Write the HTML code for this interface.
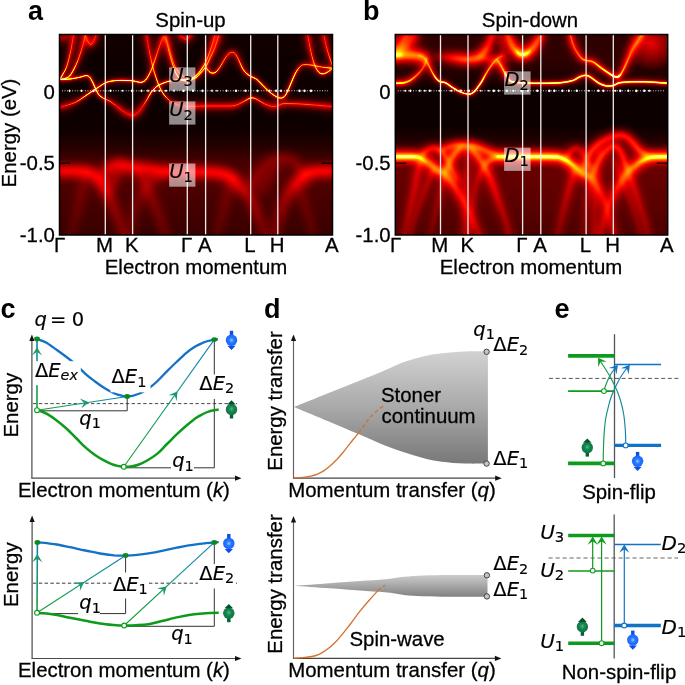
<!DOCTYPE html>
<html lang="en"><head><meta charset="utf-8"><title>Figure</title>
<style>
html,body{margin:0;padding:0;background:#fff}
svg{display:block}
.t{font-family:"Liberation Sans",sans-serif;font-size:20.4px;fill:#000;stroke:#000;stroke-width:.28px}
.b{font-family:"Liberation Sans",sans-serif;font-size:27px;font-weight:bold;fill:#000}
.m{font-family:"DejaVu Sans",sans-serif;font-style:italic;fill:#000;stroke:#000;stroke-width:.15px}
.r{font-family:"DejaVu Sans",sans-serif;font-style:normal;fill:#000;stroke:#000;stroke-width:.15px}
</style></head><body>
<svg width="685" height="685" viewBox="0 0 685 685">
<defs>
<filter id="hot" filterUnits="userSpaceOnUse" x="0" y="0" width="685" height="300" color-interpolation-filters="sRGB"><feComponentTransfer><feFuncR type="table" tableValues="0.042 0.094 0.147 0.199 0.252 0.304 0.357 0.409 0.462 0.514 0.567 0.619 0.672 0.724 0.777 0.829 0.882 0.934 0.987 1.000 1.000 1.000 1.000 1.000 1.000 1.000 1.000 1.000 1.000 1.000 1.000 1.000 1.000 1.000 1.000 1.000 1.000 1.000 1.000 1.000 1.000 1.000 1.000 1.000 1.000 1.000 1.000 1.000 1.000 1.000 1.000"/><feFuncG type="table" tableValues="0.000 0.000 0.000 0.000 0.000 0.000 0.000 0.000 0.000 0.000 0.000 0.000 0.000 0.000 0.000 0.000 0.000 0.000 0.000 0.039 0.092 0.144 0.197 0.249 0.302 0.354 0.407 0.459 0.512 0.564 0.617 0.669 0.722 0.774 0.827 0.879 0.932 0.984 1.000 1.000 1.000 1.000 1.000 1.000 1.000 1.000 1.000 1.000 1.000 1.000 1.000"/><feFuncB type="table" tableValues="0.000 0.000 0.000 0.000 0.000 0.000 0.000 0.000 0.000 0.000 0.000 0.000 0.000 0.000 0.000 0.000 0.000 0.000 0.000 0.000 0.000 0.000 0.000 0.000 0.000 0.000 0.000 0.000 0.000 0.000 0.000 0.000 0.000 0.000 0.000 0.000 0.000 0.000 0.055 0.134 0.213 0.291 0.370 0.449 0.528 0.606 0.685 0.764 0.843 0.921 1.000"/></feComponentTransfer></filter>
<filter id="b5" filterUnits="userSpaceOnUse" x="0" y="0" width="685" height="300" color-interpolation-filters="sRGB"><feGaussianBlur stdDeviation="4.5"/></filter>
<filter id="b2" filterUnits="userSpaceOnUse" x="0" y="0" width="685" height="300" color-interpolation-filters="sRGB"><feGaussianBlur stdDeviation="2"/></filter>
<filter id="b25" filterUnits="userSpaceOnUse" x="0" y="0" width="685" height="300" color-interpolation-filters="sRGB"><feGaussianBlur stdDeviation="2.5"/></filter>
<filter id="b1" filterUnits="userSpaceOnUse" x="0" y="0" width="685" height="300" color-interpolation-filters="sRGB"><feGaussianBlur stdDeviation="1"/></filter>
<filter id="b04" filterUnits="userSpaceOnUse" x="0" y="0" width="685" height="300" color-interpolation-filters="sRGB"><feGaussianBlur stdDeviation="0.3"/></filter>
<clipPath id="clip1"><rect x="59.5" y="34.5" width="273.0" height="200.5"/></clipPath><clipPath id="clip2"><rect x="395.3" y="34.5" width="272.4" height="200.5"/></clipPath>
<linearGradient id="g1" gradientUnits="userSpaceOnUse" x1="59.5" y1="0" x2="187.3" y2="0"><stop offset="0.000" stop-color="#fff" stop-opacity="1.000"/><stop offset="0.082" stop-color="#fff" stop-opacity="1.000"/><stop offset="0.160" stop-color="#fff" stop-opacity="0.988"/><stop offset="0.207" stop-color="#fff" stop-opacity="0.958"/><stop offset="0.235" stop-color="#fff" stop-opacity="0.985"/><stop offset="0.262" stop-color="#fff" stop-opacity="1.000"/><stop offset="0.290" stop-color="#fff" stop-opacity="1.000"/><stop offset="0.317" stop-color="#fff" stop-opacity="0.987"/><stop offset="0.360" stop-color="#fff" stop-opacity="0.575"/><stop offset="0.395" stop-color="#fff" stop-opacity="0.475"/><stop offset="0.444" stop-color="#fff" stop-opacity="0.245"/><stop offset="0.513" stop-color="#fff" stop-opacity="0.165"/><stop offset="0.574" stop-color="#fff" stop-opacity="0.165"/><stop offset="0.614" stop-color="#fff" stop-opacity="0.165"/><stop offset="0.650" stop-color="#fff" stop-opacity="0.215"/><stop offset="0.685" stop-color="#fff" stop-opacity="0.565"/><stop offset="0.714" stop-color="#fff" stop-opacity="1.000"/><stop offset="0.747" stop-color="#fff" stop-opacity="1.000"/><stop offset="0.783" stop-color="#fff" stop-opacity="1.000"/><stop offset="0.857" stop-color="#fff" stop-opacity="1.000"/><stop offset="0.927" stop-color="#fff" stop-opacity="1.000"/><stop offset="1.000" stop-color="#fff" stop-opacity="1.000"/></linearGradient>
<linearGradient id="g2" gradientUnits="userSpaceOnUse" x1="59.5" y1="0" x2="187.3" y2="0"><stop offset="0.000" stop-color="#fff" stop-opacity="0.000"/><stop offset="0.082" stop-color="#fff" stop-opacity="0.000"/><stop offset="0.160" stop-color="#fff" stop-opacity="0.013"/><stop offset="0.207" stop-color="#fff" stop-opacity="0.049"/><stop offset="0.235" stop-color="#fff" stop-opacity="0.018"/><stop offset="0.262" stop-color="#fff" stop-opacity="0.000"/><stop offset="0.290" stop-color="#fff" stop-opacity="0.000"/><stop offset="0.317" stop-color="#fff" stop-opacity="0.015"/><stop offset="0.360" stop-color="#fff" stop-opacity="0.268"/><stop offset="0.395" stop-color="#fff" stop-opacity="0.422"/><stop offset="0.444" stop-color="#fff" stop-opacity="0.774"/><stop offset="0.513" stop-color="#fff" stop-opacity="0.897"/><stop offset="0.574" stop-color="#fff" stop-opacity="0.897"/><stop offset="0.614" stop-color="#fff" stop-opacity="0.897"/><stop offset="0.650" stop-color="#fff" stop-opacity="0.820"/><stop offset="0.685" stop-color="#fff" stop-opacity="0.284"/><stop offset="0.714" stop-color="#fff" stop-opacity="0.000"/><stop offset="0.747" stop-color="#fff" stop-opacity="0.000"/><stop offset="0.783" stop-color="#fff" stop-opacity="0.000"/><stop offset="0.857" stop-color="#fff" stop-opacity="0.000"/><stop offset="0.927" stop-color="#fff" stop-opacity="0.000"/><stop offset="1.000" stop-color="#fff" stop-opacity="0.000"/></linearGradient>
<linearGradient id="g3" gradientUnits="userSpaceOnUse" x1="59.5" y1="0" x2="187.3" y2="0"><stop offset="0.000" stop-color="#fff" stop-opacity="0.170"/><stop offset="0.067" stop-color="#fff" stop-opacity="0.290"/><stop offset="0.136" stop-color="#fff" stop-opacity="0.465"/><stop offset="0.221" stop-color="#fff" stop-opacity="1.000"/><stop offset="0.290" stop-color="#fff" stop-opacity="1.000"/><stop offset="0.360" stop-color="#fff" stop-opacity="1.000"/><stop offset="0.411" stop-color="#fff" stop-opacity="1.000"/><stop offset="0.467" stop-color="#fff" stop-opacity="1.000"/><stop offset="0.520" stop-color="#fff" stop-opacity="1.000"/><stop offset="0.574" stop-color="#fff" stop-opacity="1.000"/><stop offset="0.614" stop-color="#fff" stop-opacity="1.000"/><stop offset="0.646" stop-color="#fff" stop-opacity="1.000"/><stop offset="0.682" stop-color="#fff" stop-opacity="1.000"/><stop offset="0.728" stop-color="#fff" stop-opacity="0.594"/><stop offset="0.774" stop-color="#fff" stop-opacity="0.342"/><stop offset="0.798" stop-color="#fff" stop-opacity="0.219"/><stop offset="0.815" stop-color="#fff" stop-opacity="0.165"/><stop offset="0.829" stop-color="#fff" stop-opacity="0.190"/><stop offset="0.842" stop-color="#fff" stop-opacity="0.258"/><stop offset="0.865" stop-color="#fff" stop-opacity="0.427"/><stop offset="0.892" stop-color="#fff" stop-opacity="0.594"/><stop offset="0.919" stop-color="#fff" stop-opacity="0.950"/><stop offset="0.956" stop-color="#fff" stop-opacity="1.000"/><stop offset="1.000" stop-color="#fff" stop-opacity="1.000"/></linearGradient>
<linearGradient id="g4" gradientUnits="userSpaceOnUse" x1="59.5" y1="0" x2="187.3" y2="0"><stop offset="0.000" stop-color="#fff" stop-opacity="0.889"/><stop offset="0.067" stop-color="#fff" stop-opacity="0.705"/><stop offset="0.136" stop-color="#fff" stop-opacity="0.437"/><stop offset="0.221" stop-color="#fff" stop-opacity="0.000"/><stop offset="0.290" stop-color="#fff" stop-opacity="0.000"/><stop offset="0.360" stop-color="#fff" stop-opacity="0.000"/><stop offset="0.411" stop-color="#fff" stop-opacity="0.000"/><stop offset="0.467" stop-color="#fff" stop-opacity="0.000"/><stop offset="0.520" stop-color="#fff" stop-opacity="0.000"/><stop offset="0.574" stop-color="#fff" stop-opacity="0.000"/><stop offset="0.614" stop-color="#fff" stop-opacity="0.000"/><stop offset="0.646" stop-color="#fff" stop-opacity="0.000"/><stop offset="0.682" stop-color="#fff" stop-opacity="0.000"/><stop offset="0.728" stop-color="#fff" stop-opacity="0.239"/><stop offset="0.774" stop-color="#fff" stop-opacity="0.626"/><stop offset="0.798" stop-color="#fff" stop-opacity="0.814"/><stop offset="0.815" stop-color="#fff" stop-opacity="0.897"/><stop offset="0.829" stop-color="#fff" stop-opacity="0.858"/><stop offset="0.842" stop-color="#fff" stop-opacity="0.754"/><stop offset="0.865" stop-color="#fff" stop-opacity="0.495"/><stop offset="0.892" stop-color="#fff" stop-opacity="0.239"/><stop offset="0.919" stop-color="#fff" stop-opacity="0.057"/><stop offset="0.956" stop-color="#fff" stop-opacity="0.000"/><stop offset="1.000" stop-color="#fff" stop-opacity="0.000"/></linearGradient>
<linearGradient id="g5" gradientUnits="userSpaceOnUse" x1="146.1" y1="0" x2="187.3" y2="0"><stop offset="0.000" stop-color="#fff" stop-opacity="0.132"/><stop offset="0.070" stop-color="#fff" stop-opacity="0.273"/><stop offset="0.155" stop-color="#fff" stop-opacity="0.463"/><stop offset="0.240" stop-color="#fff" stop-opacity="0.795"/><stop offset="0.325" stop-color="#fff" stop-opacity="0.800"/><stop offset="0.439" stop-color="#fff" stop-opacity="0.800"/><stop offset="0.580" stop-color="#fff" stop-opacity="0.396"/><stop offset="0.774" stop-color="#fff" stop-opacity="0.232"/><stop offset="1.000" stop-color="#fff" stop-opacity="0.172"/></linearGradient>
<linearGradient id="g6" gradientUnits="userSpaceOnUse" x1="146.1" y1="0" x2="187.3" y2="0"><stop offset="0.000" stop-color="#fff" stop-opacity="0.897"/><stop offset="0.070" stop-color="#fff" stop-opacity="0.626"/><stop offset="0.155" stop-color="#fff" stop-opacity="0.263"/><stop offset="0.240" stop-color="#fff" stop-opacity="0.007"/><stop offset="0.325" stop-color="#fff" stop-opacity="0.000"/><stop offset="0.439" stop-color="#fff" stop-opacity="0.000"/><stop offset="0.580" stop-color="#fff" stop-opacity="0.391"/><stop offset="0.774" stop-color="#fff" stop-opacity="0.705"/><stop offset="1.000" stop-color="#fff" stop-opacity="0.820"/></linearGradient>
<linearGradient id="g7" gradientUnits="userSpaceOnUse" x1="187.3" y1="0" x2="332.5" y2="0"><stop offset="0.000" stop-color="#fff" stop-opacity="0.215"/><stop offset="0.127" stop-color="#fff" stop-opacity="0.240"/><stop offset="0.260" stop-color="#fff" stop-opacity="0.240"/><stop offset="0.329" stop-color="#fff" stop-opacity="0.265"/><stop offset="0.389" stop-color="#fff" stop-opacity="0.465"/><stop offset="0.437" stop-color="#fff" stop-opacity="0.860"/><stop offset="0.479" stop-color="#fff" stop-opacity="0.575"/><stop offset="0.530" stop-color="#fff" stop-opacity="0.355"/><stop offset="0.590" stop-color="#fff" stop-opacity="0.210"/><stop offset="0.623" stop-color="#fff" stop-opacity="0.260"/><stop offset="0.660" stop-color="#fff" stop-opacity="0.355"/><stop offset="0.731" stop-color="#fff" stop-opacity="0.355"/><stop offset="0.831" stop-color="#fff" stop-opacity="0.315"/><stop offset="1.000" stop-color="#fff" stop-opacity="0.210"/></linearGradient>
<linearGradient id="g8" gradientUnits="userSpaceOnUse" x1="187.3" y1="0" x2="332.5" y2="0"><stop offset="0.000" stop-color="#fff" stop-opacity="0.820"/><stop offset="0.127" stop-color="#fff" stop-opacity="0.782"/><stop offset="0.260" stop-color="#fff" stop-opacity="0.782"/><stop offset="0.329" stop-color="#fff" stop-opacity="0.744"/><stop offset="0.389" stop-color="#fff" stop-opacity="0.437"/><stop offset="0.437" stop-color="#fff" stop-opacity="0.161"/><stop offset="0.479" stop-color="#fff" stop-opacity="0.268"/><stop offset="0.530" stop-color="#fff" stop-opacity="0.606"/><stop offset="0.590" stop-color="#fff" stop-opacity="0.828"/><stop offset="0.623" stop-color="#fff" stop-opacity="0.751"/><stop offset="0.660" stop-color="#fff" stop-opacity="0.606"/><stop offset="0.731" stop-color="#fff" stop-opacity="0.606"/><stop offset="0.831" stop-color="#fff" stop-opacity="0.667"/><stop offset="1.000" stop-color="#fff" stop-opacity="0.828"/></linearGradient>
<linearGradient id="g9" gradientUnits="userSpaceOnUse" x1="187.3" y1="0" x2="215.5" y2="0"><stop offset="0.000" stop-color="#fff" stop-opacity="1.000"/><stop offset="0.298" stop-color="#fff" stop-opacity="0.965"/><stop offset="0.507" stop-color="#fff" stop-opacity="0.831"/><stop offset="0.652" stop-color="#fff" stop-opacity="0.522"/><stop offset="0.794" stop-color="#fff" stop-opacity="0.378"/><stop offset="0.911" stop-color="#fff" stop-opacity="0.234"/><stop offset="1.000" stop-color="#fff" stop-opacity="0.165"/></linearGradient>
<linearGradient id="g10" gradientUnits="userSpaceOnUse" x1="187.3" y1="0" x2="215.5" y2="0"><stop offset="0.000" stop-color="#fff" stop-opacity="0.000"/><stop offset="0.298" stop-color="#fff" stop-opacity="0.040"/><stop offset="0.507" stop-color="#fff" stop-opacity="0.195"/><stop offset="0.652" stop-color="#fff" stop-opacity="0.349"/><stop offset="0.794" stop-color="#fff" stop-opacity="0.571"/><stop offset="0.911" stop-color="#fff" stop-opacity="0.792"/><stop offset="1.000" stop-color="#fff" stop-opacity="0.897"/></linearGradient>
<linearGradient id="g11" gradientUnits="userSpaceOnUse" x1="187.3" y1="0" x2="219.5" y2="0"><stop offset="0.000" stop-color="#fff" stop-opacity="1.000"/><stop offset="0.261" stop-color="#fff" stop-opacity="1.000"/><stop offset="0.407" stop-color="#fff" stop-opacity="0.912"/><stop offset="0.571" stop-color="#fff" stop-opacity="0.594"/><stop offset="0.696" stop-color="#fff" stop-opacity="0.477"/><stop offset="0.860" stop-color="#fff" stop-opacity="0.309"/><stop offset="1.000" stop-color="#fff" stop-opacity="0.165"/></linearGradient>
<linearGradient id="g12" gradientUnits="userSpaceOnUse" x1="187.3" y1="0" x2="219.5" y2="0"><stop offset="0.000" stop-color="#fff" stop-opacity="0.000"/><stop offset="0.261" stop-color="#fff" stop-opacity="0.000"/><stop offset="0.407" stop-color="#fff" stop-opacity="0.102"/><stop offset="0.571" stop-color="#fff" stop-opacity="0.239"/><stop offset="0.696" stop-color="#fff" stop-opacity="0.418"/><stop offset="0.860" stop-color="#fff" stop-opacity="0.677"/><stop offset="1.000" stop-color="#fff" stop-opacity="0.897"/></linearGradient>
<linearGradient id="g13" gradientUnits="userSpaceOnUse" x1="205.7" y1="0" x2="332.5" y2="0"><stop offset="0.000" stop-color="#fff" stop-opacity="0.594"/><stop offset="0.026" stop-color="#fff" stop-opacity="0.879"/><stop offset="0.051" stop-color="#fff" stop-opacity="0.910"/><stop offset="0.081" stop-color="#fff" stop-opacity="0.888"/><stop offset="0.113" stop-color="#fff" stop-opacity="0.594"/><stop offset="0.152" stop-color="#fff" stop-opacity="0.472"/><stop offset="0.184" stop-color="#fff" stop-opacity="0.400"/><stop offset="0.207" stop-color="#fff" stop-opacity="0.382"/><stop offset="0.231" stop-color="#fff" stop-opacity="0.398"/><stop offset="0.259" stop-color="#fff" stop-opacity="0.486"/><stop offset="0.289" stop-color="#fff" stop-opacity="0.812"/><stop offset="0.318" stop-color="#fff" stop-opacity="0.908"/><stop offset="0.356" stop-color="#fff" stop-opacity="0.973"/><stop offset="0.405" stop-color="#fff" stop-opacity="1.000"/><stop offset="0.461" stop-color="#fff" stop-opacity="1.000"/><stop offset="0.519" stop-color="#fff" stop-opacity="1.000"/><stop offset="0.569" stop-color="#fff" stop-opacity="0.893"/><stop offset="0.599" stop-color="#fff" stop-opacity="0.853"/><stop offset="0.618" stop-color="#fff" stop-opacity="0.933"/><stop offset="0.634" stop-color="#fff" stop-opacity="1.000"/><stop offset="0.657" stop-color="#fff" stop-opacity="1.000"/><stop offset="0.680" stop-color="#fff" stop-opacity="1.000"/><stop offset="0.704" stop-color="#fff" stop-opacity="0.927"/><stop offset="0.726" stop-color="#fff" stop-opacity="0.838"/><stop offset="0.748" stop-color="#fff" stop-opacity="0.584"/><stop offset="0.772" stop-color="#fff" stop-opacity="0.561"/><stop offset="0.830" stop-color="#fff" stop-opacity="0.565"/><stop offset="0.922" stop-color="#fff" stop-opacity="0.597"/><stop offset="1.000" stop-color="#fff" stop-opacity="0.815"/></linearGradient>
<linearGradient id="g14" gradientUnits="userSpaceOnUse" x1="205.7" y1="0" x2="332.5" y2="0"><stop offset="0.000" stop-color="#fff" stop-opacity="0.239"/><stop offset="0.026" stop-color="#fff" stop-opacity="0.139"/><stop offset="0.051" stop-color="#fff" stop-opacity="0.104"/><stop offset="0.081" stop-color="#fff" stop-opacity="0.128"/><stop offset="0.113" stop-color="#fff" stop-opacity="0.239"/><stop offset="0.152" stop-color="#fff" stop-opacity="0.427"/><stop offset="0.184" stop-color="#fff" stop-opacity="0.537"/><stop offset="0.207" stop-color="#fff" stop-opacity="0.564"/><stop offset="0.231" stop-color="#fff" stop-opacity="0.540"/><stop offset="0.259" stop-color="#fff" stop-opacity="0.405"/><stop offset="0.289" stop-color="#fff" stop-opacity="0.217"/><stop offset="0.318" stop-color="#fff" stop-opacity="0.106"/><stop offset="0.356" stop-color="#fff" stop-opacity="0.031"/><stop offset="0.405" stop-color="#fff" stop-opacity="0.000"/><stop offset="0.461" stop-color="#fff" stop-opacity="0.000"/><stop offset="0.519" stop-color="#fff" stop-opacity="0.000"/><stop offset="0.569" stop-color="#fff" stop-opacity="0.123"/><stop offset="0.599" stop-color="#fff" stop-opacity="0.169"/><stop offset="0.618" stop-color="#fff" stop-opacity="0.077"/><stop offset="0.634" stop-color="#fff" stop-opacity="0.000"/><stop offset="0.657" stop-color="#fff" stop-opacity="0.000"/><stop offset="0.680" stop-color="#fff" stop-opacity="0.000"/><stop offset="0.704" stop-color="#fff" stop-opacity="0.084"/><stop offset="0.726" stop-color="#fff" stop-opacity="0.186"/><stop offset="0.748" stop-color="#fff" stop-opacity="0.254"/><stop offset="0.772" stop-color="#fff" stop-opacity="0.290"/><stop offset="0.830" stop-color="#fff" stop-opacity="0.283"/><stop offset="0.922" stop-color="#fff" stop-opacity="0.234"/><stop offset="1.000" stop-color="#fff" stop-opacity="0.212"/></linearGradient>
<linearGradient id="g15" gradientUnits="userSpaceOnUse" x1="307.3" y1="0" x2="332.5" y2="0"><stop offset="0.000" stop-color="#fff" stop-opacity="0.165"/><stop offset="0.143" stop-color="#fff" stop-opacity="0.376"/><stop offset="0.290" stop-color="#fff" stop-opacity="0.565"/><stop offset="0.460" stop-color="#fff" stop-opacity="0.894"/><stop offset="0.635" stop-color="#fff" stop-opacity="0.923"/><stop offset="0.837" stop-color="#fff" stop-opacity="0.881"/><stop offset="1.000" stop-color="#fff" stop-opacity="0.815"/></linearGradient>
<linearGradient id="g16" gradientUnits="userSpaceOnUse" x1="307.3" y1="0" x2="332.5" y2="0"><stop offset="0.000" stop-color="#fff" stop-opacity="0.897"/><stop offset="0.143" stop-color="#fff" stop-opacity="0.573"/><stop offset="0.290" stop-color="#fff" stop-opacity="0.283"/><stop offset="0.460" stop-color="#fff" stop-opacity="0.122"/><stop offset="0.635" stop-color="#fff" stop-opacity="0.088"/><stop offset="0.837" stop-color="#fff" stop-opacity="0.137"/><stop offset="1.000" stop-color="#fff" stop-opacity="0.212"/></linearGradient>
<linearGradient id="g17" gradientUnits="userSpaceOnUse" x1="323.3" y1="0" x2="332.5" y2="0"><stop offset="0.000" stop-color="#fff" stop-opacity="0.165"/><stop offset="0.402" stop-color="#fff" stop-opacity="0.335"/><stop offset="1.000" stop-color="#fff" stop-opacity="0.580"/></linearGradient>
<linearGradient id="g18" gradientUnits="userSpaceOnUse" x1="323.3" y1="0" x2="332.5" y2="0"><stop offset="0.000" stop-color="#fff" stop-opacity="0.897"/><stop offset="0.402" stop-color="#fff" stop-opacity="0.637"/><stop offset="1.000" stop-color="#fff" stop-opacity="0.261"/></linearGradient>
<linearGradient id="g19" gradientUnits="userSpaceOnUse" x1="59.5" y1="0" x2="74.0" y2="0"><stop offset="0.000" stop-color="#fff" stop-opacity="1.000"/><stop offset="0.241" stop-color="#fff" stop-opacity="0.927"/><stop offset="0.497" stop-color="#fff" stop-opacity="0.587"/><stop offset="0.759" stop-color="#fff" stop-opacity="0.378"/><stop offset="1.000" stop-color="#fff" stop-opacity="0.165"/></linearGradient>
<linearGradient id="g20" gradientUnits="userSpaceOnUse" x1="59.5" y1="0" x2="74.0" y2="0"><stop offset="0.000" stop-color="#fff" stop-opacity="0.000"/><stop offset="0.241" stop-color="#fff" stop-opacity="0.084"/><stop offset="0.497" stop-color="#fff" stop-opacity="0.250"/><stop offset="0.759" stop-color="#fff" stop-opacity="0.571"/><stop offset="1.000" stop-color="#fff" stop-opacity="0.897"/></linearGradient>
<linearGradient id="g21" gradientUnits="userSpaceOnUse" x1="59.5" y1="0" x2="85.5" y2="0"><stop offset="0.000" stop-color="#fff" stop-opacity="1.000"/><stop offset="0.212" stop-color="#fff" stop-opacity="1.000"/><stop offset="0.388" stop-color="#fff" stop-opacity="0.965"/><stop offset="0.558" stop-color="#fff" stop-opacity="0.831"/><stop offset="0.727" stop-color="#fff" stop-opacity="0.482"/><stop offset="0.865" stop-color="#fff" stop-opacity="0.320"/><stop offset="0.950" stop-color="#fff" stop-opacity="0.208"/><stop offset="1.000" stop-color="#fff" stop-opacity="0.165"/></linearGradient>
<linearGradient id="g22" gradientUnits="userSpaceOnUse" x1="59.5" y1="0" x2="85.5" y2="0"><stop offset="0.000" stop-color="#fff" stop-opacity="0.000"/><stop offset="0.212" stop-color="#fff" stop-opacity="0.000"/><stop offset="0.388" stop-color="#fff" stop-opacity="0.040"/><stop offset="0.558" stop-color="#fff" stop-opacity="0.195"/><stop offset="0.727" stop-color="#fff" stop-opacity="0.411"/><stop offset="0.865" stop-color="#fff" stop-opacity="0.659"/><stop offset="0.950" stop-color="#fff" stop-opacity="0.832"/><stop offset="1.000" stop-color="#fff" stop-opacity="0.897"/></linearGradient>
<linearGradient id="g23" gradientUnits="userSpaceOnUse" x1="84.5" y1="0" x2="96.6" y2="0"><stop offset="0.000" stop-color="#fff" stop-opacity="0.165"/><stop offset="0.207" stop-color="#fff" stop-opacity="0.205"/><stop offset="0.521" stop-color="#fff" stop-opacity="0.271"/><stop offset="0.785" stop-color="#fff" stop-opacity="0.212"/><stop offset="1.000" stop-color="#fff" stop-opacity="0.165"/></linearGradient>
<linearGradient id="g24" gradientUnits="userSpaceOnUse" x1="84.5" y1="0" x2="96.6" y2="0"><stop offset="0.000" stop-color="#fff" stop-opacity="0.897"/><stop offset="0.207" stop-color="#fff" stop-opacity="0.836"/><stop offset="0.521" stop-color="#fff" stop-opacity="0.734"/><stop offset="0.785" stop-color="#fff" stop-opacity="0.825"/><stop offset="1.000" stop-color="#fff" stop-opacity="0.897"/></linearGradient>
<linearGradient id="g25" gradientUnits="userSpaceOnUse" x1="178.2" y1="0" x2="192.0" y2="0"><stop offset="0.000" stop-color="#fff" stop-opacity="0.165"/><stop offset="0.420" stop-color="#fff" stop-opacity="0.182"/><stop offset="0.681" stop-color="#fff" stop-opacity="0.188"/><stop offset="1.000" stop-color="#fff" stop-opacity="0.165"/></linearGradient>
<linearGradient id="g26" gradientUnits="userSpaceOnUse" x1="178.2" y1="0" x2="192.0" y2="0"><stop offset="0.000" stop-color="#fff" stop-opacity="0.897"/><stop offset="0.420" stop-color="#fff" stop-opacity="0.871"/><stop offset="0.681" stop-color="#fff" stop-opacity="0.862"/><stop offset="1.000" stop-color="#fff" stop-opacity="0.897"/></linearGradient>
<linearGradient id="g27" gradientUnits="userSpaceOnUse" x1="165.0" y1="0" x2="184.0" y2="0"><stop offset="0.000" stop-color="#fff" stop-opacity="0.099"/><stop offset="0.132" stop-color="#fff" stop-opacity="0.140"/><stop offset="0.289" stop-color="#fff" stop-opacity="0.235"/><stop offset="0.511" stop-color="#fff" stop-opacity="0.347"/><stop offset="0.758" stop-color="#fff" stop-opacity="0.543"/><stop offset="1.000" stop-color="#fff" stop-opacity="0.591"/></linearGradient>
<linearGradient id="g28" gradientUnits="userSpaceOnUse" x1="165.0" y1="0" x2="184.0" y2="0"><stop offset="0.000" stop-color="#fff" stop-opacity="0.897"/><stop offset="0.132" stop-color="#fff" stop-opacity="0.792"/><stop offset="0.289" stop-color="#fff" stop-opacity="0.548"/><stop offset="0.511" stop-color="#fff" stop-opacity="0.263"/><stop offset="0.758" stop-color="#fff" stop-opacity="0.108"/><stop offset="1.000" stop-color="#fff" stop-opacity="0.018"/></linearGradient>
<linearGradient id="g29" gradientUnits="userSpaceOnUse" x1="57.0" y1="0" x2="71.0" y2="0"><stop offset="0.000" stop-color="#fff" stop-opacity="0.800"/><stop offset="1.000" stop-color="#fff" stop-opacity="0.500"/></linearGradient>
<linearGradient id="g30" gradientUnits="userSpaceOnUse" x1="57.0" y1="0" x2="125.0" y2="0"><stop offset="0.000" stop-color="#fff" stop-opacity="0.900"/><stop offset="0.485" stop-color="#fff" stop-opacity="0.900"/><stop offset="0.632" stop-color="#fff" stop-opacity="0.720"/><stop offset="0.779" stop-color="#fff" stop-opacity="0.420"/><stop offset="1.000" stop-color="#fff" stop-opacity="0.245"/></linearGradient>
<linearGradient id="g31" gradientUnits="userSpaceOnUse" x1="57.0" y1="0" x2="125.0" y2="0"><stop offset="0.000" stop-color="#fff" stop-opacity="0.144"/><stop offset="0.485" stop-color="#fff" stop-opacity="0.144"/><stop offset="0.632" stop-color="#fff" stop-opacity="0.115"/><stop offset="0.779" stop-color="#fff" stop-opacity="0.067"/><stop offset="1.000" stop-color="#fff" stop-opacity="0.039"/></linearGradient>
<linearGradient id="g32" gradientUnits="userSpaceOnUse" x1="70.0" y1="0" x2="86.0" y2="0"><stop offset="0.000" stop-color="#fff" stop-opacity="0.124"/><stop offset="1.000" stop-color="#fff" stop-opacity="0.248"/></linearGradient>
<linearGradient id="g33" gradientUnits="userSpaceOnUse" x1="70.0" y1="0" x2="86.0" y2="0"><stop offset="0.000" stop-color="#fff" stop-opacity="0.020"/><stop offset="1.000" stop-color="#fff" stop-opacity="0.040"/></linearGradient>
<linearGradient id="g34" gradientUnits="userSpaceOnUse" x1="100.0" y1="0" x2="187.3" y2="0"><stop offset="0.000" stop-color="#fff" stop-opacity="0.350"/><stop offset="0.115" stop-color="#fff" stop-opacity="0.765"/><stop offset="1.000" stop-color="#fff" stop-opacity="0.900"/></linearGradient>
<linearGradient id="g35" gradientUnits="userSpaceOnUse" x1="100.0" y1="0" x2="187.3" y2="0"><stop offset="0.000" stop-color="#fff" stop-opacity="0.056"/><stop offset="0.115" stop-color="#fff" stop-opacity="0.122"/><stop offset="1.000" stop-color="#fff" stop-opacity="0.144"/></linearGradient>
<linearGradient id="g36" gradientUnits="userSpaceOnUse" x1="106.0" y1="0" x2="124.0" y2="0"><stop offset="0.000" stop-color="#fff" stop-opacity="0.372"/><stop offset="1.000" stop-color="#fff" stop-opacity="0.310"/></linearGradient>
<linearGradient id="g37" gradientUnits="userSpaceOnUse" x1="106.0" y1="0" x2="124.0" y2="0"><stop offset="0.000" stop-color="#fff" stop-opacity="0.060"/><stop offset="1.000" stop-color="#fff" stop-opacity="0.050"/></linearGradient>
<linearGradient id="g38" gradientUnits="userSpaceOnUse" x1="136.0" y1="0" x2="167.0" y2="0"><stop offset="0.000" stop-color="#fff" stop-opacity="0.372"/><stop offset="0.452" stop-color="#fff" stop-opacity="0.310"/><stop offset="1.000" stop-color="#fff" stop-opacity="0.186"/></linearGradient>
<linearGradient id="g39" gradientUnits="userSpaceOnUse" x1="136.0" y1="0" x2="167.0" y2="0"><stop offset="0.000" stop-color="#fff" stop-opacity="0.060"/><stop offset="0.452" stop-color="#fff" stop-opacity="0.050"/><stop offset="1.000" stop-color="#fff" stop-opacity="0.030"/></linearGradient>
<linearGradient id="g40" gradientUnits="userSpaceOnUse" x1="128.0" y1="0" x2="166.0" y2="0"><stop offset="0.000" stop-color="#fff" stop-opacity="0.155"/><stop offset="0.579" stop-color="#fff" stop-opacity="0.279"/><stop offset="1.000" stop-color="#fff" stop-opacity="0.310"/></linearGradient>
<linearGradient id="g41" gradientUnits="userSpaceOnUse" x1="128.0" y1="0" x2="166.0" y2="0"><stop offset="0.000" stop-color="#fff" stop-opacity="0.025"/><stop offset="0.579" stop-color="#fff" stop-opacity="0.045"/><stop offset="1.000" stop-color="#fff" stop-opacity="0.050"/></linearGradient>
<linearGradient id="g42" gradientUnits="userSpaceOnUse" x1="187.3" y1="0" x2="266.0" y2="0"><stop offset="0.000" stop-color="#fff" stop-opacity="0.900"/><stop offset="0.479" stop-color="#fff" stop-opacity="0.900"/><stop offset="0.581" stop-color="#fff" stop-opacity="0.900"/><stop offset="0.733" stop-color="#fff" stop-opacity="0.490"/><stop offset="1.000" stop-color="#fff" stop-opacity="0.245"/></linearGradient>
<linearGradient id="g43" gradientUnits="userSpaceOnUse" x1="187.3" y1="0" x2="266.0" y2="0"><stop offset="0.000" stop-color="#fff" stop-opacity="0.144"/><stop offset="0.479" stop-color="#fff" stop-opacity="0.144"/><stop offset="0.581" stop-color="#fff" stop-opacity="0.144"/><stop offset="0.733" stop-color="#fff" stop-opacity="0.078"/><stop offset="1.000" stop-color="#fff" stop-opacity="0.039"/></linearGradient>
<linearGradient id="g44" gradientUnits="userSpaceOnUse" x1="216.0" y1="0" x2="232.0" y2="0"><stop offset="0.000" stop-color="#fff" stop-opacity="0.136"/><stop offset="1.000" stop-color="#fff" stop-opacity="0.248"/></linearGradient>
<linearGradient id="g45" gradientUnits="userSpaceOnUse" x1="216.0" y1="0" x2="232.0" y2="0"><stop offset="0.000" stop-color="#fff" stop-opacity="0.022"/><stop offset="1.000" stop-color="#fff" stop-opacity="0.040"/></linearGradient>
<linearGradient id="g46" gradientUnits="userSpaceOnUse" x1="250.0" y1="0" x2="307.0" y2="0"><stop offset="0.000" stop-color="#fff" stop-opacity="0.279"/><stop offset="0.526" stop-color="#fff" stop-opacity="0.310"/><stop offset="1.000" stop-color="#fff" stop-opacity="0.279"/></linearGradient>
<linearGradient id="g47" gradientUnits="userSpaceOnUse" x1="250.0" y1="0" x2="307.0" y2="0"><stop offset="0.000" stop-color="#fff" stop-opacity="0.045"/><stop offset="0.526" stop-color="#fff" stop-opacity="0.050"/><stop offset="1.000" stop-color="#fff" stop-opacity="0.045"/></linearGradient>
<linearGradient id="g48" gradientUnits="userSpaceOnUse" x1="274.0" y1="0" x2="335.0" y2="0"><stop offset="0.000" stop-color="#fff" stop-opacity="0.245"/><stop offset="0.262" stop-color="#fff" stop-opacity="0.490"/><stop offset="0.508" stop-color="#fff" stop-opacity="0.900"/><stop offset="1.000" stop-color="#fff" stop-opacity="0.900"/></linearGradient>
<linearGradient id="g49" gradientUnits="userSpaceOnUse" x1="274.0" y1="0" x2="335.0" y2="0"><stop offset="0.000" stop-color="#fff" stop-opacity="0.039"/><stop offset="0.262" stop-color="#fff" stop-opacity="0.078"/><stop offset="0.508" stop-color="#fff" stop-opacity="0.144"/><stop offset="1.000" stop-color="#fff" stop-opacity="0.144"/></linearGradient>
<linearGradient id="g50" gradientUnits="userSpaceOnUse" x1="296.0" y1="0" x2="314.0" y2="0"><stop offset="0.000" stop-color="#fff" stop-opacity="0.248"/><stop offset="1.000" stop-color="#fff" stop-opacity="0.136"/></linearGradient>
<linearGradient id="g51" gradientUnits="userSpaceOnUse" x1="296.0" y1="0" x2="314.0" y2="0"><stop offset="0.000" stop-color="#fff" stop-opacity="0.040"/><stop offset="1.000" stop-color="#fff" stop-opacity="0.022"/></linearGradient>
<linearGradient id="g52" gradientUnits="userSpaceOnUse" x1="262.0" y1="0" x2="280.0" y2="0"><stop offset="0.000" stop-color="#fff" stop-opacity="0.186"/><stop offset="1.000" stop-color="#fff" stop-opacity="0.186"/></linearGradient>
<linearGradient id="g53" gradientUnits="userSpaceOnUse" x1="262.0" y1="0" x2="280.0" y2="0"><stop offset="0.000" stop-color="#fff" stop-opacity="0.030"/><stop offset="1.000" stop-color="#fff" stop-opacity="0.030"/></linearGradient>
<linearGradient id="bga" gradientUnits="userSpaceOnUse" x1="0" y1="34" x2="0" y2="235"><stop offset="0.000" stop-color="#fff" stop-opacity="0.012"/><stop offset="0.378" stop-color="#fff" stop-opacity="0.004"/><stop offset="0.488" stop-color="#fff" stop-opacity="0.012"/><stop offset="0.557" stop-color="#fff" stop-opacity="0.040"/><stop offset="0.627" stop-color="#fff" stop-opacity="0.085"/><stop offset="0.726" stop-color="#fff" stop-opacity="0.105"/><stop offset="0.851" stop-color="#fff" stop-opacity="0.090"/><stop offset="1.000" stop-color="#fff" stop-opacity="0.070"/></linearGradient>
<linearGradient id="g54" gradientUnits="userSpaceOnUse" x1="419.0" y1="0" x2="502.0" y2="0"><stop offset="0.000" stop-color="#fff" stop-opacity="0.161"/><stop offset="0.048" stop-color="#fff" stop-opacity="0.189"/><stop offset="0.084" stop-color="#fff" stop-opacity="0.261"/><stop offset="0.125" stop-color="#fff" stop-opacity="0.385"/><stop offset="0.157" stop-color="#fff" stop-opacity="0.498"/><stop offset="0.196" stop-color="#fff" stop-opacity="0.871"/><stop offset="0.229" stop-color="#fff" stop-opacity="0.956"/><stop offset="0.259" stop-color="#fff" stop-opacity="1.000"/><stop offset="0.319" stop-color="#fff" stop-opacity="1.000"/><stop offset="0.361" stop-color="#fff" stop-opacity="1.000"/><stop offset="0.407" stop-color="#fff" stop-opacity="1.000"/><stop offset="0.512" stop-color="#fff" stop-opacity="1.000"/><stop offset="0.592" stop-color="#fff" stop-opacity="1.000"/><stop offset="0.633" stop-color="#fff" stop-opacity="1.000"/><stop offset="0.671" stop-color="#fff" stop-opacity="1.000"/><stop offset="0.711" stop-color="#fff" stop-opacity="1.000"/><stop offset="0.759" stop-color="#fff" stop-opacity="0.979"/><stop offset="0.807" stop-color="#fff" stop-opacity="0.535"/><stop offset="0.876" stop-color="#fff" stop-opacity="0.354"/><stop offset="0.940" stop-color="#fff" stop-opacity="0.231"/><stop offset="1.000" stop-color="#fff" stop-opacity="0.169"/></linearGradient>
<linearGradient id="g55" gradientUnits="userSpaceOnUse" x1="419.0" y1="0" x2="502.0" y2="0"><stop offset="0.000" stop-color="#fff" stop-opacity="0.925"/><stop offset="0.048" stop-color="#fff" stop-opacity="0.875"/><stop offset="0.084" stop-color="#fff" stop-opacity="0.752"/><stop offset="0.125" stop-color="#fff" stop-opacity="0.540"/><stop offset="0.157" stop-color="#fff" stop-opacity="0.346"/><stop offset="0.196" stop-color="#fff" stop-opacity="0.155"/><stop offset="0.229" stop-color="#fff" stop-opacity="0.053"/><stop offset="0.259" stop-color="#fff" stop-opacity="0.000"/><stop offset="0.319" stop-color="#fff" stop-opacity="0.000"/><stop offset="0.361" stop-color="#fff" stop-opacity="0.000"/><stop offset="0.407" stop-color="#fff" stop-opacity="0.000"/><stop offset="0.512" stop-color="#fff" stop-opacity="0.000"/><stop offset="0.592" stop-color="#fff" stop-opacity="0.000"/><stop offset="0.633" stop-color="#fff" stop-opacity="0.000"/><stop offset="0.671" stop-color="#fff" stop-opacity="0.000"/><stop offset="0.711" stop-color="#fff" stop-opacity="0.000"/><stop offset="0.759" stop-color="#fff" stop-opacity="0.025"/><stop offset="0.807" stop-color="#fff" stop-opacity="0.282"/><stop offset="0.876" stop-color="#fff" stop-opacity="0.593"/><stop offset="0.940" stop-color="#fff" stop-opacity="0.805"/><stop offset="1.000" stop-color="#fff" stop-opacity="0.911"/></linearGradient>
<linearGradient id="g56" gradientUnits="userSpaceOnUse" x1="390.0" y1="0" x2="424.0" y2="0"><stop offset="0.000" stop-color="#fff" stop-opacity="1.000"/><stop offset="1.000" stop-color="#fff" stop-opacity="0.800"/></linearGradient>
<linearGradient id="g57" gradientUnits="userSpaceOnUse" x1="390.0" y1="0" x2="427.0" y2="0"><stop offset="0.000" stop-color="#fff" stop-opacity="1.000"/><stop offset="0.270" stop-color="#fff" stop-opacity="0.950"/><stop offset="0.811" stop-color="#fff" stop-opacity="0.850"/><stop offset="1.000" stop-color="#fff" stop-opacity="0.300"/></linearGradient>
<linearGradient id="g58" gradientUnits="userSpaceOnUse" x1="393.0" y1="0" x2="404.0" y2="0"><stop offset="0.000" stop-color="#fff" stop-opacity="0.700"/><stop offset="0.545" stop-color="#fff" stop-opacity="0.450"/><stop offset="1.000" stop-color="#fff" stop-opacity="0.000"/></linearGradient>
<linearGradient id="g59" gradientUnits="userSpaceOnUse" x1="395.5" y1="0" x2="427.0" y2="0"><stop offset="0.000" stop-color="#fff" stop-opacity="0.720"/><stop offset="0.270" stop-color="#fff" stop-opacity="0.620"/><stop offset="0.460" stop-color="#fff" stop-opacity="0.480"/><stop offset="0.651" stop-color="#fff" stop-opacity="0.360"/><stop offset="0.841" stop-color="#fff" stop-opacity="0.250"/><stop offset="1.000" stop-color="#fff" stop-opacity="0.150"/></linearGradient>
<linearGradient id="g60" gradientUnits="userSpaceOnUse" x1="393.0" y1="0" x2="425.0" y2="0"><stop offset="0.000" stop-color="#fff" stop-opacity="0.750"/><stop offset="0.531" stop-color="#fff" stop-opacity="0.700"/><stop offset="1.000" stop-color="#fff" stop-opacity="0.500"/></linearGradient>
<linearGradient id="g61" gradientUnits="userSpaceOnUse" x1="497.0" y1="0" x2="668.5" y2="0"><stop offset="0.000" stop-color="#fff" stop-opacity="0.226"/><stop offset="0.017" stop-color="#fff" stop-opacity="0.300"/><stop offset="0.041" stop-color="#fff" stop-opacity="0.439"/><stop offset="0.058" stop-color="#fff" stop-opacity="0.773"/><stop offset="0.076" stop-color="#fff" stop-opacity="0.874"/><stop offset="0.099" stop-color="#fff" stop-opacity="0.900"/><stop offset="0.148" stop-color="#fff" stop-opacity="0.900"/><stop offset="0.257" stop-color="#fff" stop-opacity="0.900"/><stop offset="0.369" stop-color="#fff" stop-opacity="0.900"/><stop offset="0.429" stop-color="#fff" stop-opacity="0.881"/><stop offset="0.455" stop-color="#fff" stop-opacity="0.842"/><stop offset="0.484" stop-color="#fff" stop-opacity="0.765"/><stop offset="0.515" stop-color="#fff" stop-opacity="0.728"/><stop offset="0.534" stop-color="#fff" stop-opacity="0.746"/><stop offset="0.553" stop-color="#fff" stop-opacity="0.805"/><stop offset="0.596" stop-color="#fff" stop-opacity="0.900"/><stop offset="0.638" stop-color="#fff" stop-opacity="0.900"/><stop offset="0.678" stop-color="#fff" stop-opacity="0.900"/><stop offset="0.715" stop-color="#fff" stop-opacity="0.900"/><stop offset="0.783" stop-color="#fff" stop-opacity="0.900"/><stop offset="0.868" stop-color="#fff" stop-opacity="0.900"/><stop offset="1.000" stop-color="#fff" stop-opacity="0.900"/></linearGradient>
<linearGradient id="g62" gradientUnits="userSpaceOnUse" x1="497.0" y1="0" x2="668.5" y2="0"><stop offset="0.000" stop-color="#fff" stop-opacity="0.769"/><stop offset="0.017" stop-color="#fff" stop-opacity="0.628"/><stop offset="0.041" stop-color="#fff" stop-opacity="0.364"/><stop offset="0.058" stop-color="#fff" stop-opacity="0.169"/><stop offset="0.076" stop-color="#fff" stop-opacity="0.035"/><stop offset="0.099" stop-color="#fff" stop-opacity="0.000"/><stop offset="0.148" stop-color="#fff" stop-opacity="0.000"/><stop offset="0.257" stop-color="#fff" stop-opacity="0.000"/><stop offset="0.369" stop-color="#fff" stop-opacity="0.000"/><stop offset="0.429" stop-color="#fff" stop-opacity="0.025"/><stop offset="0.455" stop-color="#fff" stop-opacity="0.078"/><stop offset="0.484" stop-color="#fff" stop-opacity="0.180"/><stop offset="0.515" stop-color="#fff" stop-opacity="0.229"/><stop offset="0.534" stop-color="#fff" stop-opacity="0.205"/><stop offset="0.553" stop-color="#fff" stop-opacity="0.127"/><stop offset="0.596" stop-color="#fff" stop-opacity="0.000"/><stop offset="0.638" stop-color="#fff" stop-opacity="0.000"/><stop offset="0.678" stop-color="#fff" stop-opacity="0.000"/><stop offset="0.715" stop-color="#fff" stop-opacity="0.000"/><stop offset="0.783" stop-color="#fff" stop-opacity="0.000"/><stop offset="0.868" stop-color="#fff" stop-opacity="0.000"/><stop offset="1.000" stop-color="#fff" stop-opacity="0.000"/></linearGradient>
<linearGradient id="g63" gradientUnits="userSpaceOnUse" x1="570.0" y1="0" x2="619.5" y2="0"><stop offset="0.000" stop-color="#fff" stop-opacity="0.202"/><stop offset="0.051" stop-color="#fff" stop-opacity="0.202"/><stop offset="0.117" stop-color="#fff" stop-opacity="0.202"/><stop offset="0.236" stop-color="#fff" stop-opacity="0.352"/><stop offset="0.325" stop-color="#fff" stop-opacity="0.415"/><stop offset="0.473" stop-color="#fff" stop-opacity="0.471"/><stop offset="0.648" stop-color="#fff" stop-opacity="0.688"/><stop offset="0.873" stop-color="#fff" stop-opacity="1.000"/><stop offset="0.958" stop-color="#fff" stop-opacity="1.000"/><stop offset="1.000" stop-color="#fff" stop-opacity="1.000"/></linearGradient>
<linearGradient id="g64" gradientUnits="userSpaceOnUse" x1="570.0" y1="0" x2="619.5" y2="0"><stop offset="0.000" stop-color="#fff" stop-opacity="0.787"/><stop offset="0.051" stop-color="#fff" stop-opacity="0.787"/><stop offset="0.117" stop-color="#fff" stop-opacity="0.787"/><stop offset="0.236" stop-color="#fff" stop-opacity="0.658"/><stop offset="0.325" stop-color="#fff" stop-opacity="0.604"/><stop offset="0.473" stop-color="#fff" stop-opacity="0.556"/><stop offset="0.648" stop-color="#fff" stop-opacity="0.370"/><stop offset="0.873" stop-color="#fff" stop-opacity="0.164"/><stop offset="0.958" stop-color="#fff" stop-opacity="0.136"/><stop offset="1.000" stop-color="#fff" stop-opacity="0.169"/></linearGradient>
<linearGradient id="g65" gradientUnits="userSpaceOnUse" x1="617.4" y1="0" x2="643.0" y2="0"><stop offset="0.000" stop-color="#fff" stop-opacity="0.816"/><stop offset="0.082" stop-color="#fff" stop-opacity="0.782"/><stop offset="0.145" stop-color="#fff" stop-opacity="0.509"/><stop offset="0.258" stop-color="#fff" stop-opacity="0.405"/><stop offset="0.371" stop-color="#fff" stop-opacity="0.280"/><stop offset="0.602" stop-color="#fff" stop-opacity="0.120"/><stop offset="0.828" stop-color="#fff" stop-opacity="0.120"/><stop offset="1.000" stop-color="#fff" stop-opacity="0.120"/></linearGradient>
<linearGradient id="g66" gradientUnits="userSpaceOnUse" x1="617.4" y1="0" x2="643.0" y2="0"><stop offset="0.000" stop-color="#fff" stop-opacity="0.169"/><stop offset="0.082" stop-color="#fff" stop-opacity="0.212"/><stop offset="0.145" stop-color="#fff" stop-opacity="0.282"/><stop offset="0.258" stop-color="#fff" stop-opacity="0.469"/><stop offset="0.371" stop-color="#fff" stop-opacity="0.695"/><stop offset="0.602" stop-color="#fff" stop-opacity="0.984"/><stop offset="0.828" stop-color="#fff" stop-opacity="0.984"/><stop offset="1.000" stop-color="#fff" stop-opacity="0.984"/></linearGradient>
<linearGradient id="g67" gradientUnits="userSpaceOnUse" x1="507.0" y1="0" x2="541.5" y2="0"><stop offset="0.000" stop-color="#fff" stop-opacity="0.800"/><stop offset="0.435" stop-color="#fff" stop-opacity="1.000"/><stop offset="1.000" stop-color="#fff" stop-opacity="0.800"/></linearGradient>
<linearGradient id="g68" gradientUnits="userSpaceOnUse" x1="510.0" y1="0" x2="537.0" y2="0"><stop offset="0.000" stop-color="#fff" stop-opacity="0.500"/><stop offset="0.444" stop-color="#fff" stop-opacity="1.000"/><stop offset="1.000" stop-color="#fff" stop-opacity="0.500"/></linearGradient>
<linearGradient id="g69" gradientUnits="userSpaceOnUse" x1="514.0" y1="0" x2="532.0" y2="0"><stop offset="0.000" stop-color="#fff" stop-opacity="0.000"/><stop offset="0.222" stop-color="#fff" stop-opacity="0.350"/><stop offset="0.472" stop-color="#fff" stop-opacity="0.600"/><stop offset="0.722" stop-color="#fff" stop-opacity="0.400"/><stop offset="1.000" stop-color="#fff" stop-opacity="0.000"/></linearGradient>
<linearGradient id="g70" gradientUnits="userSpaceOnUse" x1="395.5" y1="0" x2="407.0" y2="0"><stop offset="0.000" stop-color="#fff" stop-opacity="0.800"/><stop offset="1.000" stop-color="#fff" stop-opacity="0.600"/></linearGradient>
<linearGradient id="g71" gradientUnits="userSpaceOnUse" x1="395.5" y1="0" x2="415.0" y2="0"><stop offset="0.000" stop-color="#fff" stop-opacity="0.700"/><stop offset="1.000" stop-color="#fff" stop-opacity="0.450"/></linearGradient>
<linearGradient id="g72" gradientUnits="userSpaceOnUse" x1="396.0" y1="0" x2="414.0" y2="0"><stop offset="0.000" stop-color="#fff" stop-opacity="0.900"/><stop offset="1.000" stop-color="#fff" stop-opacity="0.500"/></linearGradient>
<linearGradient id="g73" gradientUnits="userSpaceOnUse" x1="392.0" y1="0" x2="410.0" y2="0"><stop offset="0.000" stop-color="#fff" stop-opacity="0.500"/><stop offset="1.000" stop-color="#fff" stop-opacity="0.300"/></linearGradient>
<linearGradient id="g74" gradientUnits="userSpaceOnUse" x1="436.0" y1="0" x2="493.0" y2="0"><stop offset="0.000" stop-color="#fff" stop-opacity="0.150"/><stop offset="0.246" stop-color="#fff" stop-opacity="0.550"/><stop offset="0.561" stop-color="#fff" stop-opacity="0.800"/><stop offset="0.772" stop-color="#fff" stop-opacity="0.750"/><stop offset="1.000" stop-color="#fff" stop-opacity="0.600"/></linearGradient>
<linearGradient id="g75" gradientUnits="userSpaceOnUse" x1="440.0" y1="0" x2="485.0" y2="0"><stop offset="0.000" stop-color="#fff" stop-opacity="0.200"/><stop offset="0.444" stop-color="#fff" stop-opacity="0.800"/><stop offset="1.000" stop-color="#fff" stop-opacity="0.700"/></linearGradient>
<linearGradient id="g76" gradientUnits="userSpaceOnUse" x1="476.0" y1="0" x2="492.0" y2="0"><stop offset="0.000" stop-color="#fff" stop-opacity="0.350"/><stop offset="1.000" stop-color="#fff" stop-opacity="0.500"/></linearGradient>
<linearGradient id="g77" gradientUnits="userSpaceOnUse" x1="478.0" y1="0" x2="507.0" y2="0"><stop offset="0.000" stop-color="#fff" stop-opacity="0.550"/><stop offset="1.000" stop-color="#fff" stop-opacity="0.600"/></linearGradient>
<linearGradient id="g78" gradientUnits="userSpaceOnUse" x1="499.0" y1="0" x2="507.0" y2="0"><stop offset="0.000" stop-color="#fff" stop-opacity="0.400"/><stop offset="1.000" stop-color="#fff" stop-opacity="0.400"/></linearGradient>
<linearGradient id="g79" gradientUnits="userSpaceOnUse" x1="621.0" y1="0" x2="643.0" y2="0"><stop offset="0.000" stop-color="#fff" stop-opacity="0.200"/><stop offset="0.409" stop-color="#fff" stop-opacity="0.400"/><stop offset="1.000" stop-color="#fff" stop-opacity="0.500"/></linearGradient>
<linearGradient id="g80" gradientUnits="userSpaceOnUse" x1="390.0" y1="0" x2="481.0" y2="0"><stop offset="0.000" stop-color="#fff" stop-opacity="1.000"/><stop offset="0.330" stop-color="#fff" stop-opacity="1.000"/><stop offset="0.440" stop-color="#fff" stop-opacity="1.000"/><stop offset="0.604" stop-color="#fff" stop-opacity="0.950"/><stop offset="0.714" stop-color="#fff" stop-opacity="0.600"/><stop offset="0.824" stop-color="#fff" stop-opacity="0.420"/><stop offset="1.000" stop-color="#fff" stop-opacity="0.280"/></linearGradient>
<linearGradient id="g81" gradientUnits="userSpaceOnUse" x1="390.0" y1="0" x2="481.0" y2="0"><stop offset="0.000" stop-color="#fff" stop-opacity="0.500"/><stop offset="0.330" stop-color="#fff" stop-opacity="0.500"/><stop offset="0.440" stop-color="#fff" stop-opacity="0.500"/><stop offset="0.604" stop-color="#fff" stop-opacity="0.475"/><stop offset="0.714" stop-color="#fff" stop-opacity="0.300"/><stop offset="0.824" stop-color="#fff" stop-opacity="0.210"/><stop offset="1.000" stop-color="#fff" stop-opacity="0.140"/></linearGradient>
<linearGradient id="g82" gradientUnits="userSpaceOnUse" x1="390.0" y1="0" x2="428.0" y2="0"><stop offset="0.000" stop-color="#fff" stop-opacity="0.600"/><stop offset="0.579" stop-color="#fff" stop-opacity="0.580"/><stop offset="0.737" stop-color="#fff" stop-opacity="0.420"/><stop offset="0.868" stop-color="#fff" stop-opacity="0.200"/><stop offset="1.000" stop-color="#fff" stop-opacity="0.000"/></linearGradient>
<linearGradient id="g83" gradientUnits="userSpaceOnUse" x1="420.0" y1="0" x2="458.0" y2="0"><stop offset="0.000" stop-color="#fff" stop-opacity="0.900"/><stop offset="0.526" stop-color="#fff" stop-opacity="0.900"/><stop offset="1.000" stop-color="#fff" stop-opacity="0.600"/></linearGradient>
<linearGradient id="g84" gradientUnits="userSpaceOnUse" x1="445.0" y1="0" x2="502.0" y2="0"><stop offset="0.000" stop-color="#fff" stop-opacity="1.000"/><stop offset="0.404" stop-color="#fff" stop-opacity="1.000"/><stop offset="1.000" stop-color="#fff" stop-opacity="1.000"/></linearGradient>
<linearGradient id="g85" gradientUnits="userSpaceOnUse" x1="445.0" y1="0" x2="502.0" y2="0"><stop offset="0.000" stop-color="#fff" stop-opacity="0.400"/><stop offset="0.404" stop-color="#fff" stop-opacity="0.400"/><stop offset="1.000" stop-color="#fff" stop-opacity="0.400"/></linearGradient>
<linearGradient id="g86" gradientUnits="userSpaceOnUse" x1="441.0" y1="0" x2="510.0" y2="0"><stop offset="0.000" stop-color="#fff" stop-opacity="0.800"/><stop offset="0.391" stop-color="#fff" stop-opacity="1.000"/><stop offset="0.623" stop-color="#fff" stop-opacity="0.950"/><stop offset="0.739" stop-color="#fff" stop-opacity="0.600"/><stop offset="0.855" stop-color="#fff" stop-opacity="0.400"/><stop offset="1.000" stop-color="#fff" stop-opacity="0.280"/></linearGradient>
<linearGradient id="g87" gradientUnits="userSpaceOnUse" x1="441.0" y1="0" x2="510.0" y2="0"><stop offset="0.000" stop-color="#fff" stop-opacity="0.240"/><stop offset="0.391" stop-color="#fff" stop-opacity="0.300"/><stop offset="0.623" stop-color="#fff" stop-opacity="0.285"/><stop offset="0.739" stop-color="#fff" stop-opacity="0.180"/><stop offset="0.855" stop-color="#fff" stop-opacity="0.120"/><stop offset="1.000" stop-color="#fff" stop-opacity="0.084"/></linearGradient>
<linearGradient id="g88" gradientUnits="userSpaceOnUse" x1="484.0" y1="0" x2="504.0" y2="0"><stop offset="0.000" stop-color="#fff" stop-opacity="1.000"/><stop offset="1.000" stop-color="#fff" stop-opacity="1.000"/></linearGradient>
<linearGradient id="g89" gradientUnits="userSpaceOnUse" x1="470.0" y1="0" x2="484.0" y2="0"><stop offset="0.000" stop-color="#fff" stop-opacity="0.220"/><stop offset="0.429" stop-color="#fff" stop-opacity="0.350"/><stop offset="1.000" stop-color="#fff" stop-opacity="0.550"/></linearGradient>
<linearGradient id="g90" gradientUnits="userSpaceOnUse" x1="403.0" y1="0" x2="421.0" y2="0"><stop offset="0.000" stop-color="#fff" stop-opacity="0.220"/><stop offset="0.500" stop-color="#fff" stop-opacity="0.350"/><stop offset="1.000" stop-color="#fff" stop-opacity="0.550"/></linearGradient>
<linearGradient id="g91" gradientUnits="userSpaceOnUse" x1="403.0" y1="0" x2="421.0" y2="0"><stop offset="0.000" stop-color="#fff" stop-opacity="0.088"/><stop offset="0.500" stop-color="#fff" stop-opacity="0.140"/><stop offset="1.000" stop-color="#fff" stop-opacity="0.220"/></linearGradient>
<linearGradient id="g92" gradientUnits="userSpaceOnUse" x1="410.0" y1="0" x2="434.0" y2="0"><stop offset="0.000" stop-color="#fff" stop-opacity="0.180"/><stop offset="0.500" stop-color="#fff" stop-opacity="0.300"/><stop offset="1.000" stop-color="#fff" stop-opacity="0.450"/></linearGradient>
<linearGradient id="g93" gradientUnits="userSpaceOnUse" x1="430.0" y1="0" x2="445.0" y2="0"><stop offset="0.000" stop-color="#fff" stop-opacity="0.150"/><stop offset="1.000" stop-color="#fff" stop-opacity="0.400"/></linearGradient>
<linearGradient id="g94" gradientUnits="userSpaceOnUse" x1="465.0" y1="0" x2="467.9" y2="0"><stop offset="0.000" stop-color="#fff" stop-opacity="0.300"/><stop offset="1.000" stop-color="#fff" stop-opacity="0.300"/></linearGradient>
<linearGradient id="g95" gradientUnits="userSpaceOnUse" x1="465.0" y1="0" x2="467.9" y2="0"><stop offset="0.000" stop-color="#fff" stop-opacity="0.150"/><stop offset="1.000" stop-color="#fff" stop-opacity="0.150"/></linearGradient>
<linearGradient id="g96" gradientUnits="userSpaceOnUse" x1="502.0" y1="0" x2="615.0" y2="0"><stop offset="0.000" stop-color="#fff" stop-opacity="1.000"/><stop offset="0.513" stop-color="#fff" stop-opacity="1.000"/><stop offset="0.735" stop-color="#fff" stop-opacity="0.950"/><stop offset="0.823" stop-color="#fff" stop-opacity="0.650"/><stop offset="0.903" stop-color="#fff" stop-opacity="0.420"/><stop offset="1.000" stop-color="#fff" stop-opacity="0.280"/></linearGradient>
<linearGradient id="g97" gradientUnits="userSpaceOnUse" x1="502.0" y1="0" x2="615.0" y2="0"><stop offset="0.000" stop-color="#fff" stop-opacity="0.500"/><stop offset="0.513" stop-color="#fff" stop-opacity="0.500"/><stop offset="0.735" stop-color="#fff" stop-opacity="0.475"/><stop offset="0.823" stop-color="#fff" stop-opacity="0.325"/><stop offset="0.903" stop-color="#fff" stop-opacity="0.210"/><stop offset="1.000" stop-color="#fff" stop-opacity="0.140"/></linearGradient>
<linearGradient id="g98" gradientUnits="userSpaceOnUse" x1="498.0" y1="0" x2="583.0" y2="0"><stop offset="0.000" stop-color="#fff" stop-opacity="0.400"/><stop offset="0.094" stop-color="#fff" stop-opacity="0.580"/><stop offset="0.647" stop-color="#fff" stop-opacity="0.600"/><stop offset="0.741" stop-color="#fff" stop-opacity="0.500"/><stop offset="0.824" stop-color="#fff" stop-opacity="0.320"/><stop offset="0.906" stop-color="#fff" stop-opacity="0.150"/><stop offset="1.000" stop-color="#fff" stop-opacity="0.000"/></linearGradient>
<linearGradient id="g99" gradientUnits="userSpaceOnUse" x1="566.0" y1="0" x2="590.0" y2="0"><stop offset="0.000" stop-color="#fff" stop-opacity="0.700"/><stop offset="1.000" stop-color="#fff" stop-opacity="0.600"/></linearGradient>
<linearGradient id="g100" gradientUnits="userSpaceOnUse" x1="583.0" y1="0" x2="652.0" y2="0"><stop offset="0.000" stop-color="#fff" stop-opacity="0.800"/><stop offset="0.536" stop-color="#fff" stop-opacity="0.900"/><stop offset="1.000" stop-color="#fff" stop-opacity="1.000"/></linearGradient>
<linearGradient id="g101" gradientUnits="userSpaceOnUse" x1="583.0" y1="0" x2="652.0" y2="0"><stop offset="0.000" stop-color="#fff" stop-opacity="0.240"/><stop offset="0.536" stop-color="#fff" stop-opacity="0.270"/><stop offset="1.000" stop-color="#fff" stop-opacity="0.300"/></linearGradient>
<linearGradient id="g102" gradientUnits="userSpaceOnUse" x1="591.0" y1="0" x2="628.0" y2="0"><stop offset="0.000" stop-color="#fff" stop-opacity="0.900"/><stop offset="0.595" stop-color="#fff" stop-opacity="0.900"/><stop offset="1.000" stop-color="#fff" stop-opacity="0.900"/></linearGradient>
<linearGradient id="g103" gradientUnits="userSpaceOnUse" x1="599.0" y1="0" x2="674.0" y2="0"><stop offset="0.000" stop-color="#fff" stop-opacity="0.250"/><stop offset="0.147" stop-color="#fff" stop-opacity="0.400"/><stop offset="0.280" stop-color="#fff" stop-opacity="0.650"/><stop offset="0.413" stop-color="#fff" stop-opacity="0.950"/><stop offset="0.613" stop-color="#fff" stop-opacity="1.000"/><stop offset="1.000" stop-color="#fff" stop-opacity="1.000"/></linearGradient>
<linearGradient id="g104" gradientUnits="userSpaceOnUse" x1="599.0" y1="0" x2="674.0" y2="0"><stop offset="0.000" stop-color="#fff" stop-opacity="0.125"/><stop offset="0.147" stop-color="#fff" stop-opacity="0.200"/><stop offset="0.280" stop-color="#fff" stop-opacity="0.325"/><stop offset="0.413" stop-color="#fff" stop-opacity="0.475"/><stop offset="0.613" stop-color="#fff" stop-opacity="0.500"/><stop offset="1.000" stop-color="#fff" stop-opacity="0.500"/></linearGradient>
<linearGradient id="g105" gradientUnits="userSpaceOnUse" x1="634.0" y1="0" x2="674.0" y2="0"><stop offset="0.000" stop-color="#fff" stop-opacity="0.000"/><stop offset="0.175" stop-color="#fff" stop-opacity="0.120"/><stop offset="0.325" stop-color="#fff" stop-opacity="0.320"/><stop offset="0.500" stop-color="#fff" stop-opacity="0.520"/><stop offset="1.000" stop-color="#fff" stop-opacity="0.600"/></linearGradient>
<linearGradient id="g106" gradientUnits="userSpaceOnUse" x1="628.0" y1="0" x2="649.0" y2="0"><stop offset="0.000" stop-color="#fff" stop-opacity="0.550"/><stop offset="0.476" stop-color="#fff" stop-opacity="0.350"/><stop offset="1.000" stop-color="#fff" stop-opacity="0.220"/></linearGradient>
<linearGradient id="g107" gradientUnits="userSpaceOnUse" x1="628.0" y1="0" x2="649.0" y2="0"><stop offset="0.000" stop-color="#fff" stop-opacity="0.220"/><stop offset="0.476" stop-color="#fff" stop-opacity="0.140"/><stop offset="1.000" stop-color="#fff" stop-opacity="0.088"/></linearGradient>
<linearGradient id="g108" gradientUnits="userSpaceOnUse" x1="613.0" y1="0" x2="641.0" y2="0"><stop offset="0.000" stop-color="#fff" stop-opacity="0.400"/><stop offset="0.536" stop-color="#fff" stop-opacity="0.280"/><stop offset="1.000" stop-color="#fff" stop-opacity="0.180"/></linearGradient>
<linearGradient id="g109" gradientUnits="userSpaceOnUse" x1="557.0" y1="0" x2="575.0" y2="0"><stop offset="0.000" stop-color="#fff" stop-opacity="0.200"/><stop offset="0.500" stop-color="#fff" stop-opacity="0.320"/><stop offset="1.000" stop-color="#fff" stop-opacity="0.500"/></linearGradient>
<linearGradient id="g110" gradientUnits="userSpaceOnUse" x1="557.0" y1="0" x2="575.0" y2="0"><stop offset="0.000" stop-color="#fff" stop-opacity="0.080"/><stop offset="0.500" stop-color="#fff" stop-opacity="0.128"/><stop offset="1.000" stop-color="#fff" stop-opacity="0.200"/></linearGradient>
<linearGradient id="g111" gradientUnits="userSpaceOnUse" x1="583.0" y1="0" x2="591.0" y2="0"><stop offset="0.000" stop-color="#fff" stop-opacity="0.150"/><stop offset="1.000" stop-color="#fff" stop-opacity="0.400"/></linearGradient>
<linearGradient id="g112" gradientUnits="userSpaceOnUse" x1="594.0" y1="0" x2="600.0" y2="0"><stop offset="0.000" stop-color="#fff" stop-opacity="0.250"/><stop offset="1.000" stop-color="#fff" stop-opacity="0.300"/></linearGradient>
<linearGradient id="g113" gradientUnits="userSpaceOnUse" x1="594.0" y1="0" x2="600.0" y2="0"><stop offset="0.000" stop-color="#fff" stop-opacity="0.125"/><stop offset="1.000" stop-color="#fff" stop-opacity="0.150"/></linearGradient>
<linearGradient id="bgb" gradientUnits="userSpaceOnUse" x1="0" y1="34" x2="0" y2="235"><stop offset="0.000" stop-color="#fff" stop-opacity="0.055"/><stop offset="0.129" stop-color="#fff" stop-opacity="0.055"/><stop offset="0.219" stop-color="#fff" stop-opacity="0.030"/><stop offset="0.279" stop-color="#fff" stop-opacity="0.006"/><stop offset="0.453" stop-color="#fff" stop-opacity="0.004"/><stop offset="0.517" stop-color="#fff" stop-opacity="0.030"/><stop offset="0.587" stop-color="#fff" stop-opacity="0.090"/><stop offset="0.687" stop-color="#fff" stop-opacity="0.140"/><stop offset="0.826" stop-color="#fff" stop-opacity="0.125"/><stop offset="1.000" stop-color="#fff" stop-opacity="0.100"/></linearGradient><radialGradient id="blob" gradientUnits="userSpaceOnUse" cx="652" cy="44" r="27"><stop offset="0" stop-color="#fff" stop-opacity=".3"/><stop offset="1" stop-color="#fff" stop-opacity="0"/></radialGradient>
<radialGradient id="sg" cx=".5" cy=".45" r=".55"><stop offset="0" stop-color="#4ab886"/><stop offset=".45" stop-color="#168450"/><stop offset="1" stop-color="#0e7442"/></radialGradient>
<radialGradient id="sb" cx=".5" cy=".5" r=".55"><stop offset="0" stop-color="#8cc8ff"/><stop offset=".4" stop-color="#2a78ff"/><stop offset="1" stop-color="#1460fa"/></radialGradient>
<linearGradient id="ag1" gradientUnits="userSpaceOnUse" x1="37.0" y1="410.2" x2="37.0" y2="339.0"><stop offset="0" stop-color="#18a028"/><stop offset=".55" stop-color="#14987a"/><stop offset=".8" stop-color="#128aaa"/><stop offset="1" stop-color="#1478c8"/></linearGradient>
<linearGradient id="ag2" gradientUnits="userSpaceOnUse" x1="37.0" y1="410.2" x2="127.2" y2="396.5"><stop offset="0" stop-color="#18a028"/><stop offset=".55" stop-color="#14987a"/><stop offset=".8" stop-color="#128aaa"/><stop offset="1" stop-color="#1478c8"/></linearGradient>
<linearGradient id="ag3" gradientUnits="userSpaceOnUse" x1="123.8" y1="466.8" x2="214.3" y2="339.6"><stop offset="0" stop-color="#18a028"/><stop offset=".55" stop-color="#14987a"/><stop offset=".8" stop-color="#128aaa"/><stop offset="1" stop-color="#1478c8"/></linearGradient>
<linearGradient id="ag4" gradientUnits="userSpaceOnUse" x1="37.0" y1="612.8" x2="37.4" y2="542.4"><stop offset="0" stop-color="#18a028"/><stop offset=".55" stop-color="#14987a"/><stop offset=".8" stop-color="#128aaa"/><stop offset="1" stop-color="#1478c8"/></linearGradient>
<linearGradient id="ag5" gradientUnits="userSpaceOnUse" x1="37.0" y1="612.8" x2="125.6" y2="555.5"><stop offset="0" stop-color="#18a028"/><stop offset=".55" stop-color="#14987a"/><stop offset=".8" stop-color="#128aaa"/><stop offset="1" stop-color="#1478c8"/></linearGradient>
<linearGradient id="ag6" gradientUnits="userSpaceOnUse" x1="124.2" y1="625.5" x2="214.3" y2="542.4"><stop offset="0" stop-color="#18a028"/><stop offset=".55" stop-color="#14987a"/><stop offset=".8" stop-color="#128aaa"/><stop offset="1" stop-color="#1478c8"/></linearGradient>
<linearGradient id="cg1" gradientUnits="userSpaceOnUse" x1="0" y1="351" x2="0" y2="464"><stop offset="0" stop-color="#d2d2d2"/><stop offset=".5" stop-color="#a9a9a9"/><stop offset="1" stop-color="#787878"/></linearGradient>
<linearGradient id="cg2" gradientUnits="userSpaceOnUse" x1="0" y1="574" x2="0" y2="597"><stop offset="0" stop-color="#cfcfcf"/><stop offset=".5" stop-color="#a8a8a8"/><stop offset="1" stop-color="#808080"/></linearGradient>
<linearGradient id="eg1" gradientUnits="userSpaceOnUse" x1="0" y1="463" x2="0" y2="365"><stop offset="0" stop-color="#18a028"/><stop offset=".55" stop-color="#10908a"/><stop offset="1" stop-color="#1478c8"/></linearGradient>
<linearGradient id="eg2" gradientUnits="userSpaceOnUse" x1="0" y1="445" x2="0" y2="358"><stop offset="0" stop-color="#1478c8"/><stop offset=".55" stop-color="#10908a"/><stop offset="1" stop-color="#18a028"/></linearGradient>
<linearGradient id="eg3" gradientUnits="userSpaceOnUse" x1="0" y1="391" x2="0" y2="365"><stop offset="0" stop-color="#18a028"/><stop offset="1" stop-color="#1478c8"/></linearGradient>
</defs>
<rect width="685" height="685" fill="#fff"/>
<g clip-path="url(#clip1)" filter="url(#hot)"><rect x="54" y="29" width="284" height="212" fill="#000"/><rect x="55" y="30" width="285" height="210" fill="url(#bga)"/><g fill="none" stroke-linecap="round" stroke-linejoin="round"><g filter="url(#b5)" opacity="0.34"><path d="M57.0 171.0C60.8 171.0 74.5 170.9 80.0 171.2C85.5 171.4 87.2 171.5 90.0 172.5C92.8 173.5 94.8 174.8 97.0 177.0C99.2 179.2 101.2 183.2 103.0 186.0C104.8 188.8 106.2 190.5 108.0 194.0C109.8 197.5 112.0 202.2 114.0 207.0C116.0 211.8 118.2 217.7 120.0 223.0C121.8 228.3 124.2 236.3 125.0 239.0" stroke="url(#g30)" stroke-width="11.0"/><path d="M70.0 239.0C70.8 235.7 73.5 225.3 75.0 219.0C76.5 212.7 77.7 206.5 79.0 201.0C80.3 195.5 81.8 190.5 83.0 186.0C84.2 181.5 85.5 176.0 86.0 174.0" stroke="url(#g32)" stroke-width="11.0"/><path d="M100.0 181.0C100.7 179.5 102.3 174.3 104.0 172.0C105.7 169.7 107.6 168.3 110.0 167.0C112.4 165.7 115.6 164.2 118.4 164.0C121.2 163.8 124.2 165.4 127.0 166.0C129.8 166.6 132.0 167.1 135.0 167.5C138.0 167.9 141.7 168.1 145.0 168.5C148.3 168.9 151.0 169.5 155.0 170.0C159.0 170.5 163.6 171.2 169.0 171.5C174.4 171.8 184.2 171.9 187.3 172.0" stroke="url(#g34)" stroke-width="11.0"/><path d="M106.0 193.0C106.7 192.0 108.3 189.7 110.0 187.0C111.7 184.3 113.7 180.3 116.0 177.0C118.3 173.7 122.7 168.7 124.0 167.0" stroke="url(#g36)" stroke-width="11.0"/><path d="M136.0 168.0C136.8 169.3 139.5 173.3 141.0 176.0C142.5 178.7 143.2 180.3 145.0 184.0C146.8 187.7 149.5 192.5 152.0 198.0C154.5 203.5 157.5 210.2 160.0 217.0C162.5 223.8 165.8 235.3 167.0 239.0" stroke="url(#g38)" stroke-width="11.0"/><path d="M128.0 239.0C129.0 234.7 132.0 220.0 134.0 213.0C136.0 206.0 137.8 201.7 140.0 197.0C142.2 192.3 144.3 188.2 147.0 185.0C149.7 181.8 152.8 180.0 156.0 178.0C159.2 176.0 164.3 173.8 166.0 173.0" stroke="url(#g40)" stroke-width="11.0"/><path d="M187.3 172.0C190.4 172.0 200.2 171.8 205.6 172.0C211.0 172.2 216.3 172.4 220.0 173.0C223.7 173.6 225.9 174.7 228.0 175.5C230.1 176.3 231.1 176.6 232.8 178.0C234.5 179.4 236.1 181.8 238.0 184.0C239.9 186.2 241.9 188.7 244.0 191.0C246.1 193.3 248.6 194.8 250.6 198.0C252.6 201.2 254.1 205.5 256.0 210.0C257.9 214.5 260.3 220.2 262.0 225.0C263.7 229.8 265.3 236.7 266.0 239.0" stroke="url(#g42)" stroke-width="11.0"/><path d="M216.0 239.0C216.7 236.0 218.7 226.5 220.0 221.0C221.3 215.5 222.7 211.0 224.0 206.0C225.3 201.0 226.7 195.5 228.0 191.0C229.3 186.5 231.3 181.0 232.0 179.0" stroke="url(#g44)" stroke-width="11.0"/><path d="M250.6 186.0C251.5 184.3 253.8 179.3 256.0 176.0C258.2 172.7 261.3 168.7 264.0 166.0C266.7 163.3 269.3 161.4 272.0 160.0C274.7 158.6 277.8 157.9 280.0 157.5C282.2 157.1 283.0 157.2 285.0 157.6C287.0 158.0 290.0 158.9 292.0 160.0C294.0 161.1 295.2 161.8 297.0 164.0C298.8 166.2 301.3 170.2 303.0 173.0C304.7 175.8 306.3 179.7 307.0 181.0" stroke="url(#g46)" stroke-width="11.0"/><path d="M274.0 239.0C274.7 235.7 276.5 224.8 278.0 219.0C279.5 213.2 281.2 208.5 283.0 204.0C284.8 199.5 286.7 195.7 289.0 192.0C291.3 188.3 294.8 184.5 297.0 182.0C299.2 179.5 300.0 178.6 302.0 177.0C304.0 175.4 306.0 173.5 309.0 172.5C312.0 171.5 315.7 171.4 320.0 171.2C324.3 170.9 332.5 171.0 335.0 171.0" stroke="url(#g48)" stroke-width="11.0"/><path d="M296.0 183.0C297.0 185.2 300.0 191.0 302.0 196.0C304.0 201.0 306.0 205.8 308.0 213.0C310.0 220.2 313.0 234.7 314.0 239.0" stroke="url(#g50)" stroke-width="11.0"/><path d="M262.0 190.0C263.0 188.0 266.0 181.3 268.0 178.0C270.0 174.7 272.0 172.0 274.0 170.0C276.0 168.0 279.0 166.7 280.0 166.0" stroke="url(#g52)" stroke-width="11.0"/></g><g filter="url(#b5)" opacity="0.30"><path d="M59.5 79.6C61.2 79.5 66.6 79.4 70.0 79.0C73.4 78.6 77.3 77.8 80.0 77.2C82.7 76.6 84.4 75.6 86.0 75.6C87.6 75.6 88.3 75.8 89.5 77.0C90.7 78.2 91.8 80.7 93.0 83.0C94.2 85.3 95.4 88.8 96.6 91.0C97.8 93.2 98.5 94.6 100.0 96.0C101.5 97.4 103.8 98.4 105.5 99.3C107.2 100.2 108.2 100.2 110.0 101.3C111.8 102.4 113.8 104.0 116.3 105.9C118.8 107.8 122.2 110.9 125.0 112.5C127.8 114.1 130.6 115.4 132.8 115.4C135.0 115.4 136.4 114.0 138.0 112.5C139.6 111.0 141.1 108.7 142.6 106.5C144.1 104.3 145.6 101.8 147.0 99.5C148.4 97.2 149.5 94.7 150.8 92.8C152.1 90.9 153.5 89.3 155.0 88.0C156.5 86.7 157.3 85.8 159.6 84.7C161.9 83.6 165.9 82.0 169.0 81.2C172.1 80.4 174.9 80.3 178.0 80.0C181.1 79.7 185.8 79.7 187.3 79.6" stroke="url(#g2)" stroke-width="5.4"/><path d="M59.5 107.4C60.9 107.0 65.1 106.0 68.0 105.0C70.9 104.0 73.6 103.3 76.9 101.5C80.2 99.7 84.5 96.4 87.8 94.2C91.1 92.0 93.6 90.3 96.6 88.4C99.5 86.5 102.9 84.0 105.5 82.8C108.1 81.6 109.7 81.4 112.0 81.0C114.3 80.6 116.9 80.5 119.2 80.4C121.5 80.3 123.7 80.4 126.0 80.5C128.3 80.6 130.8 80.5 132.8 80.8C134.8 81.0 136.5 81.8 138.0 82.0C139.5 82.2 140.6 82.8 142.0 82.2C143.4 81.7 144.9 81.2 146.7 78.7C148.4 76.2 150.6 71.9 152.5 67.0C154.4 62.1 156.9 53.8 158.4 49.5C159.9 45.2 160.6 43.1 161.5 41.0C162.4 38.9 162.9 37.0 163.6 36.7C164.3 36.4 164.9 37.8 165.5 39.0C166.1 40.2 166.3 41.0 167.1 43.7C167.8 46.4 168.9 51.5 170.0 55.4C171.1 59.3 172.3 63.7 173.5 67.0C174.7 70.3 175.6 73.0 177.0 75.2C178.4 77.4 180.0 78.9 181.7 79.9C183.4 80.9 186.4 80.8 187.3 81.0" stroke="url(#g4)" stroke-width="5.4"/><path d="M146.1 33.0C146.6 35.8 147.9 44.0 149.0 49.5C150.1 55.0 151.3 61.2 152.5 65.9C153.7 70.6 154.8 74.0 156.0 77.5C157.2 81.0 158.1 84.0 159.5 86.9C160.9 89.8 162.4 92.8 164.2 95.1C165.9 97.4 167.7 99.2 170.0 100.9C172.3 102.6 175.1 104.1 178.0 105.0C180.9 105.9 185.8 106.2 187.3 106.5" stroke="url(#g6)" stroke-width="5.4"/><path d="M187.3 106.5C190.4 106.4 199.4 106.1 205.7 106.0C212.0 105.9 220.1 106.1 225.0 106.0C229.9 105.9 231.9 106.2 235.0 105.5C238.1 104.8 241.2 102.8 243.8 101.5C246.4 100.2 248.6 98.3 250.8 97.9C253.0 97.5 254.7 98.3 256.9 99.3C259.1 100.3 261.5 102.5 264.2 103.7C266.9 104.9 270.7 106.3 273.0 106.6C275.3 106.9 276.1 106.1 277.8 105.6C279.5 105.1 280.6 104.0 283.2 103.7C285.8 103.4 289.3 103.6 293.4 103.7C297.5 103.8 301.5 104.0 308.0 104.5C314.5 105.0 328.4 106.2 332.5 106.6" stroke="url(#g8)" stroke-width="6.3"/><path d="M187.3 80.5C188.7 79.8 193.3 77.9 195.7 76.0C198.1 74.1 199.9 71.3 201.6 69.0C203.3 66.7 204.3 64.8 205.7 62.0C207.0 59.2 208.5 55.3 209.7 52.0C210.9 48.7 212.0 45.2 213.0 42.0C214.0 38.8 215.1 34.5 215.5 33.0" stroke="url(#g10)" stroke-width="5.4"/><path d="M187.3 81.0C188.7 80.5 193.5 79.1 195.7 77.8C197.9 76.5 198.7 75.0 200.4 73.2C202.1 71.4 204.1 69.4 205.7 67.0C207.2 64.6 208.1 62.2 209.7 58.9C211.2 55.6 213.4 51.5 215.0 47.2C216.6 42.9 218.8 35.4 219.5 33.0" stroke="url(#g12)" stroke-width="5.4"/><path d="M205.7 67.0C206.2 67.8 207.9 70.5 209.0 71.5C210.1 72.5 211.0 73.0 212.2 73.1C213.4 73.2 214.7 73.0 216.0 72.0C217.3 71.0 218.5 69.2 220.0 67.0C221.5 64.8 223.5 60.8 225.0 58.5C226.5 56.2 227.8 54.5 229.0 53.5C230.2 52.5 231.0 52.3 232.0 52.3C233.0 52.3 233.9 52.2 235.0 53.4C236.1 54.6 237.3 57.1 238.5 59.5C239.7 61.9 241.1 65.8 242.3 68.0C243.6 70.2 244.6 71.6 246.0 73.0C247.4 74.4 249.0 75.3 250.8 76.4C252.6 77.5 254.8 77.8 257.0 79.6C259.2 81.3 261.8 84.6 264.2 86.9C266.6 89.2 269.2 91.8 271.5 93.5C273.8 95.2 276.1 96.7 277.8 97.4C279.5 98.2 280.7 98.1 281.7 98.0C282.7 97.9 283.3 97.4 284.0 96.8C284.7 96.2 285.3 95.7 286.1 94.2C286.9 92.7 288.0 90.2 289.0 88.0C290.0 85.8 290.9 83.4 291.9 81.1C292.9 78.8 294.0 76.0 295.0 74.0C296.0 72.0 296.9 70.7 297.8 69.4C298.7 68.1 299.5 67.1 300.5 66.3C301.5 65.5 301.9 64.9 303.6 64.7C305.3 64.5 307.7 64.6 310.9 65.0C314.1 65.4 319.0 66.7 322.6 67.2C326.2 67.7 330.9 68.0 332.5 68.2" stroke="url(#g14)" stroke-width="5.4"/><path d="M307.3 33.0C307.9 36.1 309.7 46.6 310.9 51.9C312.1 57.2 313.3 61.6 314.6 65.0C315.9 68.4 317.4 70.8 318.9 72.3C320.3 73.8 321.7 73.9 323.3 73.8C324.9 73.7 326.9 72.5 328.4 71.6C329.9 70.7 331.8 68.8 332.5 68.2" stroke="url(#g16)" stroke-width="5.4"/><path d="M323.3 33.0C323.9 35.7 325.5 43.5 327.0 49.0C328.5 54.5 331.6 63.2 332.5 66.0" stroke="url(#g18)" stroke-width="5.4"/><path d="M59.5 79.6C60.1 78.7 61.8 76.2 63.0 74.0C64.2 71.8 65.5 70.2 66.7 66.5C68.0 62.8 69.3 57.6 70.5 52.0C71.7 46.4 73.4 36.2 74.0 33.0" stroke="url(#g20)" stroke-width="5.4"/><path d="M59.5 79.6C60.4 79.4 63.3 79.1 65.0 78.5C66.7 77.9 68.1 77.6 69.6 76.0C71.1 74.4 72.5 71.8 74.0 69.0C75.5 66.2 77.1 62.7 78.4 59.2C79.7 55.7 81.0 51.2 82.0 48.0C83.0 44.8 83.6 42.7 84.2 40.2C84.8 37.7 85.3 34.2 85.5 33.0" stroke="url(#g22)" stroke-width="5.4"/><path d="M84.5 33.0C84.9 34.2 86.0 38.1 87.0 40.0C88.0 41.9 89.6 44.5 90.8 44.6C92.0 44.7 93.0 42.4 94.0 40.5C95.0 38.6 96.2 34.2 96.6 33.0" stroke="url(#g24)" stroke-width="5.4"/><path d="M178.2 33.0C179.2 33.9 182.4 37.4 184.0 38.4C185.6 39.4 186.3 39.7 187.6 38.8C188.9 37.9 191.3 34.0 192.0 33.0" stroke="url(#g26)" stroke-width="5.4"/><path d="M165.0 33.0C165.4 34.5 166.6 38.7 167.5 42.0C168.4 45.3 169.3 49.0 170.5 53.0C171.7 57.0 173.2 62.6 174.7 65.9C176.2 69.2 177.8 71.1 179.4 72.9C181.0 74.8 183.2 76.3 184.0 77.0" stroke="url(#g28)" stroke-width="5.4"/><path d="M57.0 38.5C58.3 38.3 62.7 38.4 65.0 37.5C67.3 36.6 70.0 33.8 71.0 33.0" stroke="url(#g29)" stroke-width="6.3"/><path d="M57.0 171.0C60.8 171.0 74.5 170.9 80.0 171.2C85.5 171.4 87.2 171.5 90.0 172.5C92.8 173.5 94.8 174.8 97.0 177.0C99.2 179.2 101.2 183.2 103.0 186.0C104.8 188.8 106.2 190.5 108.0 194.0C109.8 197.5 112.0 202.2 114.0 207.0C116.0 211.8 118.2 217.7 120.0 223.0C121.8 228.3 124.2 236.3 125.0 239.0" stroke="url(#g31)" stroke-width="8.1"/><path d="M70.0 239.0C70.8 235.7 73.5 225.3 75.0 219.0C76.5 212.7 77.7 206.5 79.0 201.0C80.3 195.5 81.8 190.5 83.0 186.0C84.2 181.5 85.5 176.0 86.0 174.0" stroke="url(#g33)" stroke-width="8.1"/><path d="M100.0 181.0C100.7 179.5 102.3 174.3 104.0 172.0C105.7 169.7 107.6 168.3 110.0 167.0C112.4 165.7 115.6 164.2 118.4 164.0C121.2 163.8 124.2 165.4 127.0 166.0C129.8 166.6 132.0 167.1 135.0 167.5C138.0 167.9 141.7 168.1 145.0 168.5C148.3 168.9 151.0 169.5 155.0 170.0C159.0 170.5 163.6 171.2 169.0 171.5C174.4 171.8 184.2 171.9 187.3 172.0" stroke="url(#g35)" stroke-width="8.1"/><path d="M106.0 193.0C106.7 192.0 108.3 189.7 110.0 187.0C111.7 184.3 113.7 180.3 116.0 177.0C118.3 173.7 122.7 168.7 124.0 167.0" stroke="url(#g37)" stroke-width="8.1"/><path d="M136.0 168.0C136.8 169.3 139.5 173.3 141.0 176.0C142.5 178.7 143.2 180.3 145.0 184.0C146.8 187.7 149.5 192.5 152.0 198.0C154.5 203.5 157.5 210.2 160.0 217.0C162.5 223.8 165.8 235.3 167.0 239.0" stroke="url(#g39)" stroke-width="8.1"/><path d="M128.0 239.0C129.0 234.7 132.0 220.0 134.0 213.0C136.0 206.0 137.8 201.7 140.0 197.0C142.2 192.3 144.3 188.2 147.0 185.0C149.7 181.8 152.8 180.0 156.0 178.0C159.2 176.0 164.3 173.8 166.0 173.0" stroke="url(#g41)" stroke-width="8.1"/><path d="M187.3 172.0C190.4 172.0 200.2 171.8 205.6 172.0C211.0 172.2 216.3 172.4 220.0 173.0C223.7 173.6 225.9 174.7 228.0 175.5C230.1 176.3 231.1 176.6 232.8 178.0C234.5 179.4 236.1 181.8 238.0 184.0C239.9 186.2 241.9 188.7 244.0 191.0C246.1 193.3 248.6 194.8 250.6 198.0C252.6 201.2 254.1 205.5 256.0 210.0C257.9 214.5 260.3 220.2 262.0 225.0C263.7 229.8 265.3 236.7 266.0 239.0" stroke="url(#g43)" stroke-width="8.1"/><path d="M216.0 239.0C216.7 236.0 218.7 226.5 220.0 221.0C221.3 215.5 222.7 211.0 224.0 206.0C225.3 201.0 226.7 195.5 228.0 191.0C229.3 186.5 231.3 181.0 232.0 179.0" stroke="url(#g45)" stroke-width="8.1"/><path d="M250.6 186.0C251.5 184.3 253.8 179.3 256.0 176.0C258.2 172.7 261.3 168.7 264.0 166.0C266.7 163.3 269.3 161.4 272.0 160.0C274.7 158.6 277.8 157.9 280.0 157.5C282.2 157.1 283.0 157.2 285.0 157.6C287.0 158.0 290.0 158.9 292.0 160.0C294.0 161.1 295.2 161.8 297.0 164.0C298.8 166.2 301.3 170.2 303.0 173.0C304.7 175.8 306.3 179.7 307.0 181.0" stroke="url(#g47)" stroke-width="8.1"/><path d="M274.0 239.0C274.7 235.7 276.5 224.8 278.0 219.0C279.5 213.2 281.2 208.5 283.0 204.0C284.8 199.5 286.7 195.7 289.0 192.0C291.3 188.3 294.8 184.5 297.0 182.0C299.2 179.5 300.0 178.6 302.0 177.0C304.0 175.4 306.0 173.5 309.0 172.5C312.0 171.5 315.7 171.4 320.0 171.2C324.3 170.9 332.5 171.0 335.0 171.0" stroke="url(#g49)" stroke-width="8.1"/><path d="M296.0 183.0C297.0 185.2 300.0 191.0 302.0 196.0C304.0 201.0 306.0 205.8 308.0 213.0C310.0 220.2 313.0 234.7 314.0 239.0" stroke="url(#g51)" stroke-width="8.1"/><path d="M262.0 190.0C263.0 188.0 266.0 181.3 268.0 178.0C270.0 174.7 272.0 172.0 274.0 170.0C276.0 168.0 279.0 166.7 280.0 166.0" stroke="url(#g53)" stroke-width="8.1"/></g><g filter="url(#b2)" opacity="0.42"><path d="M59.5 79.6C61.2 79.5 66.6 79.4 70.0 79.0C73.4 78.6 77.3 77.8 80.0 77.2C82.7 76.6 84.4 75.6 86.0 75.6C87.6 75.6 88.3 75.8 89.5 77.0C90.7 78.2 91.8 80.7 93.0 83.0C94.2 85.3 95.4 88.8 96.6 91.0C97.8 93.2 98.5 94.6 100.0 96.0C101.5 97.4 103.8 98.4 105.5 99.3C107.2 100.2 108.2 100.2 110.0 101.3C111.8 102.4 113.8 104.0 116.3 105.9C118.8 107.8 122.2 110.9 125.0 112.5C127.8 114.1 130.6 115.4 132.8 115.4C135.0 115.4 136.4 114.0 138.0 112.5C139.6 111.0 141.1 108.7 142.6 106.5C144.1 104.3 145.6 101.8 147.0 99.5C148.4 97.2 149.5 94.7 150.8 92.8C152.1 90.9 153.5 89.3 155.0 88.0C156.5 86.7 157.3 85.8 159.6 84.7C161.9 83.6 165.9 82.0 169.0 81.2C172.1 80.4 174.9 80.3 178.0 80.0C181.1 79.7 185.8 79.7 187.3 79.6" stroke="url(#g2)" stroke-width="2.2"/><path d="M59.5 107.4C60.9 107.0 65.1 106.0 68.0 105.0C70.9 104.0 73.6 103.3 76.9 101.5C80.2 99.7 84.5 96.4 87.8 94.2C91.1 92.0 93.6 90.3 96.6 88.4C99.5 86.5 102.9 84.0 105.5 82.8C108.1 81.6 109.7 81.4 112.0 81.0C114.3 80.6 116.9 80.5 119.2 80.4C121.5 80.3 123.7 80.4 126.0 80.5C128.3 80.6 130.8 80.5 132.8 80.8C134.8 81.0 136.5 81.8 138.0 82.0C139.5 82.2 140.6 82.8 142.0 82.2C143.4 81.7 144.9 81.2 146.7 78.7C148.4 76.2 150.6 71.9 152.5 67.0C154.4 62.1 156.9 53.8 158.4 49.5C159.9 45.2 160.6 43.1 161.5 41.0C162.4 38.9 162.9 37.0 163.6 36.7C164.3 36.4 164.9 37.8 165.5 39.0C166.1 40.2 166.3 41.0 167.1 43.7C167.8 46.4 168.9 51.5 170.0 55.4C171.1 59.3 172.3 63.7 173.5 67.0C174.7 70.3 175.6 73.0 177.0 75.2C178.4 77.4 180.0 78.9 181.7 79.9C183.4 80.9 186.4 80.8 187.3 81.0" stroke="url(#g4)" stroke-width="2.2"/><path d="M146.1 33.0C146.6 35.8 147.9 44.0 149.0 49.5C150.1 55.0 151.3 61.2 152.5 65.9C153.7 70.6 154.8 74.0 156.0 77.5C157.2 81.0 158.1 84.0 159.5 86.9C160.9 89.8 162.4 92.8 164.2 95.1C165.9 97.4 167.7 99.2 170.0 100.9C172.3 102.6 175.1 104.1 178.0 105.0C180.9 105.9 185.8 106.2 187.3 106.5" stroke="url(#g6)" stroke-width="2.2"/><path d="M187.3 106.5C190.4 106.4 199.4 106.1 205.7 106.0C212.0 105.9 220.1 106.1 225.0 106.0C229.9 105.9 231.9 106.2 235.0 105.5C238.1 104.8 241.2 102.8 243.8 101.5C246.4 100.2 248.6 98.3 250.8 97.9C253.0 97.5 254.7 98.3 256.9 99.3C259.1 100.3 261.5 102.5 264.2 103.7C266.9 104.9 270.7 106.3 273.0 106.6C275.3 106.9 276.1 106.1 277.8 105.6C279.5 105.1 280.6 104.0 283.2 103.7C285.8 103.4 289.3 103.6 293.4 103.7C297.5 103.8 301.5 104.0 308.0 104.5C314.5 105.0 328.4 106.2 332.5 106.6" stroke="url(#g8)" stroke-width="2.5"/><path d="M187.3 80.5C188.7 79.8 193.3 77.9 195.7 76.0C198.1 74.1 199.9 71.3 201.6 69.0C203.3 66.7 204.3 64.8 205.7 62.0C207.0 59.2 208.5 55.3 209.7 52.0C210.9 48.7 212.0 45.2 213.0 42.0C214.0 38.8 215.1 34.5 215.5 33.0" stroke="url(#g10)" stroke-width="2.2"/><path d="M187.3 81.0C188.7 80.5 193.5 79.1 195.7 77.8C197.9 76.5 198.7 75.0 200.4 73.2C202.1 71.4 204.1 69.4 205.7 67.0C207.2 64.6 208.1 62.2 209.7 58.9C211.2 55.6 213.4 51.5 215.0 47.2C216.6 42.9 218.8 35.4 219.5 33.0" stroke="url(#g12)" stroke-width="2.2"/><path d="M205.7 67.0C206.2 67.8 207.9 70.5 209.0 71.5C210.1 72.5 211.0 73.0 212.2 73.1C213.4 73.2 214.7 73.0 216.0 72.0C217.3 71.0 218.5 69.2 220.0 67.0C221.5 64.8 223.5 60.8 225.0 58.5C226.5 56.2 227.8 54.5 229.0 53.5C230.2 52.5 231.0 52.3 232.0 52.3C233.0 52.3 233.9 52.2 235.0 53.4C236.1 54.6 237.3 57.1 238.5 59.5C239.7 61.9 241.1 65.8 242.3 68.0C243.6 70.2 244.6 71.6 246.0 73.0C247.4 74.4 249.0 75.3 250.8 76.4C252.6 77.5 254.8 77.8 257.0 79.6C259.2 81.3 261.8 84.6 264.2 86.9C266.6 89.2 269.2 91.8 271.5 93.5C273.8 95.2 276.1 96.7 277.8 97.4C279.5 98.2 280.7 98.1 281.7 98.0C282.7 97.9 283.3 97.4 284.0 96.8C284.7 96.2 285.3 95.7 286.1 94.2C286.9 92.7 288.0 90.2 289.0 88.0C290.0 85.8 290.9 83.4 291.9 81.1C292.9 78.8 294.0 76.0 295.0 74.0C296.0 72.0 296.9 70.7 297.8 69.4C298.7 68.1 299.5 67.1 300.5 66.3C301.5 65.5 301.9 64.9 303.6 64.7C305.3 64.5 307.7 64.6 310.9 65.0C314.1 65.4 319.0 66.7 322.6 67.2C326.2 67.7 330.9 68.0 332.5 68.2" stroke="url(#g14)" stroke-width="2.2"/><path d="M307.3 33.0C307.9 36.1 309.7 46.6 310.9 51.9C312.1 57.2 313.3 61.6 314.6 65.0C315.9 68.4 317.4 70.8 318.9 72.3C320.3 73.8 321.7 73.9 323.3 73.8C324.9 73.7 326.9 72.5 328.4 71.6C329.9 70.7 331.8 68.8 332.5 68.2" stroke="url(#g16)" stroke-width="2.2"/><path d="M323.3 33.0C323.9 35.7 325.5 43.5 327.0 49.0C328.5 54.5 331.6 63.2 332.5 66.0" stroke="url(#g18)" stroke-width="2.2"/><path d="M59.5 79.6C60.1 78.7 61.8 76.2 63.0 74.0C64.2 71.8 65.5 70.2 66.7 66.5C68.0 62.8 69.3 57.6 70.5 52.0C71.7 46.4 73.4 36.2 74.0 33.0" stroke="url(#g20)" stroke-width="2.2"/><path d="M59.5 79.6C60.4 79.4 63.3 79.1 65.0 78.5C66.7 77.9 68.1 77.6 69.6 76.0C71.1 74.4 72.5 71.8 74.0 69.0C75.5 66.2 77.1 62.7 78.4 59.2C79.7 55.7 81.0 51.2 82.0 48.0C83.0 44.8 83.6 42.7 84.2 40.2C84.8 37.7 85.3 34.2 85.5 33.0" stroke="url(#g22)" stroke-width="2.2"/><path d="M84.5 33.0C84.9 34.2 86.0 38.1 87.0 40.0C88.0 41.9 89.6 44.5 90.8 44.6C92.0 44.7 93.0 42.4 94.0 40.5C95.0 38.6 96.2 34.2 96.6 33.0" stroke="url(#g24)" stroke-width="2.2"/><path d="M178.2 33.0C179.2 33.9 182.4 37.4 184.0 38.4C185.6 39.4 186.3 39.7 187.6 38.8C188.9 37.9 191.3 34.0 192.0 33.0" stroke="url(#g26)" stroke-width="2.2"/><path d="M165.0 33.0C165.4 34.5 166.6 38.7 167.5 42.0C168.4 45.3 169.3 49.0 170.5 53.0C171.7 57.0 173.2 62.6 174.7 65.9C176.2 69.2 177.8 71.1 179.4 72.9C181.0 74.8 183.2 76.3 184.0 77.0" stroke="url(#g28)" stroke-width="2.2"/><path d="M57.0 38.5C58.3 38.3 62.7 38.4 65.0 37.5C67.3 36.6 70.0 33.8 71.0 33.0" stroke="url(#g29)" stroke-width="2.5"/><path d="M57.0 171.0C60.8 171.0 74.5 170.9 80.0 171.2C85.5 171.4 87.2 171.5 90.0 172.5C92.8 173.5 94.8 174.8 97.0 177.0C99.2 179.2 101.2 183.2 103.0 186.0C104.8 188.8 106.2 190.5 108.0 194.0C109.8 197.5 112.0 202.2 114.0 207.0C116.0 211.8 118.2 217.7 120.0 223.0C121.8 228.3 124.2 236.3 125.0 239.0" stroke="url(#g31)" stroke-width="3.2"/><path d="M70.0 239.0C70.8 235.7 73.5 225.3 75.0 219.0C76.5 212.7 77.7 206.5 79.0 201.0C80.3 195.5 81.8 190.5 83.0 186.0C84.2 181.5 85.5 176.0 86.0 174.0" stroke="url(#g33)" stroke-width="3.2"/><path d="M100.0 181.0C100.7 179.5 102.3 174.3 104.0 172.0C105.7 169.7 107.6 168.3 110.0 167.0C112.4 165.7 115.6 164.2 118.4 164.0C121.2 163.8 124.2 165.4 127.0 166.0C129.8 166.6 132.0 167.1 135.0 167.5C138.0 167.9 141.7 168.1 145.0 168.5C148.3 168.9 151.0 169.5 155.0 170.0C159.0 170.5 163.6 171.2 169.0 171.5C174.4 171.8 184.2 171.9 187.3 172.0" stroke="url(#g35)" stroke-width="3.2"/><path d="M106.0 193.0C106.7 192.0 108.3 189.7 110.0 187.0C111.7 184.3 113.7 180.3 116.0 177.0C118.3 173.7 122.7 168.7 124.0 167.0" stroke="url(#g37)" stroke-width="3.2"/><path d="M136.0 168.0C136.8 169.3 139.5 173.3 141.0 176.0C142.5 178.7 143.2 180.3 145.0 184.0C146.8 187.7 149.5 192.5 152.0 198.0C154.5 203.5 157.5 210.2 160.0 217.0C162.5 223.8 165.8 235.3 167.0 239.0" stroke="url(#g39)" stroke-width="3.2"/><path d="M128.0 239.0C129.0 234.7 132.0 220.0 134.0 213.0C136.0 206.0 137.8 201.7 140.0 197.0C142.2 192.3 144.3 188.2 147.0 185.0C149.7 181.8 152.8 180.0 156.0 178.0C159.2 176.0 164.3 173.8 166.0 173.0" stroke="url(#g41)" stroke-width="3.2"/><path d="M187.3 172.0C190.4 172.0 200.2 171.8 205.6 172.0C211.0 172.2 216.3 172.4 220.0 173.0C223.7 173.6 225.9 174.7 228.0 175.5C230.1 176.3 231.1 176.6 232.8 178.0C234.5 179.4 236.1 181.8 238.0 184.0C239.9 186.2 241.9 188.7 244.0 191.0C246.1 193.3 248.6 194.8 250.6 198.0C252.6 201.2 254.1 205.5 256.0 210.0C257.9 214.5 260.3 220.2 262.0 225.0C263.7 229.8 265.3 236.7 266.0 239.0" stroke="url(#g43)" stroke-width="3.2"/><path d="M216.0 239.0C216.7 236.0 218.7 226.5 220.0 221.0C221.3 215.5 222.7 211.0 224.0 206.0C225.3 201.0 226.7 195.5 228.0 191.0C229.3 186.5 231.3 181.0 232.0 179.0" stroke="url(#g45)" stroke-width="3.2"/><path d="M250.6 186.0C251.5 184.3 253.8 179.3 256.0 176.0C258.2 172.7 261.3 168.7 264.0 166.0C266.7 163.3 269.3 161.4 272.0 160.0C274.7 158.6 277.8 157.9 280.0 157.5C282.2 157.1 283.0 157.2 285.0 157.6C287.0 158.0 290.0 158.9 292.0 160.0C294.0 161.1 295.2 161.8 297.0 164.0C298.8 166.2 301.3 170.2 303.0 173.0C304.7 175.8 306.3 179.7 307.0 181.0" stroke="url(#g47)" stroke-width="3.2"/><path d="M274.0 239.0C274.7 235.7 276.5 224.8 278.0 219.0C279.5 213.2 281.2 208.5 283.0 204.0C284.8 199.5 286.7 195.7 289.0 192.0C291.3 188.3 294.8 184.5 297.0 182.0C299.2 179.5 300.0 178.6 302.0 177.0C304.0 175.4 306.0 173.5 309.0 172.5C312.0 171.5 315.7 171.4 320.0 171.2C324.3 170.9 332.5 171.0 335.0 171.0" stroke="url(#g49)" stroke-width="3.2"/><path d="M296.0 183.0C297.0 185.2 300.0 191.0 302.0 196.0C304.0 201.0 306.0 205.8 308.0 213.0C310.0 220.2 313.0 234.7 314.0 239.0" stroke="url(#g51)" stroke-width="3.2"/><path d="M262.0 190.0C263.0 188.0 266.0 181.3 268.0 178.0C270.0 174.7 272.0 172.0 274.0 170.0C276.0 168.0 279.0 166.7 280.0 166.0" stroke="url(#g53)" stroke-width="3.2"/></g><g filter="url(#b25)" opacity="0.17"><path d="M59.5 79.6C61.2 79.5 66.6 79.4 70.0 79.0C73.4 78.6 77.3 77.8 80.0 77.2C82.7 76.6 84.4 75.6 86.0 75.6C87.6 75.6 88.3 75.8 89.5 77.0C90.7 78.2 91.8 80.7 93.0 83.0C94.2 85.3 95.4 88.8 96.6 91.0C97.8 93.2 98.5 94.6 100.0 96.0C101.5 97.4 103.8 98.4 105.5 99.3C107.2 100.2 108.2 100.2 110.0 101.3C111.8 102.4 113.8 104.0 116.3 105.9C118.8 107.8 122.2 110.9 125.0 112.5C127.8 114.1 130.6 115.4 132.8 115.4C135.0 115.4 136.4 114.0 138.0 112.5C139.6 111.0 141.1 108.7 142.6 106.5C144.1 104.3 145.6 101.8 147.0 99.5C148.4 97.2 149.5 94.7 150.8 92.8C152.1 90.9 153.5 89.3 155.0 88.0C156.5 86.7 157.3 85.8 159.6 84.7C161.9 83.6 165.9 82.0 169.0 81.2C172.1 80.4 174.9 80.3 178.0 80.0C181.1 79.7 185.8 79.7 187.3 79.6" stroke="url(#g1)" stroke-width="4.4"/><path d="M59.5 107.4C60.9 107.0 65.1 106.0 68.0 105.0C70.9 104.0 73.6 103.3 76.9 101.5C80.2 99.7 84.5 96.4 87.8 94.2C91.1 92.0 93.6 90.3 96.6 88.4C99.5 86.5 102.9 84.0 105.5 82.8C108.1 81.6 109.7 81.4 112.0 81.0C114.3 80.6 116.9 80.5 119.2 80.4C121.5 80.3 123.7 80.4 126.0 80.5C128.3 80.6 130.8 80.5 132.8 80.8C134.8 81.0 136.5 81.8 138.0 82.0C139.5 82.2 140.6 82.8 142.0 82.2C143.4 81.7 144.9 81.2 146.7 78.7C148.4 76.2 150.6 71.9 152.5 67.0C154.4 62.1 156.9 53.8 158.4 49.5C159.9 45.2 160.6 43.1 161.5 41.0C162.4 38.9 162.9 37.0 163.6 36.7C164.3 36.4 164.9 37.8 165.5 39.0C166.1 40.2 166.3 41.0 167.1 43.7C167.8 46.4 168.9 51.5 170.0 55.4C171.1 59.3 172.3 63.7 173.5 67.0C174.7 70.3 175.6 73.0 177.0 75.2C178.4 77.4 180.0 78.9 181.7 79.9C183.4 80.9 186.4 80.8 187.3 81.0" stroke="url(#g3)" stroke-width="4.4"/><path d="M146.1 33.0C146.6 35.8 147.9 44.0 149.0 49.5C150.1 55.0 151.3 61.2 152.5 65.9C153.7 70.6 154.8 74.0 156.0 77.5C157.2 81.0 158.1 84.0 159.5 86.9C160.9 89.8 162.4 92.8 164.2 95.1C165.9 97.4 167.7 99.2 170.0 100.9C172.3 102.6 175.1 104.1 178.0 105.0C180.9 105.9 185.8 106.2 187.3 106.5" stroke="url(#g5)" stroke-width="4.4"/><path d="M187.3 106.5C190.4 106.4 199.4 106.1 205.7 106.0C212.0 105.9 220.1 106.1 225.0 106.0C229.9 105.9 231.9 106.2 235.0 105.5C238.1 104.8 241.2 102.8 243.8 101.5C246.4 100.2 248.6 98.3 250.8 97.9C253.0 97.5 254.7 98.3 256.9 99.3C259.1 100.3 261.5 102.5 264.2 103.7C266.9 104.9 270.7 106.3 273.0 106.6C275.3 106.9 276.1 106.1 277.8 105.6C279.5 105.1 280.6 104.0 283.2 103.7C285.8 103.4 289.3 103.6 293.4 103.7C297.5 103.8 301.5 104.0 308.0 104.5C314.5 105.0 328.4 106.2 332.5 106.6" stroke="url(#g7)" stroke-width="4.4"/><path d="M187.3 80.5C188.7 79.8 193.3 77.9 195.7 76.0C198.1 74.1 199.9 71.3 201.6 69.0C203.3 66.7 204.3 64.8 205.7 62.0C207.0 59.2 208.5 55.3 209.7 52.0C210.9 48.7 212.0 45.2 213.0 42.0C214.0 38.8 215.1 34.5 215.5 33.0" stroke="url(#g9)" stroke-width="4.4"/><path d="M187.3 81.0C188.7 80.5 193.5 79.1 195.7 77.8C197.9 76.5 198.7 75.0 200.4 73.2C202.1 71.4 204.1 69.4 205.7 67.0C207.2 64.6 208.1 62.2 209.7 58.9C211.2 55.6 213.4 51.5 215.0 47.2C216.6 42.9 218.8 35.4 219.5 33.0" stroke="url(#g11)" stroke-width="4.4"/><path d="M205.7 67.0C206.2 67.8 207.9 70.5 209.0 71.5C210.1 72.5 211.0 73.0 212.2 73.1C213.4 73.2 214.7 73.0 216.0 72.0C217.3 71.0 218.5 69.2 220.0 67.0C221.5 64.8 223.5 60.8 225.0 58.5C226.5 56.2 227.8 54.5 229.0 53.5C230.2 52.5 231.0 52.3 232.0 52.3C233.0 52.3 233.9 52.2 235.0 53.4C236.1 54.6 237.3 57.1 238.5 59.5C239.7 61.9 241.1 65.8 242.3 68.0C243.6 70.2 244.6 71.6 246.0 73.0C247.4 74.4 249.0 75.3 250.8 76.4C252.6 77.5 254.8 77.8 257.0 79.6C259.2 81.3 261.8 84.6 264.2 86.9C266.6 89.2 269.2 91.8 271.5 93.5C273.8 95.2 276.1 96.7 277.8 97.4C279.5 98.2 280.7 98.1 281.7 98.0C282.7 97.9 283.3 97.4 284.0 96.8C284.7 96.2 285.3 95.7 286.1 94.2C286.9 92.7 288.0 90.2 289.0 88.0C290.0 85.8 290.9 83.4 291.9 81.1C292.9 78.8 294.0 76.0 295.0 74.0C296.0 72.0 296.9 70.7 297.8 69.4C298.7 68.1 299.5 67.1 300.5 66.3C301.5 65.5 301.9 64.9 303.6 64.7C305.3 64.5 307.7 64.6 310.9 65.0C314.1 65.4 319.0 66.7 322.6 67.2C326.2 67.7 330.9 68.0 332.5 68.2" stroke="url(#g13)" stroke-width="4.4"/><path d="M307.3 33.0C307.9 36.1 309.7 46.6 310.9 51.9C312.1 57.2 313.3 61.6 314.6 65.0C315.9 68.4 317.4 70.8 318.9 72.3C320.3 73.8 321.7 73.9 323.3 73.8C324.9 73.7 326.9 72.5 328.4 71.6C329.9 70.7 331.8 68.8 332.5 68.2" stroke="url(#g15)" stroke-width="4.4"/><path d="M323.3 33.0C323.9 35.7 325.5 43.5 327.0 49.0C328.5 54.5 331.6 63.2 332.5 66.0" stroke="url(#g17)" stroke-width="4.4"/><path d="M59.5 79.6C60.1 78.7 61.8 76.2 63.0 74.0C64.2 71.8 65.5 70.2 66.7 66.5C68.0 62.8 69.3 57.6 70.5 52.0C71.7 46.4 73.4 36.2 74.0 33.0" stroke="url(#g19)" stroke-width="4.4"/><path d="M59.5 79.6C60.4 79.4 63.3 79.1 65.0 78.5C66.7 77.9 68.1 77.6 69.6 76.0C71.1 74.4 72.5 71.8 74.0 69.0C75.5 66.2 77.1 62.7 78.4 59.2C79.7 55.7 81.0 51.2 82.0 48.0C83.0 44.8 83.6 42.7 84.2 40.2C84.8 37.7 85.3 34.2 85.5 33.0" stroke="url(#g21)" stroke-width="4.4"/><path d="M84.5 33.0C84.9 34.2 86.0 38.1 87.0 40.0C88.0 41.9 89.6 44.5 90.8 44.6C92.0 44.7 93.0 42.4 94.0 40.5C95.0 38.6 96.2 34.2 96.6 33.0" stroke="url(#g23)" stroke-width="4.4"/><path d="M178.2 33.0C179.2 33.9 182.4 37.4 184.0 38.4C185.6 39.4 186.3 39.7 187.6 38.8C188.9 37.9 191.3 34.0 192.0 33.0" stroke="url(#g25)" stroke-width="4.4"/><path d="M165.0 33.0C165.4 34.5 166.6 38.7 167.5 42.0C168.4 45.3 169.3 49.0 170.5 53.0C171.7 57.0 173.2 62.6 174.7 65.9C176.2 69.2 177.8 71.1 179.4 72.9C181.0 74.8 183.2 76.3 184.0 77.0" stroke="url(#g27)" stroke-width="4.4"/></g><g filter="url(#b1)" opacity="0.42"><path d="M59.5 79.6C61.2 79.5 66.6 79.4 70.0 79.0C73.4 78.6 77.3 77.8 80.0 77.2C82.7 76.6 84.4 75.6 86.0 75.6C87.6 75.6 88.3 75.8 89.5 77.0C90.7 78.2 91.8 80.7 93.0 83.0C94.2 85.3 95.4 88.8 96.6 91.0C97.8 93.2 98.5 94.6 100.0 96.0C101.5 97.4 103.8 98.4 105.5 99.3C107.2 100.2 108.2 100.2 110.0 101.3C111.8 102.4 113.8 104.0 116.3 105.9C118.8 107.8 122.2 110.9 125.0 112.5C127.8 114.1 130.6 115.4 132.8 115.4C135.0 115.4 136.4 114.0 138.0 112.5C139.6 111.0 141.1 108.7 142.6 106.5C144.1 104.3 145.6 101.8 147.0 99.5C148.4 97.2 149.5 94.7 150.8 92.8C152.1 90.9 153.5 89.3 155.0 88.0C156.5 86.7 157.3 85.8 159.6 84.7C161.9 83.6 165.9 82.0 169.0 81.2C172.1 80.4 174.9 80.3 178.0 80.0C181.1 79.7 185.8 79.7 187.3 79.6" stroke="url(#g1)" stroke-width="1.8"/><path d="M59.5 107.4C60.9 107.0 65.1 106.0 68.0 105.0C70.9 104.0 73.6 103.3 76.9 101.5C80.2 99.7 84.5 96.4 87.8 94.2C91.1 92.0 93.6 90.3 96.6 88.4C99.5 86.5 102.9 84.0 105.5 82.8C108.1 81.6 109.7 81.4 112.0 81.0C114.3 80.6 116.9 80.5 119.2 80.4C121.5 80.3 123.7 80.4 126.0 80.5C128.3 80.6 130.8 80.5 132.8 80.8C134.8 81.0 136.5 81.8 138.0 82.0C139.5 82.2 140.6 82.8 142.0 82.2C143.4 81.7 144.9 81.2 146.7 78.7C148.4 76.2 150.6 71.9 152.5 67.0C154.4 62.1 156.9 53.8 158.4 49.5C159.9 45.2 160.6 43.1 161.5 41.0C162.4 38.9 162.9 37.0 163.6 36.7C164.3 36.4 164.9 37.8 165.5 39.0C166.1 40.2 166.3 41.0 167.1 43.7C167.8 46.4 168.9 51.5 170.0 55.4C171.1 59.3 172.3 63.7 173.5 67.0C174.7 70.3 175.6 73.0 177.0 75.2C178.4 77.4 180.0 78.9 181.7 79.9C183.4 80.9 186.4 80.8 187.3 81.0" stroke="url(#g3)" stroke-width="1.8"/><path d="M146.1 33.0C146.6 35.8 147.9 44.0 149.0 49.5C150.1 55.0 151.3 61.2 152.5 65.9C153.7 70.6 154.8 74.0 156.0 77.5C157.2 81.0 158.1 84.0 159.5 86.9C160.9 89.8 162.4 92.8 164.2 95.1C165.9 97.4 167.7 99.2 170.0 100.9C172.3 102.6 175.1 104.1 178.0 105.0C180.9 105.9 185.8 106.2 187.3 106.5" stroke="url(#g5)" stroke-width="1.8"/><path d="M187.3 106.5C190.4 106.4 199.4 106.1 205.7 106.0C212.0 105.9 220.1 106.1 225.0 106.0C229.9 105.9 231.9 106.2 235.0 105.5C238.1 104.8 241.2 102.8 243.8 101.5C246.4 100.2 248.6 98.3 250.8 97.9C253.0 97.5 254.7 98.3 256.9 99.3C259.1 100.3 261.5 102.5 264.2 103.7C266.9 104.9 270.7 106.3 273.0 106.6C275.3 106.9 276.1 106.1 277.8 105.6C279.5 105.1 280.6 104.0 283.2 103.7C285.8 103.4 289.3 103.6 293.4 103.7C297.5 103.8 301.5 104.0 308.0 104.5C314.5 105.0 328.4 106.2 332.5 106.6" stroke="url(#g7)" stroke-width="1.8"/><path d="M187.3 80.5C188.7 79.8 193.3 77.9 195.7 76.0C198.1 74.1 199.9 71.3 201.6 69.0C203.3 66.7 204.3 64.8 205.7 62.0C207.0 59.2 208.5 55.3 209.7 52.0C210.9 48.7 212.0 45.2 213.0 42.0C214.0 38.8 215.1 34.5 215.5 33.0" stroke="url(#g9)" stroke-width="1.8"/><path d="M187.3 81.0C188.7 80.5 193.5 79.1 195.7 77.8C197.9 76.5 198.7 75.0 200.4 73.2C202.1 71.4 204.1 69.4 205.7 67.0C207.2 64.6 208.1 62.2 209.7 58.9C211.2 55.6 213.4 51.5 215.0 47.2C216.6 42.9 218.8 35.4 219.5 33.0" stroke="url(#g11)" stroke-width="1.8"/><path d="M205.7 67.0C206.2 67.8 207.9 70.5 209.0 71.5C210.1 72.5 211.0 73.0 212.2 73.1C213.4 73.2 214.7 73.0 216.0 72.0C217.3 71.0 218.5 69.2 220.0 67.0C221.5 64.8 223.5 60.8 225.0 58.5C226.5 56.2 227.8 54.5 229.0 53.5C230.2 52.5 231.0 52.3 232.0 52.3C233.0 52.3 233.9 52.2 235.0 53.4C236.1 54.6 237.3 57.1 238.5 59.5C239.7 61.9 241.1 65.8 242.3 68.0C243.6 70.2 244.6 71.6 246.0 73.0C247.4 74.4 249.0 75.3 250.8 76.4C252.6 77.5 254.8 77.8 257.0 79.6C259.2 81.3 261.8 84.6 264.2 86.9C266.6 89.2 269.2 91.8 271.5 93.5C273.8 95.2 276.1 96.7 277.8 97.4C279.5 98.2 280.7 98.1 281.7 98.0C282.7 97.9 283.3 97.4 284.0 96.8C284.7 96.2 285.3 95.7 286.1 94.2C286.9 92.7 288.0 90.2 289.0 88.0C290.0 85.8 290.9 83.4 291.9 81.1C292.9 78.8 294.0 76.0 295.0 74.0C296.0 72.0 296.9 70.7 297.8 69.4C298.7 68.1 299.5 67.1 300.5 66.3C301.5 65.5 301.9 64.9 303.6 64.7C305.3 64.5 307.7 64.6 310.9 65.0C314.1 65.4 319.0 66.7 322.6 67.2C326.2 67.7 330.9 68.0 332.5 68.2" stroke="url(#g13)" stroke-width="1.8"/><path d="M307.3 33.0C307.9 36.1 309.7 46.6 310.9 51.9C312.1 57.2 313.3 61.6 314.6 65.0C315.9 68.4 317.4 70.8 318.9 72.3C320.3 73.8 321.7 73.9 323.3 73.8C324.9 73.7 326.9 72.5 328.4 71.6C329.9 70.7 331.8 68.8 332.5 68.2" stroke="url(#g15)" stroke-width="1.8"/><path d="M323.3 33.0C323.9 35.7 325.5 43.5 327.0 49.0C328.5 54.5 331.6 63.2 332.5 66.0" stroke="url(#g17)" stroke-width="1.8"/><path d="M59.5 79.6C60.1 78.7 61.8 76.2 63.0 74.0C64.2 71.8 65.5 70.2 66.7 66.5C68.0 62.8 69.3 57.6 70.5 52.0C71.7 46.4 73.4 36.2 74.0 33.0" stroke="url(#g19)" stroke-width="1.8"/><path d="M59.5 79.6C60.4 79.4 63.3 79.1 65.0 78.5C66.7 77.9 68.1 77.6 69.6 76.0C71.1 74.4 72.5 71.8 74.0 69.0C75.5 66.2 77.1 62.7 78.4 59.2C79.7 55.7 81.0 51.2 82.0 48.0C83.0 44.8 83.6 42.7 84.2 40.2C84.8 37.7 85.3 34.2 85.5 33.0" stroke="url(#g21)" stroke-width="1.8"/><path d="M84.5 33.0C84.9 34.2 86.0 38.1 87.0 40.0C88.0 41.9 89.6 44.5 90.8 44.6C92.0 44.7 93.0 42.4 94.0 40.5C95.0 38.6 96.2 34.2 96.6 33.0" stroke="url(#g23)" stroke-width="1.8"/><path d="M178.2 33.0C179.2 33.9 182.4 37.4 184.0 38.4C185.6 39.4 186.3 39.7 187.6 38.8C188.9 37.9 191.3 34.0 192.0 33.0" stroke="url(#g25)" stroke-width="1.8"/><path d="M165.0 33.0C165.4 34.5 166.6 38.7 167.5 42.0C168.4 45.3 169.3 49.0 170.5 53.0C171.7 57.0 173.2 62.6 174.7 65.9C176.2 69.2 177.8 71.1 179.4 72.9C181.0 74.8 183.2 76.3 184.0 77.0" stroke="url(#g27)" stroke-width="1.8"/></g><g filter="url(#b04)"><path d="M59.5 79.6C61.2 79.5 66.6 79.4 70.0 79.0C73.4 78.6 77.3 77.8 80.0 77.2C82.7 76.6 84.4 75.6 86.0 75.6C87.6 75.6 88.3 75.8 89.5 77.0C90.7 78.2 91.8 80.7 93.0 83.0C94.2 85.3 95.4 88.8 96.6 91.0C97.8 93.2 98.5 94.6 100.0 96.0C101.5 97.4 103.8 98.4 105.5 99.3C107.2 100.2 108.2 100.2 110.0 101.3C111.8 102.4 113.8 104.0 116.3 105.9C118.8 107.8 122.2 110.9 125.0 112.5C127.8 114.1 130.6 115.4 132.8 115.4C135.0 115.4 136.4 114.0 138.0 112.5C139.6 111.0 141.1 108.7 142.6 106.5C144.1 104.3 145.6 101.8 147.0 99.5C148.4 97.2 149.5 94.7 150.8 92.8C152.1 90.9 153.5 89.3 155.0 88.0C156.5 86.7 157.3 85.8 159.6 84.7C161.9 83.6 165.9 82.0 169.0 81.2C172.1 80.4 174.9 80.3 178.0 80.0C181.1 79.7 185.8 79.7 187.3 79.6" stroke="url(#g1)" stroke-width="1.0"/><path d="M59.5 107.4C60.9 107.0 65.1 106.0 68.0 105.0C70.9 104.0 73.6 103.3 76.9 101.5C80.2 99.7 84.5 96.4 87.8 94.2C91.1 92.0 93.6 90.3 96.6 88.4C99.5 86.5 102.9 84.0 105.5 82.8C108.1 81.6 109.7 81.4 112.0 81.0C114.3 80.6 116.9 80.5 119.2 80.4C121.5 80.3 123.7 80.4 126.0 80.5C128.3 80.6 130.8 80.5 132.8 80.8C134.8 81.0 136.5 81.8 138.0 82.0C139.5 82.2 140.6 82.8 142.0 82.2C143.4 81.7 144.9 81.2 146.7 78.7C148.4 76.2 150.6 71.9 152.5 67.0C154.4 62.1 156.9 53.8 158.4 49.5C159.9 45.2 160.6 43.1 161.5 41.0C162.4 38.9 162.9 37.0 163.6 36.7C164.3 36.4 164.9 37.8 165.5 39.0C166.1 40.2 166.3 41.0 167.1 43.7C167.8 46.4 168.9 51.5 170.0 55.4C171.1 59.3 172.3 63.7 173.5 67.0C174.7 70.3 175.6 73.0 177.0 75.2C178.4 77.4 180.0 78.9 181.7 79.9C183.4 80.9 186.4 80.8 187.3 81.0" stroke="url(#g3)" stroke-width="1.0"/><path d="M146.1 33.0C146.6 35.8 147.9 44.0 149.0 49.5C150.1 55.0 151.3 61.2 152.5 65.9C153.7 70.6 154.8 74.0 156.0 77.5C157.2 81.0 158.1 84.0 159.5 86.9C160.9 89.8 162.4 92.8 164.2 95.1C165.9 97.4 167.7 99.2 170.0 100.9C172.3 102.6 175.1 104.1 178.0 105.0C180.9 105.9 185.8 106.2 187.3 106.5" stroke="url(#g5)" stroke-width="1.0"/><path d="M187.3 106.5C190.4 106.4 199.4 106.1 205.7 106.0C212.0 105.9 220.1 106.1 225.0 106.0C229.9 105.9 231.9 106.2 235.0 105.5C238.1 104.8 241.2 102.8 243.8 101.5C246.4 100.2 248.6 98.3 250.8 97.9C253.0 97.5 254.7 98.3 256.9 99.3C259.1 100.3 261.5 102.5 264.2 103.7C266.9 104.9 270.7 106.3 273.0 106.6C275.3 106.9 276.1 106.1 277.8 105.6C279.5 105.1 280.6 104.0 283.2 103.7C285.8 103.4 289.3 103.6 293.4 103.7C297.5 103.8 301.5 104.0 308.0 104.5C314.5 105.0 328.4 106.2 332.5 106.6" stroke="url(#g7)" stroke-width="1.0"/><path d="M187.3 80.5C188.7 79.8 193.3 77.9 195.7 76.0C198.1 74.1 199.9 71.3 201.6 69.0C203.3 66.7 204.3 64.8 205.7 62.0C207.0 59.2 208.5 55.3 209.7 52.0C210.9 48.7 212.0 45.2 213.0 42.0C214.0 38.8 215.1 34.5 215.5 33.0" stroke="url(#g9)" stroke-width="1.0"/><path d="M187.3 81.0C188.7 80.5 193.5 79.1 195.7 77.8C197.9 76.5 198.7 75.0 200.4 73.2C202.1 71.4 204.1 69.4 205.7 67.0C207.2 64.6 208.1 62.2 209.7 58.9C211.2 55.6 213.4 51.5 215.0 47.2C216.6 42.9 218.8 35.4 219.5 33.0" stroke="url(#g11)" stroke-width="1.0"/><path d="M205.7 67.0C206.2 67.8 207.9 70.5 209.0 71.5C210.1 72.5 211.0 73.0 212.2 73.1C213.4 73.2 214.7 73.0 216.0 72.0C217.3 71.0 218.5 69.2 220.0 67.0C221.5 64.8 223.5 60.8 225.0 58.5C226.5 56.2 227.8 54.5 229.0 53.5C230.2 52.5 231.0 52.3 232.0 52.3C233.0 52.3 233.9 52.2 235.0 53.4C236.1 54.6 237.3 57.1 238.5 59.5C239.7 61.9 241.1 65.8 242.3 68.0C243.6 70.2 244.6 71.6 246.0 73.0C247.4 74.4 249.0 75.3 250.8 76.4C252.6 77.5 254.8 77.8 257.0 79.6C259.2 81.3 261.8 84.6 264.2 86.9C266.6 89.2 269.2 91.8 271.5 93.5C273.8 95.2 276.1 96.7 277.8 97.4C279.5 98.2 280.7 98.1 281.7 98.0C282.7 97.9 283.3 97.4 284.0 96.8C284.7 96.2 285.3 95.7 286.1 94.2C286.9 92.7 288.0 90.2 289.0 88.0C290.0 85.8 290.9 83.4 291.9 81.1C292.9 78.8 294.0 76.0 295.0 74.0C296.0 72.0 296.9 70.7 297.8 69.4C298.7 68.1 299.5 67.1 300.5 66.3C301.5 65.5 301.9 64.9 303.6 64.7C305.3 64.5 307.7 64.6 310.9 65.0C314.1 65.4 319.0 66.7 322.6 67.2C326.2 67.7 330.9 68.0 332.5 68.2" stroke="url(#g13)" stroke-width="1.0"/><path d="M307.3 33.0C307.9 36.1 309.7 46.6 310.9 51.9C312.1 57.2 313.3 61.6 314.6 65.0C315.9 68.4 317.4 70.8 318.9 72.3C320.3 73.8 321.7 73.9 323.3 73.8C324.9 73.7 326.9 72.5 328.4 71.6C329.9 70.7 331.8 68.8 332.5 68.2" stroke="url(#g15)" stroke-width="1.0"/><path d="M323.3 33.0C323.9 35.7 325.5 43.5 327.0 49.0C328.5 54.5 331.6 63.2 332.5 66.0" stroke="url(#g17)" stroke-width="1.0"/><path d="M59.5 79.6C60.1 78.7 61.8 76.2 63.0 74.0C64.2 71.8 65.5 70.2 66.7 66.5C68.0 62.8 69.3 57.6 70.5 52.0C71.7 46.4 73.4 36.2 74.0 33.0" stroke="url(#g19)" stroke-width="1.0"/><path d="M59.5 79.6C60.4 79.4 63.3 79.1 65.0 78.5C66.7 77.9 68.1 77.6 69.6 76.0C71.1 74.4 72.5 71.8 74.0 69.0C75.5 66.2 77.1 62.7 78.4 59.2C79.7 55.7 81.0 51.2 82.0 48.0C83.0 44.8 83.6 42.7 84.2 40.2C84.8 37.7 85.3 34.2 85.5 33.0" stroke="url(#g21)" stroke-width="1.0"/><path d="M84.5 33.0C84.9 34.2 86.0 38.1 87.0 40.0C88.0 41.9 89.6 44.5 90.8 44.6C92.0 44.7 93.0 42.4 94.0 40.5C95.0 38.6 96.2 34.2 96.6 33.0" stroke="url(#g23)" stroke-width="1.0"/><path d="M178.2 33.0C179.2 33.9 182.4 37.4 184.0 38.4C185.6 39.4 186.3 39.7 187.6 38.8C188.9 37.9 191.3 34.0 192.0 33.0" stroke="url(#g25)" stroke-width="1.0"/><path d="M165.0 33.0C165.4 34.5 166.6 38.7 167.5 42.0C168.4 45.3 169.3 49.0 170.5 53.0C171.7 57.0 173.2 62.6 174.7 65.9C176.2 69.2 177.8 71.1 179.4 72.9C181.0 74.8 183.2 76.3 184.0 77.0" stroke="url(#g27)" stroke-width="1.0"/></g></g></g><g clip-path="url(#clip2)" filter="url(#hot)"><rect x="390" y="29" width="284" height="212" fill="#000"/><rect x="390" y="30" width="285" height="210" fill="url(#bgb)"/><circle cx="652" cy="44" r="27" fill="url(#blob)"/><g fill="none" stroke-linecap="round" stroke-linejoin="round"><g filter="url(#b5)" opacity="0.34"><path d="M390.0 54.5C392.5 54.6 400.8 54.8 405.0 55.0C409.2 55.2 411.8 55.1 415.0 55.5C418.2 55.9 422.5 57.2 424.0 57.5" stroke="url(#g56)" stroke-width="12.1"/><path d="M510.0 40.0C510.7 41.5 512.6 46.8 514.0 49.0C515.4 51.2 517.1 52.5 518.5 53.5C519.9 54.5 521.1 54.8 522.5 54.8C523.9 54.8 525.4 54.4 527.0 53.5C528.6 52.6 530.3 51.4 532.0 49.5C533.7 47.6 536.2 43.2 537.0 42.0" stroke="url(#g68)" stroke-width="9.9"/><path d="M396.0 50.0C397.5 49.0 402.0 46.0 405.0 44.0C408.0 42.0 412.5 39.0 414.0 38.0" stroke="url(#g72)" stroke-width="14.3"/><path d="M392.0 40.0C393.3 39.5 397.0 37.8 400.0 37.0C403.0 36.2 408.3 35.3 410.0 35.0" stroke="url(#g73)" stroke-width="13.2"/><path d="M440.0 57.0C443.0 57.2 453.3 58.1 458.0 58.5C462.7 58.9 464.8 59.6 468.1 59.5C471.4 59.4 475.2 59.2 478.0 58.0C480.8 56.8 483.8 53.0 485.0 52.0" stroke="url(#g75)" stroke-width="9.9"/><path d="M390.0 156.6C393.3 156.6 405.3 156.5 410.0 156.6C414.7 156.7 415.8 156.5 418.0 157.0C420.2 157.5 421.0 158.3 423.0 159.5C425.0 160.7 427.8 162.4 430.0 164.0C432.2 165.6 434.2 167.7 436.0 169.0C437.8 170.3 439.5 171.2 441.0 172.0C442.5 172.8 443.3 172.5 445.0 174.0C446.7 175.5 448.8 178.0 451.0 181.0C453.2 184.0 455.5 187.8 458.0 192.0C460.5 196.2 463.3 201.0 466.0 206.0C468.7 211.0 471.5 216.7 474.0 222.0C476.5 227.3 479.8 235.3 481.0 238.0" stroke="url(#g81)" stroke-width="9.9"/><path d="M445.0 174.0C445.5 172.7 446.8 168.7 448.0 166.0C449.2 163.3 450.5 160.5 452.0 158.0C453.5 155.5 455.3 152.8 457.0 151.0C458.7 149.2 460.2 147.9 462.0 147.0C463.8 146.1 465.9 145.5 467.9 145.3C469.9 145.1 471.8 145.5 474.0 146.0C476.2 146.5 478.7 147.6 481.0 148.5C483.3 149.4 485.5 150.4 488.0 151.5C490.5 152.6 493.7 154.2 496.0 155.0C498.3 155.8 501.0 156.2 502.0 156.5" stroke="url(#g85)" stroke-width="9.9"/><path d="M441.0 150.5C442.2 149.9 445.5 147.9 448.0 147.0C450.5 146.1 453.5 145.3 456.0 145.0C458.5 144.7 461.0 144.8 463.0 145.0C465.0 145.2 466.2 145.2 467.9 146.0C469.6 146.8 471.3 148.2 473.0 150.0C474.7 151.8 476.2 154.4 478.0 157.0C479.8 159.6 482.2 162.8 484.0 165.8C485.8 168.8 487.3 171.3 489.0 175.0C490.7 178.7 492.2 183.0 494.0 188.0C495.8 193.0 498.0 199.3 500.0 205.0C502.0 210.7 504.3 216.5 506.0 222.0C507.7 227.5 509.3 235.3 510.0 238.0" stroke="url(#g87)" stroke-width="9.9"/><path d="M403.0 238.0C404.0 233.7 407.2 220.0 409.0 212.0C410.8 204.0 412.5 197.0 414.0 190.0C415.5 183.0 416.8 175.3 418.0 170.0C419.2 164.7 420.5 160.0 421.0 158.0" stroke="url(#g91)" stroke-width="9.9"/><path d="M465.0 238.0C465.2 230.8 465.7 206.3 466.0 195.0C466.3 183.7 466.7 177.5 467.0 170.0C467.3 162.5 467.8 153.3 467.9 150.0" stroke="url(#g95)" stroke-width="9.9"/><path d="M502.0 156.6C505.4 156.6 516.0 156.6 522.5 156.6C529.0 156.6 535.1 156.5 541.0 156.6C546.9 156.7 553.7 156.3 558.0 157.0C562.3 157.7 564.0 159.1 566.8 160.7C569.6 162.3 572.3 164.6 575.0 166.8C577.7 169.0 580.3 172.1 583.0 174.0C585.7 175.9 589.0 176.0 591.3 178.0C593.6 180.0 595.0 182.7 597.0 186.0C599.0 189.3 601.0 193.3 603.0 198.0C605.0 202.7 607.0 207.3 609.0 214.0C611.0 220.7 614.0 234.0 615.0 238.0" stroke="url(#g97)" stroke-width="9.9"/><path d="M583.0 174.0C583.5 171.7 584.7 164.0 586.2 160.0C587.7 156.0 589.7 152.9 592.0 150.0C594.3 147.1 597.0 144.6 600.0 142.5C603.0 140.4 606.7 138.8 610.0 137.5C613.3 136.2 617.3 135.2 620.0 135.0C622.7 134.8 624.0 135.4 626.0 136.5C628.0 137.6 630.0 139.4 632.0 141.5C634.0 143.6 635.8 146.8 638.0 149.0C640.2 151.2 642.7 153.3 645.0 154.5C647.3 155.7 650.8 156.0 652.0 156.3" stroke="url(#g101)" stroke-width="9.9"/><path d="M599.0 238.0C599.8 235.0 602.2 225.8 604.0 220.0C605.8 214.2 608.0 208.0 610.0 203.0C612.0 198.0 614.0 193.8 616.0 190.0C618.0 186.2 620.0 183.0 622.0 180.0C624.0 177.0 626.0 174.2 628.0 172.0C630.0 169.8 632.0 168.7 634.0 167.0C636.0 165.3 637.7 163.5 640.0 162.0C642.3 160.5 645.5 158.9 648.0 158.0C650.5 157.1 650.7 157.0 655.0 156.8C659.3 156.6 670.8 156.6 674.0 156.6" stroke="url(#g104)" stroke-width="9.9"/><path d="M628.0 172.0C628.8 174.2 631.3 180.3 633.0 185.0C634.7 189.7 636.2 194.5 638.0 200.0C639.8 205.5 642.2 211.7 644.0 218.0C645.8 224.3 648.2 234.7 649.0 238.0" stroke="url(#g107)" stroke-width="9.9"/><path d="M557.0 238.0C557.7 235.0 559.5 226.3 561.0 220.0C562.5 213.7 564.3 206.3 566.0 200.0C567.7 193.7 569.5 187.3 571.0 182.0C572.5 176.7 574.3 170.3 575.0 168.0" stroke="url(#g110)" stroke-width="9.9"/><path d="M594.0 238.0C594.2 231.7 594.5 211.3 595.0 200.0C595.5 188.7 596.2 178.3 597.0 170.0C597.8 161.7 599.5 153.3 600.0 150.0" stroke="url(#g113)" stroke-width="9.9"/></g><g filter="url(#b5)" opacity="0.30"><path d="M419.0 55.6C419.7 55.8 421.8 56.2 423.0 57.0C424.2 57.8 424.9 58.9 426.0 60.5C427.1 62.1 428.4 64.6 429.4 66.5C430.4 68.4 431.0 70.2 432.0 72.0C433.0 73.8 434.3 76.0 435.3 77.4C436.3 78.8 437.1 79.6 438.0 80.3C438.9 81.0 439.2 81.4 440.5 81.8C441.8 82.2 444.1 82.3 445.5 82.8C446.9 83.3 447.8 84.2 449.0 85.0C450.2 85.8 450.7 86.5 452.8 87.7C454.9 89.0 458.9 91.4 461.5 92.5C464.1 93.6 466.4 94.0 468.1 94.2C469.8 94.4 470.4 94.0 471.5 93.5C472.6 93.0 473.6 92.4 474.7 91.3C475.8 90.2 476.8 88.7 478.0 87.0C479.2 85.3 480.7 83.3 482.0 81.1C483.3 78.9 484.4 76.5 486.0 73.8C487.6 71.1 489.9 67.5 491.7 65.0C493.5 62.5 495.3 60.5 497.0 59.0C498.7 57.5 501.2 56.5 502.0 56.0" stroke="url(#g55)" stroke-width="7.2"/><path d="M390.0 54.8C392.5 54.8 400.8 54.9 405.0 55.0C409.2 55.1 412.0 55.2 415.0 55.5C418.0 55.8 421.0 55.9 423.0 57.0C425.0 58.1 426.3 61.2 427.0 62.0" stroke="url(#g57)" stroke-width="9.9"/><path d="M393.0 83.3C394.9 83.2 401.8 83.1 404.6 82.6C407.4 82.1 408.5 81.2 410.0 80.5C411.5 79.8 412.1 79.3 413.4 78.2C414.7 77.1 416.6 75.5 418.0 74.0C419.4 72.5 420.9 71.1 422.1 69.4C423.3 67.7 424.5 64.9 425.0 64.0" stroke="url(#g60)" stroke-width="5.9"/><path d="M497.0 60.0C497.5 60.7 498.8 62.1 500.0 64.0C501.2 65.9 502.8 69.3 504.0 71.5C505.2 73.7 506.0 75.5 507.0 77.0C508.0 78.5 508.8 79.9 510.0 80.8C511.2 81.7 511.9 82.0 514.0 82.3C516.0 82.6 517.8 82.6 522.3 82.8C526.8 83.0 534.7 83.3 541.0 83.3C547.3 83.3 555.4 83.2 560.3 82.8C565.2 82.4 568.0 81.6 570.5 81.1C573.0 80.6 573.4 80.3 575.0 79.6C576.6 78.9 578.3 77.4 580.0 76.7C581.7 76.0 583.9 75.4 585.3 75.3C586.7 75.2 587.4 75.5 588.5 76.0C589.6 76.5 590.1 77.0 591.9 78.2C593.7 79.4 596.8 82.0 599.2 83.3C601.6 84.6 604.2 85.5 606.5 85.9C608.8 86.3 611.0 86.0 613.2 85.5C615.4 85.0 616.6 83.4 619.6 82.8C622.6 82.2 626.9 82.0 631.3 81.8C635.7 81.6 639.7 81.5 645.9 81.8C652.1 82.0 664.7 83.0 668.5 83.3" stroke="url(#g62)" stroke-width="7.2"/><path d="M570.0 33.0C570.4 34.7 571.5 40.1 572.5 43.0C573.5 45.9 574.3 47.8 575.8 50.4C577.3 53.0 580.0 56.8 581.7 58.5C583.4 60.2 584.2 59.8 586.1 60.4C588.0 61.0 590.7 60.7 593.4 62.1C596.1 63.5 598.8 66.4 602.1 68.7C605.4 71.0 610.7 74.6 613.2 76.0C615.8 77.4 616.4 77.0 617.4 77.0C618.4 77.0 619.1 76.0 619.5 75.8" stroke="url(#g64)" stroke-width="7.2"/><path d="M617.4 77.0C617.8 76.8 618.9 76.3 619.5 75.8C620.1 75.3 620.4 75.0 621.1 73.8C621.9 72.6 623.0 70.5 624.0 68.5C625.0 66.5 625.4 65.3 626.9 62.1C628.4 58.9 630.8 52.6 632.8 49.0C634.8 45.4 636.9 42.9 638.6 40.2C640.3 37.5 642.3 34.2 643.0 33.0" stroke="url(#g66)" stroke-width="7.2"/><path d="M507.0 33.0C507.5 34.5 508.8 39.3 510.0 42.0C511.2 44.7 512.6 47.1 514.0 49.0C515.4 50.9 517.1 52.5 518.5 53.5C519.9 54.5 521.1 54.8 522.5 54.8C523.9 54.8 525.4 54.4 527.0 53.5C528.6 52.6 530.5 51.1 532.0 49.5C533.5 47.9 534.8 45.9 536.0 44.0C537.2 42.1 538.6 39.8 539.5 38.0C540.4 36.2 541.2 33.8 541.5 33.0" stroke="url(#g67)" stroke-width="9.9"/><path d="M395.5 54.8C396.2 53.7 398.6 50.5 400.0 48.0C401.4 45.5 402.8 42.5 404.0 40.0C405.2 37.5 406.5 34.2 407.0 33.0" stroke="url(#g70)" stroke-width="6.8"/><path d="M395.5 54.8C396.8 54.0 400.6 52.1 403.0 50.0C405.4 47.9 408.0 44.8 410.0 42.0C412.0 39.2 414.2 34.5 415.0 33.0" stroke="url(#g71)" stroke-width="6.8"/><path d="M436.0 56.5C438.0 56.7 444.3 57.2 448.0 57.5C451.7 57.8 454.6 58.2 458.0 58.5C461.4 58.8 464.8 59.6 468.1 59.5C471.4 59.4 475.2 59.2 478.0 58.0C480.8 56.8 483.0 54.5 485.0 52.0C487.0 49.5 488.7 46.2 490.0 43.0C491.3 39.8 492.5 34.7 493.0 33.0" stroke="url(#g74)" stroke-width="9.0"/><path d="M476.0 60.0C476.7 59.3 478.7 57.7 480.0 56.0C481.3 54.3 482.7 52.3 484.0 50.0C485.3 47.7 486.7 44.8 488.0 42.0C489.3 39.2 491.3 34.5 492.0 33.0" stroke="url(#g76)" stroke-width="6.8"/><path d="M478.0 58.0C479.5 58.2 484.2 58.5 487.0 59.0C489.8 59.5 492.4 59.7 494.6 60.7C496.8 61.7 498.4 63.2 500.0 65.0C501.6 66.8 502.8 69.5 504.0 71.5C505.2 73.5 506.5 76.1 507.0 77.0" stroke="url(#g77)" stroke-width="7.6"/><path d="M499.0 33.0C499.3 34.8 500.2 40.5 501.0 44.0C501.8 47.5 503.0 51.0 504.0 54.0C505.0 57.0 506.5 60.7 507.0 62.0" stroke="url(#g78)" stroke-width="5.9"/><path d="M621.0 74.0C621.7 72.5 623.4 68.7 625.0 65.0C626.6 61.3 628.9 55.8 630.8 52.0C632.7 48.2 634.6 45.4 636.6 42.2C638.6 39.0 641.9 34.5 643.0 33.0" stroke="url(#g79)" stroke-width="8.1"/><path d="M390.0 156.6C393.3 156.6 405.3 156.5 410.0 156.6C414.7 156.7 415.8 156.5 418.0 157.0C420.2 157.5 421.0 158.3 423.0 159.5C425.0 160.7 427.8 162.4 430.0 164.0C432.2 165.6 434.2 167.7 436.0 169.0C437.8 170.3 439.5 171.2 441.0 172.0C442.5 172.8 443.3 172.5 445.0 174.0C446.7 175.5 448.8 178.0 451.0 181.0C453.2 184.0 455.5 187.8 458.0 192.0C460.5 196.2 463.3 201.0 466.0 206.0C468.7 211.0 471.5 216.7 474.0 222.0C476.5 227.3 479.8 235.3 481.0 238.0" stroke="url(#g80)" stroke-width="9.0"/><path d="M420.7 157.5C421.2 156.8 422.8 154.3 424.0 153.0C425.2 151.7 426.4 150.3 428.0 149.5C429.6 148.7 432.1 148.0 433.9 148.0C435.7 148.0 437.3 148.3 439.0 149.5C440.7 150.7 442.3 152.8 444.0 155.0C445.7 157.2 447.5 160.3 449.0 163.0C450.5 165.7 451.5 168.2 453.0 171.0C454.5 173.8 457.2 178.5 458.0 180.0" stroke="url(#g83)" stroke-width="7.2"/><path d="M445.0 174.0C445.5 172.7 446.8 168.7 448.0 166.0C449.2 163.3 450.5 160.5 452.0 158.0C453.5 155.5 455.3 152.8 457.0 151.0C458.7 149.2 460.2 147.9 462.0 147.0C463.8 146.1 465.9 145.5 467.9 145.3C469.9 145.1 471.8 145.5 474.0 146.0C476.2 146.5 478.7 147.6 481.0 148.5C483.3 149.4 485.5 150.4 488.0 151.5C490.5 152.6 493.7 154.2 496.0 155.0C498.3 155.8 501.0 156.2 502.0 156.5" stroke="url(#g84)" stroke-width="7.2"/><path d="M441.0 150.5C442.2 149.9 445.5 147.9 448.0 147.0C450.5 146.1 453.5 145.3 456.0 145.0C458.5 144.7 461.0 144.8 463.0 145.0C465.0 145.2 466.2 145.2 467.9 146.0C469.6 146.8 471.3 148.2 473.0 150.0C474.7 151.8 476.2 154.4 478.0 157.0C479.8 159.6 482.2 162.8 484.0 165.8C485.8 168.8 487.3 171.3 489.0 175.0C490.7 178.7 492.2 183.0 494.0 188.0C495.8 193.0 498.0 199.3 500.0 205.0C502.0 210.7 504.3 216.5 506.0 222.0C507.7 227.5 509.3 235.3 510.0 238.0" stroke="url(#g86)" stroke-width="7.2"/><path d="M484.0 165.8C485.0 164.8 487.8 161.4 490.0 160.0C492.2 158.6 494.7 158.1 497.0 157.5C499.3 156.9 502.8 156.8 504.0 156.6" stroke="url(#g88)" stroke-width="7.2"/><path d="M470.0 238.0C470.3 233.3 471.2 218.0 472.0 210.0C472.8 202.0 473.8 195.7 475.0 190.0C476.2 184.3 477.5 180.0 479.0 176.0C480.5 172.0 483.2 167.5 484.0 165.8" stroke="url(#g89)" stroke-width="7.2"/><path d="M403.0 238.0C404.0 233.7 407.2 220.0 409.0 212.0C410.8 204.0 412.5 197.0 414.0 190.0C415.5 183.0 416.8 175.3 418.0 170.0C419.2 164.7 420.5 160.0 421.0 158.0" stroke="url(#g90)" stroke-width="7.2"/><path d="M410.0 238.0C411.0 234.2 414.0 221.7 416.0 215.0C418.0 208.3 420.0 203.5 422.0 198.0C424.0 192.5 426.0 187.0 428.0 182.0C430.0 177.0 433.0 170.3 434.0 168.0" stroke="url(#g92)" stroke-width="7.2"/><path d="M430.0 238.0C430.5 235.3 431.8 227.5 433.0 222.0C434.2 216.5 435.7 210.3 437.0 205.0C438.3 199.7 439.7 194.8 441.0 190.0C442.3 185.2 444.3 178.3 445.0 176.0" stroke="url(#g93)" stroke-width="7.2"/><path d="M465.0 238.0C465.2 230.8 465.7 206.3 466.0 195.0C466.3 183.7 466.7 177.5 467.0 170.0C467.3 162.5 467.8 153.3 467.9 150.0" stroke="url(#g94)" stroke-width="7.2"/><path d="M502.0 156.6C505.4 156.6 516.0 156.6 522.5 156.6C529.0 156.6 535.1 156.5 541.0 156.6C546.9 156.7 553.7 156.3 558.0 157.0C562.3 157.7 564.0 159.1 566.8 160.7C569.6 162.3 572.3 164.6 575.0 166.8C577.7 169.0 580.3 172.1 583.0 174.0C585.7 175.9 589.0 176.0 591.3 178.0C593.6 180.0 595.0 182.7 597.0 186.0C599.0 189.3 601.0 193.3 603.0 198.0C605.0 202.7 607.0 207.3 609.0 214.0C611.0 220.7 614.0 234.0 615.0 238.0" stroke="url(#g96)" stroke-width="9.0"/><path d="M566.0 158.5C566.7 157.4 568.7 153.7 570.0 152.0C571.3 150.3 572.5 148.9 574.0 148.4C575.5 147.9 577.5 148.2 579.0 149.0C580.5 149.8 581.7 151.2 583.0 153.0C584.3 154.8 585.8 157.5 587.0 160.0C588.2 162.5 589.5 166.7 590.0 168.0" stroke="url(#g99)" stroke-width="7.2"/><path d="M583.0 174.0C583.5 171.7 584.7 164.0 586.2 160.0C587.7 156.0 589.7 152.9 592.0 150.0C594.3 147.1 597.0 144.6 600.0 142.5C603.0 140.4 606.7 138.8 610.0 137.5C613.3 136.2 617.3 135.2 620.0 135.0C622.7 134.8 624.0 135.4 626.0 136.5C628.0 137.6 630.0 139.4 632.0 141.5C634.0 143.6 635.8 146.8 638.0 149.0C640.2 151.2 642.7 153.3 645.0 154.5C647.3 155.7 650.8 156.0 652.0 156.3" stroke="url(#g100)" stroke-width="7.2"/><path d="M591.3 178.0C592.1 176.0 594.2 169.7 596.0 166.0C597.8 162.3 600.0 158.8 602.0 156.0C604.0 153.2 606.1 150.7 608.0 149.0C609.9 147.3 611.4 145.8 613.4 146.0C615.4 146.2 618.2 147.7 620.0 150.0C621.8 152.3 622.7 156.3 624.0 160.0C625.3 163.7 627.3 170.0 628.0 172.0" stroke="url(#g102)" stroke-width="7.2"/><path d="M599.0 238.0C599.8 235.0 602.2 225.8 604.0 220.0C605.8 214.2 608.0 208.0 610.0 203.0C612.0 198.0 614.0 193.8 616.0 190.0C618.0 186.2 620.0 183.0 622.0 180.0C624.0 177.0 626.0 174.2 628.0 172.0C630.0 169.8 632.0 168.7 634.0 167.0C636.0 165.3 637.7 163.5 640.0 162.0C642.3 160.5 645.5 158.9 648.0 158.0C650.5 157.1 650.7 157.0 655.0 156.8C659.3 156.6 670.8 156.6 674.0 156.6" stroke="url(#g103)" stroke-width="9.0"/><path d="M628.0 172.0C628.8 174.2 631.3 180.3 633.0 185.0C634.7 189.7 636.2 194.5 638.0 200.0C639.8 205.5 642.2 211.7 644.0 218.0C645.8 224.3 648.2 234.7 649.0 238.0" stroke="url(#g106)" stroke-width="7.2"/><path d="M613.4 160.0C614.5 162.5 617.6 169.2 620.0 175.0C622.4 180.8 625.3 187.8 628.0 195.0C630.7 202.2 633.8 210.8 636.0 218.0C638.2 225.2 640.2 234.7 641.0 238.0" stroke="url(#g108)" stroke-width="7.2"/><path d="M557.0 238.0C557.7 235.0 559.5 226.3 561.0 220.0C562.5 213.7 564.3 206.3 566.0 200.0C567.7 193.7 569.5 187.3 571.0 182.0C572.5 176.7 574.3 170.3 575.0 168.0" stroke="url(#g109)" stroke-width="7.2"/><path d="M583.0 238.0C583.3 234.2 584.2 222.2 585.0 215.0C585.8 207.8 587.0 200.8 588.0 195.0C589.0 189.2 590.5 182.5 591.0 180.0" stroke="url(#g111)" stroke-width="7.2"/><path d="M594.0 238.0C594.2 231.7 594.5 211.3 595.0 200.0C595.5 188.7 596.2 178.3 597.0 170.0C597.8 161.7 599.5 153.3 600.0 150.0" stroke="url(#g112)" stroke-width="7.2"/></g><g filter="url(#b2)" opacity="0.42"><path d="M419.0 55.6C419.7 55.8 421.8 56.2 423.0 57.0C424.2 57.8 424.9 58.9 426.0 60.5C427.1 62.1 428.4 64.6 429.4 66.5C430.4 68.4 431.0 70.2 432.0 72.0C433.0 73.8 434.3 76.0 435.3 77.4C436.3 78.8 437.1 79.6 438.0 80.3C438.9 81.0 439.2 81.4 440.5 81.8C441.8 82.2 444.1 82.3 445.5 82.8C446.9 83.3 447.8 84.2 449.0 85.0C450.2 85.8 450.7 86.5 452.8 87.7C454.9 89.0 458.9 91.4 461.5 92.5C464.1 93.6 466.4 94.0 468.1 94.2C469.8 94.4 470.4 94.0 471.5 93.5C472.6 93.0 473.6 92.4 474.7 91.3C475.8 90.2 476.8 88.7 478.0 87.0C479.2 85.3 480.7 83.3 482.0 81.1C483.3 78.9 484.4 76.5 486.0 73.8C487.6 71.1 489.9 67.5 491.7 65.0C493.5 62.5 495.3 60.5 497.0 59.0C498.7 57.5 501.2 56.5 502.0 56.0" stroke="url(#g55)" stroke-width="2.9"/><path d="M390.0 54.8C392.5 54.8 400.8 54.9 405.0 55.0C409.2 55.1 412.0 55.2 415.0 55.5C418.0 55.8 421.0 55.9 423.0 57.0C425.0 58.1 426.3 61.2 427.0 62.0" stroke="url(#g57)" stroke-width="4.0"/><path d="M393.0 83.3C394.9 83.2 401.8 83.1 404.6 82.6C407.4 82.1 408.5 81.2 410.0 80.5C411.5 79.8 412.1 79.3 413.4 78.2C414.7 77.1 416.6 75.5 418.0 74.0C419.4 72.5 420.9 71.1 422.1 69.4C423.3 67.7 424.5 64.9 425.0 64.0" stroke="url(#g60)" stroke-width="2.3"/><path d="M497.0 60.0C497.5 60.7 498.8 62.1 500.0 64.0C501.2 65.9 502.8 69.3 504.0 71.5C505.2 73.7 506.0 75.5 507.0 77.0C508.0 78.5 508.8 79.9 510.0 80.8C511.2 81.7 511.9 82.0 514.0 82.3C516.0 82.6 517.8 82.6 522.3 82.8C526.8 83.0 534.7 83.3 541.0 83.3C547.3 83.3 555.4 83.2 560.3 82.8C565.2 82.4 568.0 81.6 570.5 81.1C573.0 80.6 573.4 80.3 575.0 79.6C576.6 78.9 578.3 77.4 580.0 76.7C581.7 76.0 583.9 75.4 585.3 75.3C586.7 75.2 587.4 75.5 588.5 76.0C589.6 76.5 590.1 77.0 591.9 78.2C593.7 79.4 596.8 82.0 599.2 83.3C601.6 84.6 604.2 85.5 606.5 85.9C608.8 86.3 611.0 86.0 613.2 85.5C615.4 85.0 616.6 83.4 619.6 82.8C622.6 82.2 626.9 82.0 631.3 81.8C635.7 81.6 639.7 81.5 645.9 81.8C652.1 82.0 664.7 83.0 668.5 83.3" stroke="url(#g62)" stroke-width="2.9"/><path d="M570.0 33.0C570.4 34.7 571.5 40.1 572.5 43.0C573.5 45.9 574.3 47.8 575.8 50.4C577.3 53.0 580.0 56.8 581.7 58.5C583.4 60.2 584.2 59.8 586.1 60.4C588.0 61.0 590.7 60.7 593.4 62.1C596.1 63.5 598.8 66.4 602.1 68.7C605.4 71.0 610.7 74.6 613.2 76.0C615.8 77.4 616.4 77.0 617.4 77.0C618.4 77.0 619.1 76.0 619.5 75.8" stroke="url(#g64)" stroke-width="2.9"/><path d="M617.4 77.0C617.8 76.8 618.9 76.3 619.5 75.8C620.1 75.3 620.4 75.0 621.1 73.8C621.9 72.6 623.0 70.5 624.0 68.5C625.0 66.5 625.4 65.3 626.9 62.1C628.4 58.9 630.8 52.6 632.8 49.0C634.8 45.4 636.9 42.9 638.6 40.2C640.3 37.5 642.3 34.2 643.0 33.0" stroke="url(#g66)" stroke-width="2.9"/><path d="M507.0 33.0C507.5 34.5 508.8 39.3 510.0 42.0C511.2 44.7 512.6 47.1 514.0 49.0C515.4 50.9 517.1 52.5 518.5 53.5C519.9 54.5 521.1 54.8 522.5 54.8C523.9 54.8 525.4 54.4 527.0 53.5C528.6 52.6 530.5 51.1 532.0 49.5C533.5 47.9 534.8 45.9 536.0 44.0C537.2 42.1 538.6 39.8 539.5 38.0C540.4 36.2 541.2 33.8 541.5 33.0" stroke="url(#g67)" stroke-width="4.0"/><path d="M395.5 54.8C396.2 53.7 398.6 50.5 400.0 48.0C401.4 45.5 402.8 42.5 404.0 40.0C405.2 37.5 406.5 34.2 407.0 33.0" stroke="url(#g70)" stroke-width="2.7"/><path d="M395.5 54.8C396.8 54.0 400.6 52.1 403.0 50.0C405.4 47.9 408.0 44.8 410.0 42.0C412.0 39.2 414.2 34.5 415.0 33.0" stroke="url(#g71)" stroke-width="2.7"/><path d="M436.0 56.5C438.0 56.7 444.3 57.2 448.0 57.5C451.7 57.8 454.6 58.2 458.0 58.5C461.4 58.8 464.8 59.6 468.1 59.5C471.4 59.4 475.2 59.2 478.0 58.0C480.8 56.8 483.0 54.5 485.0 52.0C487.0 49.5 488.7 46.2 490.0 43.0C491.3 39.8 492.5 34.7 493.0 33.0" stroke="url(#g74)" stroke-width="3.6"/><path d="M476.0 60.0C476.7 59.3 478.7 57.7 480.0 56.0C481.3 54.3 482.7 52.3 484.0 50.0C485.3 47.7 486.7 44.8 488.0 42.0C489.3 39.2 491.3 34.5 492.0 33.0" stroke="url(#g76)" stroke-width="2.7"/><path d="M478.0 58.0C479.5 58.2 484.2 58.5 487.0 59.0C489.8 59.5 492.4 59.7 494.6 60.7C496.8 61.7 498.4 63.2 500.0 65.0C501.6 66.8 502.8 69.5 504.0 71.5C505.2 73.5 506.5 76.1 507.0 77.0" stroke="url(#g77)" stroke-width="3.1"/><path d="M499.0 33.0C499.3 34.8 500.2 40.5 501.0 44.0C501.8 47.5 503.0 51.0 504.0 54.0C505.0 57.0 506.5 60.7 507.0 62.0" stroke="url(#g78)" stroke-width="2.3"/><path d="M621.0 74.0C621.7 72.5 623.4 68.7 625.0 65.0C626.6 61.3 628.9 55.8 630.8 52.0C632.7 48.2 634.6 45.4 636.6 42.2C638.6 39.0 641.9 34.5 643.0 33.0" stroke="url(#g79)" stroke-width="3.2"/><path d="M390.0 156.6C393.3 156.6 405.3 156.5 410.0 156.6C414.7 156.7 415.8 156.5 418.0 157.0C420.2 157.5 421.0 158.3 423.0 159.5C425.0 160.7 427.8 162.4 430.0 164.0C432.2 165.6 434.2 167.7 436.0 169.0C437.8 170.3 439.5 171.2 441.0 172.0C442.5 172.8 443.3 172.5 445.0 174.0C446.7 175.5 448.8 178.0 451.0 181.0C453.2 184.0 455.5 187.8 458.0 192.0C460.5 196.2 463.3 201.0 466.0 206.0C468.7 211.0 471.5 216.7 474.0 222.0C476.5 227.3 479.8 235.3 481.0 238.0" stroke="url(#g80)" stroke-width="3.6"/><path d="M420.7 157.5C421.2 156.8 422.8 154.3 424.0 153.0C425.2 151.7 426.4 150.3 428.0 149.5C429.6 148.7 432.1 148.0 433.9 148.0C435.7 148.0 437.3 148.3 439.0 149.5C440.7 150.7 442.3 152.8 444.0 155.0C445.7 157.2 447.5 160.3 449.0 163.0C450.5 165.7 451.5 168.2 453.0 171.0C454.5 173.8 457.2 178.5 458.0 180.0" stroke="url(#g83)" stroke-width="2.9"/><path d="M445.0 174.0C445.5 172.7 446.8 168.7 448.0 166.0C449.2 163.3 450.5 160.5 452.0 158.0C453.5 155.5 455.3 152.8 457.0 151.0C458.7 149.2 460.2 147.9 462.0 147.0C463.8 146.1 465.9 145.5 467.9 145.3C469.9 145.1 471.8 145.5 474.0 146.0C476.2 146.5 478.7 147.6 481.0 148.5C483.3 149.4 485.5 150.4 488.0 151.5C490.5 152.6 493.7 154.2 496.0 155.0C498.3 155.8 501.0 156.2 502.0 156.5" stroke="url(#g84)" stroke-width="2.9"/><path d="M441.0 150.5C442.2 149.9 445.5 147.9 448.0 147.0C450.5 146.1 453.5 145.3 456.0 145.0C458.5 144.7 461.0 144.8 463.0 145.0C465.0 145.2 466.2 145.2 467.9 146.0C469.6 146.8 471.3 148.2 473.0 150.0C474.7 151.8 476.2 154.4 478.0 157.0C479.8 159.6 482.2 162.8 484.0 165.8C485.8 168.8 487.3 171.3 489.0 175.0C490.7 178.7 492.2 183.0 494.0 188.0C495.8 193.0 498.0 199.3 500.0 205.0C502.0 210.7 504.3 216.5 506.0 222.0C507.7 227.5 509.3 235.3 510.0 238.0" stroke="url(#g86)" stroke-width="2.9"/><path d="M484.0 165.8C485.0 164.8 487.8 161.4 490.0 160.0C492.2 158.6 494.7 158.1 497.0 157.5C499.3 156.9 502.8 156.8 504.0 156.6" stroke="url(#g88)" stroke-width="2.9"/><path d="M470.0 238.0C470.3 233.3 471.2 218.0 472.0 210.0C472.8 202.0 473.8 195.7 475.0 190.0C476.2 184.3 477.5 180.0 479.0 176.0C480.5 172.0 483.2 167.5 484.0 165.8" stroke="url(#g89)" stroke-width="2.9"/><path d="M403.0 238.0C404.0 233.7 407.2 220.0 409.0 212.0C410.8 204.0 412.5 197.0 414.0 190.0C415.5 183.0 416.8 175.3 418.0 170.0C419.2 164.7 420.5 160.0 421.0 158.0" stroke="url(#g90)" stroke-width="2.9"/><path d="M410.0 238.0C411.0 234.2 414.0 221.7 416.0 215.0C418.0 208.3 420.0 203.5 422.0 198.0C424.0 192.5 426.0 187.0 428.0 182.0C430.0 177.0 433.0 170.3 434.0 168.0" stroke="url(#g92)" stroke-width="2.9"/><path d="M430.0 238.0C430.5 235.3 431.8 227.5 433.0 222.0C434.2 216.5 435.7 210.3 437.0 205.0C438.3 199.7 439.7 194.8 441.0 190.0C442.3 185.2 444.3 178.3 445.0 176.0" stroke="url(#g93)" stroke-width="2.9"/><path d="M465.0 238.0C465.2 230.8 465.7 206.3 466.0 195.0C466.3 183.7 466.7 177.5 467.0 170.0C467.3 162.5 467.8 153.3 467.9 150.0" stroke="url(#g94)" stroke-width="2.9"/><path d="M502.0 156.6C505.4 156.6 516.0 156.6 522.5 156.6C529.0 156.6 535.1 156.5 541.0 156.6C546.9 156.7 553.7 156.3 558.0 157.0C562.3 157.7 564.0 159.1 566.8 160.7C569.6 162.3 572.3 164.6 575.0 166.8C577.7 169.0 580.3 172.1 583.0 174.0C585.7 175.9 589.0 176.0 591.3 178.0C593.6 180.0 595.0 182.7 597.0 186.0C599.0 189.3 601.0 193.3 603.0 198.0C605.0 202.7 607.0 207.3 609.0 214.0C611.0 220.7 614.0 234.0 615.0 238.0" stroke="url(#g96)" stroke-width="3.6"/><path d="M566.0 158.5C566.7 157.4 568.7 153.7 570.0 152.0C571.3 150.3 572.5 148.9 574.0 148.4C575.5 147.9 577.5 148.2 579.0 149.0C580.5 149.8 581.7 151.2 583.0 153.0C584.3 154.8 585.8 157.5 587.0 160.0C588.2 162.5 589.5 166.7 590.0 168.0" stroke="url(#g99)" stroke-width="2.9"/><path d="M583.0 174.0C583.5 171.7 584.7 164.0 586.2 160.0C587.7 156.0 589.7 152.9 592.0 150.0C594.3 147.1 597.0 144.6 600.0 142.5C603.0 140.4 606.7 138.8 610.0 137.5C613.3 136.2 617.3 135.2 620.0 135.0C622.7 134.8 624.0 135.4 626.0 136.5C628.0 137.6 630.0 139.4 632.0 141.5C634.0 143.6 635.8 146.8 638.0 149.0C640.2 151.2 642.7 153.3 645.0 154.5C647.3 155.7 650.8 156.0 652.0 156.3" stroke="url(#g100)" stroke-width="2.9"/><path d="M591.3 178.0C592.1 176.0 594.2 169.7 596.0 166.0C597.8 162.3 600.0 158.8 602.0 156.0C604.0 153.2 606.1 150.7 608.0 149.0C609.9 147.3 611.4 145.8 613.4 146.0C615.4 146.2 618.2 147.7 620.0 150.0C621.8 152.3 622.7 156.3 624.0 160.0C625.3 163.7 627.3 170.0 628.0 172.0" stroke="url(#g102)" stroke-width="2.9"/><path d="M599.0 238.0C599.8 235.0 602.2 225.8 604.0 220.0C605.8 214.2 608.0 208.0 610.0 203.0C612.0 198.0 614.0 193.8 616.0 190.0C618.0 186.2 620.0 183.0 622.0 180.0C624.0 177.0 626.0 174.2 628.0 172.0C630.0 169.8 632.0 168.7 634.0 167.0C636.0 165.3 637.7 163.5 640.0 162.0C642.3 160.5 645.5 158.9 648.0 158.0C650.5 157.1 650.7 157.0 655.0 156.8C659.3 156.6 670.8 156.6 674.0 156.6" stroke="url(#g103)" stroke-width="3.6"/><path d="M628.0 172.0C628.8 174.2 631.3 180.3 633.0 185.0C634.7 189.7 636.2 194.5 638.0 200.0C639.8 205.5 642.2 211.7 644.0 218.0C645.8 224.3 648.2 234.7 649.0 238.0" stroke="url(#g106)" stroke-width="2.9"/><path d="M613.4 160.0C614.5 162.5 617.6 169.2 620.0 175.0C622.4 180.8 625.3 187.8 628.0 195.0C630.7 202.2 633.8 210.8 636.0 218.0C638.2 225.2 640.2 234.7 641.0 238.0" stroke="url(#g108)" stroke-width="2.9"/><path d="M557.0 238.0C557.7 235.0 559.5 226.3 561.0 220.0C562.5 213.7 564.3 206.3 566.0 200.0C567.7 193.7 569.5 187.3 571.0 182.0C572.5 176.7 574.3 170.3 575.0 168.0" stroke="url(#g109)" stroke-width="2.9"/><path d="M583.0 238.0C583.3 234.2 584.2 222.2 585.0 215.0C585.8 207.8 587.0 200.8 588.0 195.0C589.0 189.2 590.5 182.5 591.0 180.0" stroke="url(#g111)" stroke-width="2.9"/><path d="M594.0 238.0C594.2 231.7 594.5 211.3 595.0 200.0C595.5 188.7 596.2 178.3 597.0 170.0C597.8 161.7 599.5 153.3 600.0 150.0" stroke="url(#g112)" stroke-width="2.9"/></g><g filter="url(#b25)" opacity="0.17"><path d="M419.0 55.6C419.7 55.8 421.8 56.2 423.0 57.0C424.2 57.8 424.9 58.9 426.0 60.5C427.1 62.1 428.4 64.6 429.4 66.5C430.4 68.4 431.0 70.2 432.0 72.0C433.0 73.8 434.3 76.0 435.3 77.4C436.3 78.8 437.1 79.6 438.0 80.3C438.9 81.0 439.2 81.4 440.5 81.8C441.8 82.2 444.1 82.3 445.5 82.8C446.9 83.3 447.8 84.2 449.0 85.0C450.2 85.8 450.7 86.5 452.8 87.7C454.9 89.0 458.9 91.4 461.5 92.5C464.1 93.6 466.4 94.0 468.1 94.2C469.8 94.4 470.4 94.0 471.5 93.5C472.6 93.0 473.6 92.4 474.7 91.3C475.8 90.2 476.8 88.7 478.0 87.0C479.2 85.3 480.7 83.3 482.0 81.1C483.3 78.9 484.4 76.5 486.0 73.8C487.6 71.1 489.9 67.5 491.7 65.0C493.5 62.5 495.3 60.5 497.0 59.0C498.7 57.5 501.2 56.5 502.0 56.0" stroke="url(#g54)" stroke-width="5.7"/><path d="M393.0 54.8C393.8 54.8 396.2 54.9 398.0 54.9C399.8 54.9 403.0 55.0 404.0 55.0" stroke="url(#g58)" stroke-width="14.1"/><path d="M395.5 83.3C397.0 83.2 402.2 83.1 404.6 82.6C407.0 82.1 408.5 81.2 410.0 80.5C411.5 79.8 412.1 79.3 413.4 78.2C414.7 77.1 416.6 75.5 418.0 74.0C419.4 72.5 420.9 71.1 422.1 69.4C423.3 67.7 424.2 65.9 425.0 64.0C425.8 62.1 426.7 59.0 427.0 58.0" stroke="url(#g59)" stroke-width="7.0"/><path d="M497.0 60.0C497.5 60.7 498.8 62.1 500.0 64.0C501.2 65.9 502.8 69.3 504.0 71.5C505.2 73.7 506.0 75.5 507.0 77.0C508.0 78.5 508.8 79.9 510.0 80.8C511.2 81.7 511.9 82.0 514.0 82.3C516.0 82.6 517.8 82.6 522.3 82.8C526.8 83.0 534.7 83.3 541.0 83.3C547.3 83.3 555.4 83.2 560.3 82.8C565.2 82.4 568.0 81.6 570.5 81.1C573.0 80.6 573.4 80.3 575.0 79.6C576.6 78.9 578.3 77.4 580.0 76.7C581.7 76.0 583.9 75.4 585.3 75.3C586.7 75.2 587.4 75.5 588.5 76.0C589.6 76.5 590.1 77.0 591.9 78.2C593.7 79.4 596.8 82.0 599.2 83.3C601.6 84.6 604.2 85.5 606.5 85.9C608.8 86.3 611.0 86.0 613.2 85.5C615.4 85.0 616.6 83.4 619.6 82.8C622.6 82.2 626.9 82.0 631.3 81.8C635.7 81.6 639.7 81.5 645.9 81.8C652.1 82.0 664.7 83.0 668.5 83.3" stroke="url(#g61)" stroke-width="6.6"/><path d="M570.0 33.0C570.4 34.7 571.5 40.1 572.5 43.0C573.5 45.9 574.3 47.8 575.8 50.4C577.3 53.0 580.0 56.8 581.7 58.5C583.4 60.2 584.2 59.8 586.1 60.4C588.0 61.0 590.7 60.7 593.4 62.1C596.1 63.5 598.8 66.4 602.1 68.7C605.4 71.0 610.7 74.6 613.2 76.0C615.8 77.4 616.4 77.0 617.4 77.0C618.4 77.0 619.1 76.0 619.5 75.8" stroke="url(#g63)" stroke-width="6.6"/><path d="M617.4 77.0C617.8 76.8 618.9 76.3 619.5 75.8C620.1 75.3 620.4 75.0 621.1 73.8C621.9 72.6 623.0 70.5 624.0 68.5C625.0 66.5 625.4 65.3 626.9 62.1C628.4 58.9 630.8 52.6 632.8 49.0C634.8 45.4 636.9 42.9 638.6 40.2C640.3 37.5 642.3 34.2 643.0 33.0" stroke="url(#g65)" stroke-width="6.6"/><path d="M514.0 49.0C514.8 49.8 517.1 52.5 518.5 53.5C519.9 54.5 521.1 54.8 522.5 54.8C523.9 54.8 525.4 54.4 527.0 53.5C528.6 52.6 531.2 50.2 532.0 49.5" stroke="url(#g69)" stroke-width="11.4"/><path d="M390.0 156.6C393.3 156.6 405.3 156.5 410.0 156.6C414.7 156.7 415.8 156.5 418.0 157.0C420.2 157.5 421.3 158.5 423.0 159.5C424.7 160.5 427.2 162.4 428.0 163.0" stroke="url(#g82)" stroke-width="14.1"/><path d="M498.0 156.6C502.1 156.6 515.3 156.6 522.5 156.6C529.7 156.6 535.1 156.5 541.0 156.6C546.9 156.7 553.7 156.3 558.0 157.0C562.3 157.7 564.0 159.1 566.8 160.7C569.6 162.3 572.3 164.6 575.0 166.8C577.7 169.0 581.7 172.8 583.0 174.0" stroke="url(#g98)" stroke-width="14.1"/><path d="M634.0 167.0C635.0 166.2 637.7 163.5 640.0 162.0C642.3 160.5 645.5 158.9 648.0 158.0C650.5 157.1 650.7 157.0 655.0 156.8C659.3 156.6 670.8 156.6 674.0 156.6" stroke="url(#g105)" stroke-width="14.1"/></g><g filter="url(#b1)" opacity="0.42"><path d="M419.0 55.6C419.7 55.8 421.8 56.2 423.0 57.0C424.2 57.8 424.9 58.9 426.0 60.5C427.1 62.1 428.4 64.6 429.4 66.5C430.4 68.4 431.0 70.2 432.0 72.0C433.0 73.8 434.3 76.0 435.3 77.4C436.3 78.8 437.1 79.6 438.0 80.3C438.9 81.0 439.2 81.4 440.5 81.8C441.8 82.2 444.1 82.3 445.5 82.8C446.9 83.3 447.8 84.2 449.0 85.0C450.2 85.8 450.7 86.5 452.8 87.7C454.9 89.0 458.9 91.4 461.5 92.5C464.1 93.6 466.4 94.0 468.1 94.2C469.8 94.4 470.4 94.0 471.5 93.5C472.6 93.0 473.6 92.4 474.7 91.3C475.8 90.2 476.8 88.7 478.0 87.0C479.2 85.3 480.7 83.3 482.0 81.1C483.3 78.9 484.4 76.5 486.0 73.8C487.6 71.1 489.9 67.5 491.7 65.0C493.5 62.5 495.3 60.5 497.0 59.0C498.7 57.5 501.2 56.5 502.0 56.0" stroke="url(#g54)" stroke-width="2.3"/><path d="M393.0 54.8C393.8 54.8 396.2 54.9 398.0 54.9C399.8 54.9 403.0 55.0 404.0 55.0" stroke="url(#g58)" stroke-width="5.8"/><path d="M395.5 83.3C397.0 83.2 402.2 83.1 404.6 82.6C407.0 82.1 408.5 81.2 410.0 80.5C411.5 79.8 412.1 79.3 413.4 78.2C414.7 77.1 416.6 75.5 418.0 74.0C419.4 72.5 420.9 71.1 422.1 69.4C423.3 67.7 424.2 65.9 425.0 64.0C425.8 62.1 426.7 59.0 427.0 58.0" stroke="url(#g59)" stroke-width="2.9"/><path d="M497.0 60.0C497.5 60.7 498.8 62.1 500.0 64.0C501.2 65.9 502.8 69.3 504.0 71.5C505.2 73.7 506.0 75.5 507.0 77.0C508.0 78.5 508.8 79.9 510.0 80.8C511.2 81.7 511.9 82.0 514.0 82.3C516.0 82.6 517.8 82.6 522.3 82.8C526.8 83.0 534.7 83.3 541.0 83.3C547.3 83.3 555.4 83.2 560.3 82.8C565.2 82.4 568.0 81.6 570.5 81.1C573.0 80.6 573.4 80.3 575.0 79.6C576.6 78.9 578.3 77.4 580.0 76.7C581.7 76.0 583.9 75.4 585.3 75.3C586.7 75.2 587.4 75.5 588.5 76.0C589.6 76.5 590.1 77.0 591.9 78.2C593.7 79.4 596.8 82.0 599.2 83.3C601.6 84.6 604.2 85.5 606.5 85.9C608.8 86.3 611.0 86.0 613.2 85.5C615.4 85.0 616.6 83.4 619.6 82.8C622.6 82.2 626.9 82.0 631.3 81.8C635.7 81.6 639.7 81.5 645.9 81.8C652.1 82.0 664.7 83.0 668.5 83.3" stroke="url(#g61)" stroke-width="2.7"/><path d="M570.0 33.0C570.4 34.7 571.5 40.1 572.5 43.0C573.5 45.9 574.3 47.8 575.8 50.4C577.3 53.0 580.0 56.8 581.7 58.5C583.4 60.2 584.2 59.8 586.1 60.4C588.0 61.0 590.7 60.7 593.4 62.1C596.1 63.5 598.8 66.4 602.1 68.7C605.4 71.0 610.7 74.6 613.2 76.0C615.8 77.4 616.4 77.0 617.4 77.0C618.4 77.0 619.1 76.0 619.5 75.8" stroke="url(#g63)" stroke-width="2.7"/><path d="M617.4 77.0C617.8 76.8 618.9 76.3 619.5 75.8C620.1 75.3 620.4 75.0 621.1 73.8C621.9 72.6 623.0 70.5 624.0 68.5C625.0 66.5 625.4 65.3 626.9 62.1C628.4 58.9 630.8 52.6 632.8 49.0C634.8 45.4 636.9 42.9 638.6 40.2C640.3 37.5 642.3 34.2 643.0 33.0" stroke="url(#g65)" stroke-width="2.7"/><path d="M514.0 49.0C514.8 49.8 517.1 52.5 518.5 53.5C519.9 54.5 521.1 54.8 522.5 54.8C523.9 54.8 525.4 54.4 527.0 53.5C528.6 52.6 531.2 50.2 532.0 49.5" stroke="url(#g69)" stroke-width="4.7"/><path d="M390.0 156.6C393.3 156.6 405.3 156.5 410.0 156.6C414.7 156.7 415.8 156.5 418.0 157.0C420.2 157.5 421.3 158.5 423.0 159.5C424.7 160.5 427.2 162.4 428.0 163.0" stroke="url(#g82)" stroke-width="5.8"/><path d="M498.0 156.6C502.1 156.6 515.3 156.6 522.5 156.6C529.7 156.6 535.1 156.5 541.0 156.6C546.9 156.7 553.7 156.3 558.0 157.0C562.3 157.7 564.0 159.1 566.8 160.7C569.6 162.3 572.3 164.6 575.0 166.8C577.7 169.0 581.7 172.8 583.0 174.0" stroke="url(#g98)" stroke-width="5.8"/><path d="M634.0 167.0C635.0 166.2 637.7 163.5 640.0 162.0C642.3 160.5 645.5 158.9 648.0 158.0C650.5 157.1 650.7 157.0 655.0 156.8C659.3 156.6 670.8 156.6 674.0 156.6" stroke="url(#g105)" stroke-width="5.8"/></g><g filter="url(#b04)"><path d="M419.0 55.6C419.7 55.8 421.8 56.2 423.0 57.0C424.2 57.8 424.9 58.9 426.0 60.5C427.1 62.1 428.4 64.6 429.4 66.5C430.4 68.4 431.0 70.2 432.0 72.0C433.0 73.8 434.3 76.0 435.3 77.4C436.3 78.8 437.1 79.6 438.0 80.3C438.9 81.0 439.2 81.4 440.5 81.8C441.8 82.2 444.1 82.3 445.5 82.8C446.9 83.3 447.8 84.2 449.0 85.0C450.2 85.8 450.7 86.5 452.8 87.7C454.9 89.0 458.9 91.4 461.5 92.5C464.1 93.6 466.4 94.0 468.1 94.2C469.8 94.4 470.4 94.0 471.5 93.5C472.6 93.0 473.6 92.4 474.7 91.3C475.8 90.2 476.8 88.7 478.0 87.0C479.2 85.3 480.7 83.3 482.0 81.1C483.3 78.9 484.4 76.5 486.0 73.8C487.6 71.1 489.9 67.5 491.7 65.0C493.5 62.5 495.3 60.5 497.0 59.0C498.7 57.5 501.2 56.5 502.0 56.0" stroke="url(#g54)" stroke-width="1.3"/><path d="M393.0 54.8C393.8 54.8 396.2 54.9 398.0 54.9C399.8 54.9 403.0 55.0 404.0 55.0" stroke="url(#g58)" stroke-width="3.2"/><path d="M395.5 83.3C397.0 83.2 402.2 83.1 404.6 82.6C407.0 82.1 408.5 81.2 410.0 80.5C411.5 79.8 412.1 79.3 413.4 78.2C414.7 77.1 416.6 75.5 418.0 74.0C419.4 72.5 420.9 71.1 422.1 69.4C423.3 67.7 424.2 65.9 425.0 64.0C425.8 62.1 426.7 59.0 427.0 58.0" stroke="url(#g59)" stroke-width="1.6"/><path d="M497.0 60.0C497.5 60.7 498.8 62.1 500.0 64.0C501.2 65.9 502.8 69.3 504.0 71.5C505.2 73.7 506.0 75.5 507.0 77.0C508.0 78.5 508.8 79.9 510.0 80.8C511.2 81.7 511.9 82.0 514.0 82.3C516.0 82.6 517.8 82.6 522.3 82.8C526.8 83.0 534.7 83.3 541.0 83.3C547.3 83.3 555.4 83.2 560.3 82.8C565.2 82.4 568.0 81.6 570.5 81.1C573.0 80.6 573.4 80.3 575.0 79.6C576.6 78.9 578.3 77.4 580.0 76.7C581.7 76.0 583.9 75.4 585.3 75.3C586.7 75.2 587.4 75.5 588.5 76.0C589.6 76.5 590.1 77.0 591.9 78.2C593.7 79.4 596.8 82.0 599.2 83.3C601.6 84.6 604.2 85.5 606.5 85.9C608.8 86.3 611.0 86.0 613.2 85.5C615.4 85.0 616.6 83.4 619.6 82.8C622.6 82.2 626.9 82.0 631.3 81.8C635.7 81.6 639.7 81.5 645.9 81.8C652.1 82.0 664.7 83.0 668.5 83.3" stroke="url(#g61)" stroke-width="1.5"/><path d="M570.0 33.0C570.4 34.7 571.5 40.1 572.5 43.0C573.5 45.9 574.3 47.8 575.8 50.4C577.3 53.0 580.0 56.8 581.7 58.5C583.4 60.2 584.2 59.8 586.1 60.4C588.0 61.0 590.7 60.7 593.4 62.1C596.1 63.5 598.8 66.4 602.1 68.7C605.4 71.0 610.7 74.6 613.2 76.0C615.8 77.4 616.4 77.0 617.4 77.0C618.4 77.0 619.1 76.0 619.5 75.8" stroke="url(#g63)" stroke-width="1.5"/><path d="M617.4 77.0C617.8 76.8 618.9 76.3 619.5 75.8C620.1 75.3 620.4 75.0 621.1 73.8C621.9 72.6 623.0 70.5 624.0 68.5C625.0 66.5 625.4 65.3 626.9 62.1C628.4 58.9 630.8 52.6 632.8 49.0C634.8 45.4 636.9 42.9 638.6 40.2C640.3 37.5 642.3 34.2 643.0 33.0" stroke="url(#g65)" stroke-width="1.5"/><path d="M514.0 49.0C514.8 49.8 517.1 52.5 518.5 53.5C519.9 54.5 521.1 54.8 522.5 54.8C523.9 54.8 525.4 54.4 527.0 53.5C528.6 52.6 531.2 50.2 532.0 49.5" stroke="url(#g69)" stroke-width="2.6"/><path d="M390.0 156.6C393.3 156.6 405.3 156.5 410.0 156.6C414.7 156.7 415.8 156.5 418.0 157.0C420.2 157.5 421.3 158.5 423.0 159.5C424.7 160.5 427.2 162.4 428.0 163.0" stroke="url(#g82)" stroke-width="3.2"/><path d="M498.0 156.6C502.1 156.6 515.3 156.6 522.5 156.6C529.7 156.6 535.1 156.5 541.0 156.6C546.9 156.7 553.7 156.3 558.0 157.0C562.3 157.7 564.0 159.1 566.8 160.7C569.6 162.3 572.3 164.6 575.0 166.8C577.7 169.0 581.7 172.8 583.0 174.0" stroke="url(#g98)" stroke-width="3.2"/><path d="M634.0 167.0C635.0 166.2 637.7 163.5 640.0 162.0C642.3 160.5 645.5 158.9 648.0 158.0C650.5 157.1 650.7 157.0 655.0 156.8C659.3 156.6 670.8 156.6 674.0 156.6" stroke="url(#g105)" stroke-width="3.2"/></g></g></g><line x1="105.3" y1="34.5" x2="105.3" y2="235.0" stroke="#f0ecec" stroke-width="1.3"/><line x1="132.6" y1="34.5" x2="132.6" y2="235.0" stroke="#f0ecec" stroke-width="1.3"/><line x1="187.3" y1="34.5" x2="187.3" y2="235.0" stroke="#f0ecec" stroke-width="1.3"/><line x1="205.6" y1="34.5" x2="205.6" y2="235.0" stroke="#f0ecec" stroke-width="1.3"/><line x1="250.7" y1="34.5" x2="250.7" y2="235.0" stroke="#f0ecec" stroke-width="1.3"/><line x1="277.8" y1="34.5" x2="277.8" y2="235.0" stroke="#f0ecec" stroke-width="1.3"/><line x1="62.0" y1="90.8" x2="329.5" y2="90.8" stroke="#fff" stroke-width="1" stroke-dasharray="0.9 1.65" opacity=".92"/><ellipse cx="69.5" cy="90.8" rx="0.8" ry="1.4" fill="#fff"/><ellipse cx="81.5" cy="90.8" rx="0.8" ry="1.2" fill="#fff"/><ellipse cx="93.5" cy="90.8" rx="1.0" ry="1.4" fill="#fff"/><ellipse cx="105.5" cy="90.8" rx="0.8" ry="1.4" fill="#fff"/><ellipse cx="110.5" cy="90.8" rx="1.0" ry="1.2" fill="#fff"/><ellipse cx="122.5" cy="90.8" rx="0.8" ry="1.0" fill="#fff"/><ellipse cx="132.0" cy="90.8" rx="1.2" ry="1.4" fill="#fff"/><ellipse cx="141.5" cy="90.8" rx="1.0" ry="1.4" fill="#fff"/><ellipse cx="148.0" cy="90.8" rx="0.8" ry="1.4" fill="#fff"/><ellipse cx="154.5" cy="90.8" rx="1.2" ry="1.2" fill="#fff"/><ellipse cx="159.5" cy="90.8" rx="1.2" ry="1.0" fill="#fff"/><ellipse cx="166.0" cy="90.8" rx="1.2" ry="1.0" fill="#fff"/><ellipse cx="174.0" cy="90.8" rx="0.8" ry="1.2" fill="#fff"/><ellipse cx="183.5" cy="90.8" rx="1.2" ry="1.4" fill="#fff"/><ellipse cx="193.0" cy="90.8" rx="1.2" ry="1.2" fill="#fff"/><ellipse cx="202.5" cy="90.8" rx="1.2" ry="1.4" fill="#fff"/><ellipse cx="212.0" cy="90.8" rx="0.8" ry="1.2" fill="#fff"/><ellipse cx="217.0" cy="90.8" rx="0.8" ry="1.0" fill="#fff"/><ellipse cx="226.5" cy="90.8" rx="0.8" ry="1.2" fill="#fff"/><ellipse cx="236.0" cy="90.8" rx="1.2" ry="1.2" fill="#fff"/><ellipse cx="245.5" cy="90.8" rx="1.2" ry="1.2" fill="#fff"/><ellipse cx="257.5" cy="90.8" rx="1.0" ry="1.4" fill="#fff"/><ellipse cx="269.5" cy="90.8" rx="1.0" ry="1.4" fill="#fff"/><ellipse cx="276.0" cy="90.8" rx="1.0" ry="1.4" fill="#fff"/><ellipse cx="281.0" cy="90.8" rx="1.0" ry="1.4" fill="#fff"/><ellipse cx="287.5" cy="90.8" rx="1.2" ry="1.2" fill="#fff"/><ellipse cx="299.5" cy="90.8" rx="1.2" ry="1.4" fill="#fff"/><ellipse cx="304.5" cy="90.8" rx="1.2" ry="1.4" fill="#fff"/><ellipse cx="311.0" cy="90.8" rx="1.2" ry="1.4" fill="#fff"/><line x1="440.5" y1="34.5" x2="440.5" y2="235.0" stroke="#f0ecec" stroke-width="1.3"/><line x1="468.0" y1="34.5" x2="468.0" y2="235.0" stroke="#f0ecec" stroke-width="1.3"/><line x1="522.6" y1="34.5" x2="522.6" y2="235.0" stroke="#f0ecec" stroke-width="1.3"/><line x1="540.8" y1="34.5" x2="540.8" y2="235.0" stroke="#f0ecec" stroke-width="1.3"/><line x1="586.1" y1="34.5" x2="586.1" y2="235.0" stroke="#f0ecec" stroke-width="1.3"/><line x1="613.3" y1="34.5" x2="613.3" y2="235.0" stroke="#f0ecec" stroke-width="1.3"/><line x1="397.8" y1="90.8" x2="665.3" y2="90.8" stroke="#fff" stroke-width="1" stroke-dasharray="0.9 1.65" opacity=".92"/><ellipse cx="405.3" cy="90.8" rx="1.0" ry="1.0" fill="#fff"/><ellipse cx="410.3" cy="90.8" rx="1.0" ry="1.4" fill="#fff"/><ellipse cx="419.8" cy="90.8" rx="0.8" ry="1.2" fill="#fff"/><ellipse cx="424.8" cy="90.8" rx="1.0" ry="1.0" fill="#fff"/><ellipse cx="429.8" cy="90.8" rx="1.0" ry="1.2" fill="#fff"/><ellipse cx="439.3" cy="90.8" rx="0.8" ry="1.0" fill="#fff"/><ellipse cx="451.3" cy="90.8" rx="1.2" ry="1.0" fill="#fff"/><ellipse cx="460.8" cy="90.8" rx="1.2" ry="1.4" fill="#fff"/><ellipse cx="468.8" cy="90.8" rx="1.2" ry="1.2" fill="#fff"/><ellipse cx="480.8" cy="90.8" rx="0.8" ry="1.0" fill="#fff"/><ellipse cx="488.8" cy="90.8" rx="0.8" ry="1.0" fill="#fff"/><ellipse cx="493.8" cy="90.8" rx="1.2" ry="1.4" fill="#fff"/><ellipse cx="498.8" cy="90.8" rx="0.8" ry="1.2" fill="#fff"/><ellipse cx="506.8" cy="90.8" rx="1.2" ry="1.2" fill="#fff"/><ellipse cx="513.3" cy="90.8" rx="1.2" ry="1.0" fill="#fff"/><ellipse cx="521.3" cy="90.8" rx="1.0" ry="1.2" fill="#fff"/><ellipse cx="527.8" cy="90.8" rx="1.0" ry="1.2" fill="#fff"/><ellipse cx="537.3" cy="90.8" rx="1.2" ry="1.2" fill="#fff"/><ellipse cx="549.3" cy="90.8" rx="1.2" ry="1.4" fill="#fff"/><ellipse cx="554.3" cy="90.8" rx="1.2" ry="1.4" fill="#fff"/><ellipse cx="562.3" cy="90.8" rx="1.0" ry="1.4" fill="#fff"/><ellipse cx="568.8" cy="90.8" rx="1.0" ry="1.2" fill="#fff"/><ellipse cx="576.8" cy="90.8" rx="1.2" ry="1.2" fill="#fff"/><ellipse cx="588.8" cy="90.8" rx="1.0" ry="1.0" fill="#fff"/><ellipse cx="598.3" cy="90.8" rx="1.2" ry="1.2" fill="#fff"/><ellipse cx="603.3" cy="90.8" rx="1.0" ry="1.4" fill="#fff"/><ellipse cx="615.3" cy="90.8" rx="1.2" ry="1.0" fill="#fff"/><ellipse cx="620.3" cy="90.8" rx="1.2" ry="1.4" fill="#fff"/><ellipse cx="628.3" cy="90.8" rx="1.0" ry="1.2" fill="#fff"/><ellipse cx="636.3" cy="90.8" rx="1.2" ry="1.4" fill="#fff"/><ellipse cx="644.3" cy="90.8" rx="1.2" ry="1.2" fill="#fff"/><ellipse cx="649.3" cy="90.8" rx="1.2" ry="1.0" fill="#fff"/><rect x="169.1" y="67.4" width="26.3" height="23.2" fill="#fff" fill-opacity=".55"/><rect x="169.1" y="101.4" width="26.3" height="23.2" fill="#fff" fill-opacity=".55"/><rect x="169.1" y="163.5" width="26.3" height="23.2" fill="#fff" fill-opacity=".55"/><rect x="504.1" y="71.4" width="26.5" height="23.2" fill="#fff" fill-opacity=".55"/><rect x="504.1" y="147.7" width="26.5" height="23.2" fill="#fff" fill-opacity=".55"/><rect x="59.5" y="34.5" width="273.0" height="200.5" fill="none" stroke="#000" stroke-width="1.5"/><line x1="59.5" y1="163.2" x2="70.5" y2="163.2" stroke="#000" stroke-width="1.2"/><line x1="321.5" y1="163.2" x2="332.5" y2="163.2" stroke="#000" stroke-width="1.2"/><rect x="395.3" y="34.5" width="272.4" height="200.5" fill="none" stroke="#000" stroke-width="1.5"/><line x1="395.3" y1="163.2" x2="406.3" y2="163.2" stroke="#000" stroke-width="1.2"/><line x1="656.7" y1="163.2" x2="667.7" y2="163.2" stroke="#000" stroke-width="1.2"/><text x="169.3" y="82.0" class="m" font-size="19.5" text-anchor="start">U<tspan class="r" font-size="14.625" dy="3.5">3</tspan></text><text x="169.3" y="116.2" class="m" font-size="19.5" text-anchor="start">U<tspan class="r" font-size="14.625" dy="3.5">2</tspan></text><text x="169.3" y="178.3" class="m" font-size="19.5" text-anchor="start">U<tspan class="r" font-size="14.625" dy="3.5">1</tspan></text><text x="504.4" y="86.0" class="m" font-size="19.5" text-anchor="start">D<tspan class="r" font-size="14.625" dy="3.5">2</tspan></text><text x="504.4" y="162.1" class="m" font-size="19.5" text-anchor="start">D<tspan class="r" font-size="14.625" dy="3.5">1</tspan></text><text x="28" y="20.3" class="b">a</text><text x="363" y="20.3" class="b">b</text><text x="190.5" y="26.5" class="t" text-anchor="middle">Spin-up</text><text x="530" y="26.5" class="t" text-anchor="middle">Spin-down</text><text x="196" y="274" class="t" text-anchor="middle">Electron momentum</text><text x="531" y="274" class="t" text-anchor="middle">Electron momentum</text><text transform="translate(16.3,133) rotate(-90)" class="t" text-anchor="middle">Energy (eV)</text><text x="54.9" y="98.6" class="t" text-anchor="end">0</text><text x="54.9" y="170.2" class="t" text-anchor="end">-0.5</text><text x="54.9" y="242" class="t" text-anchor="end">-1.0</text><text x="390.7" y="98.6" class="t" text-anchor="end">0</text><text x="390.7" y="170.2" class="t" text-anchor="end">-0.5</text><text x="390.7" y="242" class="t" text-anchor="end">-1.0</text><text x="59.7" y="251.9" class="t" text-anchor="middle">Γ</text><text x="104.5" y="251.9" class="t" text-anchor="middle">M</text><text x="131.8" y="251.9" class="t" text-anchor="middle">K</text><text x="186.5" y="251.9" class="t" text-anchor="middle">Γ</text><text x="204.8" y="251.9" class="t" text-anchor="middle">A</text><text x="249.9" y="251.9" class="t" text-anchor="middle">L</text><text x="277.0" y="251.9" class="t" text-anchor="middle">H</text><text x="331.7" y="251.9" class="t" text-anchor="middle">A</text><text x="395.5" y="251.9" class="t" text-anchor="middle">Γ</text><text x="439.7" y="251.9" class="t" text-anchor="middle">M</text><text x="467.2" y="251.9" class="t" text-anchor="middle">K</text><text x="521.8" y="251.9" class="t" text-anchor="middle">Γ</text><text x="540.0" y="251.9" class="t" text-anchor="middle">A</text><text x="585.3" y="251.9" class="t" text-anchor="middle">L</text><text x="612.5" y="251.9" class="t" text-anchor="middle">H</text><text x="666.9" y="251.9" class="t" text-anchor="middle">A</text><text x="0.5" y="318.3" class="b">c</text><text y="326.3" class="m" font-size="19.5"><tspan x="34.5">q</tspan><tspan class="r" x="50.1">=</tspan><tspan class="r" x="71.8">0</tspan></text><line x1="31.9" y1="478.3" x2="31.9" y2="338.5" stroke="#4a4a4a" stroke-width="1.20" /><path d="M31.9 334.5 l-2.6 6.5 h5.2z" fill="#111"/><line x1="31.3" y1="478.2" x2="237.5" y2="478.2" stroke="#4a4a4a" stroke-width="1.20" /><path d="M241.5 478.2 l-6.5 -2.6 v5.2z" fill="#111"/><text transform="translate(17.9,405.2) rotate(-90)" class="t" text-anchor="middle">Energy</text><text x="18" y="497.2" class="t">Electron momentum (<tspan font-style="italic">k</tspan>)</text><line x1="33.0" y1="403.6" x2="237.0" y2="403.6" stroke="#333" stroke-width="0.90" stroke-dasharray="3.4 2.4"/><path d="M37 410.8 H127.2 V397" fill="none" stroke="#333" stroke-width="1"/><path d="M123.8 467.8 H214.3 V340" fill="none" stroke="#333" stroke-width="1"/><path d="M37.0 339.0C38.5 339.6 42.7 340.7 46.0 342.5C49.3 344.3 52.5 346.9 56.9 350.0C61.2 353.1 67.3 357.4 72.1 361.4C76.8 365.4 81.6 370.4 85.4 373.8C89.2 377.2 91.8 379.1 95.0 381.5C98.2 383.9 101.7 386.3 104.4 388.0C107.1 389.7 108.8 390.7 111.0 391.8C113.2 392.9 115.0 393.8 117.7 394.6C120.4 395.4 123.7 396.6 127.2 396.5C130.8 396.4 135.1 395.3 139.0 393.7C142.9 392.1 147.2 389.2 150.4 387.0C153.6 384.8 155.2 383.2 158.0 380.5C160.8 377.8 164.2 374.1 167.4 370.9C170.6 367.7 173.8 364.5 177.0 361.5C180.2 358.5 183.6 355.3 186.4 352.9C189.2 350.5 191.5 348.9 194.0 347.3C196.5 345.7 199.3 344.4 201.6 343.4C203.9 342.3 205.9 341.6 208.0 341.0C210.1 340.4 212.6 339.9 214.3 339.6C216.0 339.3 217.4 339.3 218.0 339.2" fill="none" stroke="#1272c8" stroke-width="2.3"/><path d="M37.0 410.5C37.8 410.7 39.8 410.9 41.5 411.5C43.2 412.1 45.0 412.8 47.4 414.2C49.8 415.6 52.8 417.6 56.0 420.0C59.2 422.4 63.1 425.5 66.4 428.5C69.7 431.5 72.8 434.9 76.0 438.0C79.2 441.1 82.2 444.6 85.4 447.4C88.6 450.2 91.8 452.8 95.0 455.0C98.2 457.2 101.7 459.2 104.4 460.7C107.1 462.2 108.8 462.9 111.0 463.8C113.2 464.7 115.6 465.4 117.7 465.9C119.8 466.4 121.6 466.7 123.8 466.8C126.0 466.9 128.5 466.9 131.0 466.5C133.5 466.1 136.2 465.6 139.0 464.5C141.8 463.4 144.8 461.9 148.0 460.0C151.2 458.1 154.8 455.8 158.0 453.1C161.2 450.4 163.8 447.1 167.0 444.0C170.2 440.9 173.7 437.2 176.9 434.2C180.1 431.2 182.8 428.7 186.0 426.0C189.2 423.3 193.1 420.0 195.9 418.0C198.7 416.0 200.8 415.1 203.0 414.0C205.2 412.9 207.4 412.0 209.2 411.4C211.0 410.8 212.4 410.5 214.0 410.2C215.6 409.9 217.9 409.7 218.7 409.6" fill="none" stroke="#0e9a1c" stroke-width="2.5"/><line x1="37.0" y1="410.2" x2="37.0" y2="339.0" stroke="url(#ag1)" stroke-width="1.60"/><path transform="translate(37.0 347.8) rotate(-90.0) scale(1.12)" d="M0.6 0 L-6.8 -4.5 L-3.6 0 L-6.8 4.5z" fill="#1f9a66"/><line x1="37.0" y1="410.2" x2="127.2" y2="396.5" stroke="url(#ag2)" stroke-width="1.10"/><path transform="translate(88.1 402.4) rotate(-8.6) scale(1.12)" d="M0.6 0 L-6.8 -4.5 L-3.6 0 L-6.8 4.5z" fill="#149876"/><line x1="123.8" y1="466.8" x2="214.3" y2="339.6" stroke="url(#ag3)" stroke-width="1.10"/><path transform="translate(177.0 392.0) rotate(-54.6) scale(1.12)" d="M0.6 0 L-6.8 -4.5 L-3.6 0 L-6.8 4.5z" fill="#14987a"/><rect x="34.0" y="361.2" width="46.8" height="24.0" fill="#fff"/><text x="34.9" y="376.5" class="r" font-size="19.5">Δ<tspan class="m">E</tspan><tspan class="m" font-size="14.43" dy="3.3">ex</tspan></text><rect x="110.5" y="366.0" width="40.0" height="26.3" fill="#fff"/><text x="111.5" y="383.3" class="r" font-size="19.5">Δ<tspan class="m">E</tspan><tspan class="r" font-size="14.43" dy="3.3">1</tspan></text><rect x="198.0" y="374.5" width="36.0" height="24.5" fill="#fff"/><text x="199.3" y="389.9" class="r" font-size="19.5">Δ<tspan class="m">E</tspan><tspan class="r" font-size="14.43" dy="3.3">2</tspan></text><rect x="78.0" y="413.5" width="22.0" height="17.0" fill="#fff"/><text x="79.3" y="424.7" class="m" font-size="19.5" text-anchor="start">q<tspan class="r" font-size="14.43" dy="3.3">1</tspan></text><rect x="171.0" y="456.0" width="23.0" height="17.0" fill="#fff"/><text x="172.2" y="467.4" class="m" font-size="19.5" text-anchor="start">q<tspan class="r" font-size="14.43" dy="3.3">1</tspan></text><ellipse cx="37.0" cy="339.0" rx="2.9" ry="2.4" fill="#0a8a1c"/><ellipse cx="127.2" cy="396.5" rx="2.9" ry="2.4" fill="#0a8a1c"/><ellipse cx="214.3" cy="339.6" rx="2.9" ry="2.4" fill="#0a8a1c"/><circle cx="37.0" cy="410.2" r="2.4" fill="#fff" stroke="#0e9a1c" stroke-width="1.1"/><circle cx="123.8" cy="466.8" r="2.4" fill="#fff" stroke="#0e9a1c" stroke-width="1.1"/><rect x="229.8" y="330.8" width="3.4" height="5.8" fill="#0a4cec"/><circle cx="231.5" cy="340.2" r="5.7" fill="url(#sb)"/><path d="M231.5 350.0 l-4.1 -4.3 h8.2z" fill="#0a4cec"/><rect x="229.8" y="412.9" width="3.4" height="5.6" fill="#076034"/><circle cx="231.5" cy="409.5" r="5.7" fill="url(#sg)"/><path d="M231.5 400.3 l-4.3 4.3 h8.6z" fill="#055228"/><line x1="32.1" y1="658.6" x2="32.1" y2="519.6" stroke="#4a4a4a" stroke-width="1.20" /><path d="M32.1 515.6 l-2.6 6.5 h5.2z" fill="#111"/><line x1="31.5" y1="658.5" x2="237.5" y2="658.5" stroke="#4a4a4a" stroke-width="1.20" /><path d="M241.5 658.5 l-6.5 -2.6 v5.2z" fill="#111"/><text transform="translate(17.9,574.7) rotate(-90)" class="t" text-anchor="middle">Energy</text><text x="18" y="676.5" class="t">Electron momentum (<tspan font-style="italic">k</tspan>)</text><line x1="33.0" y1="583.2" x2="237.0" y2="583.2" stroke="#222" stroke-width="0.90" stroke-dasharray="3.4 2.4"/><path d="M37 613.6 H125.6 V556" fill="none" stroke="#333" stroke-width="1"/><path d="M124.2 626.3 H214.3 V543" fill="none" stroke="#333" stroke-width="1"/><path d="M37.4 542.4C39.0 542.5 43.8 542.9 47.0 543.2C50.2 543.6 53.1 543.8 56.9 544.5C60.7 545.2 65.2 546.2 70.0 547.2C74.8 548.2 80.4 549.5 85.4 550.5C90.4 551.5 95.2 552.7 100.0 553.5C104.8 554.3 109.6 554.9 113.9 555.3C118.2 555.6 121.8 555.7 125.6 555.6C129.4 555.5 133.2 555.3 137.0 554.9C140.8 554.5 144.3 554.1 148.5 553.4C152.7 552.7 157.3 551.8 162.0 550.8C166.7 549.8 172.4 548.6 176.9 547.7C181.4 546.8 185.2 546.0 189.0 545.4C192.8 544.8 195.5 544.4 199.7 543.9C203.9 543.4 211.1 542.7 214.3 542.4C217.5 542.1 218.0 542.1 218.7 542.1" fill="none" stroke="#1272c8" stroke-width="2.3"/><path d="M37.0 612.8C38.7 612.9 43.7 613.2 47.0 613.6C50.3 614.0 53.1 614.4 56.9 615.1C60.7 615.8 65.2 616.8 70.0 617.8C74.8 618.8 80.4 619.9 85.4 620.8C90.4 621.7 95.2 622.7 100.0 623.4C104.8 624.1 109.9 624.6 113.9 625.0C117.9 625.4 120.5 625.6 124.2 625.6C127.9 625.6 131.9 625.4 136.0 625.2C140.1 625.0 144.2 624.9 148.5 624.2C152.8 623.5 157.3 622.1 162.0 621.0C166.7 619.9 172.4 618.4 176.9 617.4C181.4 616.4 185.2 615.6 189.0 615.0C192.8 614.4 196.2 614.0 199.7 613.7C203.2 613.4 206.8 613.1 210.0 613.0C213.2 612.9 217.2 612.8 218.7 612.8" fill="none" stroke="#0e9a1c" stroke-width="2.5"/><line x1="37.0" y1="612.8" x2="37.4" y2="542.4" stroke="url(#ag4)" stroke-width="1.60"/><path transform="translate(37.3 554.7) rotate(-89.7) scale(1.12)" d="M0.6 0 L-6.8 -4.5 L-3.6 0 L-6.8 4.5z" fill="#1f9a66"/><line x1="37.0" y1="612.8" x2="125.6" y2="555.5" stroke="url(#ag5)" stroke-width="1.10"/><path transform="translate(83.5 582.7) rotate(-32.9) scale(1.12)" d="M0.6 0 L-6.8 -4.5 L-3.6 0 L-6.8 4.5z" fill="#149970"/><line x1="124.2" y1="625.5" x2="214.3" y2="542.4" stroke="url(#ag6)" stroke-width="1.10"/><path transform="translate(166.1 586.9) rotate(-42.7) scale(1.12)" d="M0.6 0 L-6.8 -4.5 L-3.6 0 L-6.8 4.5z" fill="#159a67"/><rect x="111.5" y="572.5" width="36.0" height="26.0" fill="#fff"/><text x="112.9" y="590.5" class="r" font-size="19.5">Δ<tspan class="m">E</tspan><tspan class="r" font-size="14.43" dy="3.3">1</tspan></text><rect x="198.0" y="564.0" width="36.0" height="24.5" fill="#fff"/><text x="199.3" y="580.0" class="r" font-size="19.5">Δ<tspan class="m">E</tspan><tspan class="r" font-size="14.43" dy="3.3">2</tspan></text><rect x="78.0" y="598.0" width="22.0" height="16.5" fill="#fff"/><text x="79.3" y="609.4" class="m" font-size="19.5" text-anchor="start">q<tspan class="r" font-size="14.43" dy="3.3">1</tspan></text><rect x="170.5" y="628.5" width="21.0" height="14.0" fill="#fff"/><text x="171.2" y="640.3" class="m" font-size="19.5" text-anchor="start">q<tspan class="r" font-size="14.43" dy="3.3">1</tspan></text><ellipse cx="37.4" cy="542.4" rx="2.9" ry="2.4" fill="#0a8a1c"/><ellipse cx="125.6" cy="555.5" rx="2.9" ry="2.4" fill="#0a8a1c"/><ellipse cx="214.3" cy="542.4" rx="2.9" ry="2.4" fill="#0a8a1c"/><circle cx="37.0" cy="612.8" r="2.4" fill="#fff" stroke="#0e9a1c" stroke-width="1.1"/><circle cx="124.2" cy="625.5" r="2.4" fill="#fff" stroke="#0e9a1c" stroke-width="1.1"/><rect x="227.1" y="534.0" width="3.4" height="5.8" fill="#0a4cec"/><circle cx="228.8" cy="543.4" r="5.7" fill="url(#sb)"/><path d="M228.8 553.2 l-4.1 -4.3 h8.2z" fill="#0a4cec"/><rect x="227.1" y="616.6" width="3.4" height="5.6" fill="#076034"/><circle cx="228.8" cy="613.2" r="5.7" fill="url(#sg)"/><path d="M228.8 604.0 l-4.3 4.3 h8.6z" fill="#055228"/><text x="264" y="318.3" class="b">d</text><path d="M294.0 407.0C300.0 404.6 319.0 396.9 330.0 392.5C341.0 388.1 350.8 384.2 360.0 380.5C369.2 376.8 377.7 373.4 385.0 370.3C392.3 367.2 397.7 364.4 404.0 362.1C410.3 359.8 416.7 357.9 423.0 356.4C429.3 354.9 434.9 354.0 441.9 353.2C448.8 352.4 457.0 351.8 464.7 351.5C472.4 351.2 484.0 351.3 487.9 351.3 L487.9 464.0C484.0 463.9 472.4 464.0 464.7 463.6C457.0 463.2 448.8 462.6 441.9 461.7C434.9 460.8 429.3 459.5 423.0 457.9C416.7 456.3 410.3 454.3 404.0 452.2C397.7 450.1 392.6 448.5 385.0 445.5C377.4 442.5 367.6 438.0 358.4 434.1C349.2 430.2 340.7 426.5 330.0 422.0C319.3 417.5 300.0 409.5 294.0 407.0 Z" fill="url(#cg1)"/><line x1="293.5" y1="478.8" x2="293.5" y2="338.5" stroke="#666" stroke-width="1.20" /><path d="M293.5 334.5 l-2.6 6.5 h5.2z" fill="#111"/><line x1="293.0" y1="478.2" x2="497.7" y2="478.2" stroke="#444" stroke-width="1.20" /><path d="M501.7 478.2 l-6.5 -2.6 v5.2z" fill="#111"/><path d="M293.5 478.0C295.1 477.9 299.9 477.7 303.0 477.3C306.1 476.9 309.4 476.4 311.9 475.8C314.4 475.2 316.1 474.6 318.0 473.8C319.9 473.0 321.3 472.4 323.3 471.1C325.3 469.8 327.8 467.9 330.0 466.0C332.2 464.1 334.4 461.9 336.6 459.7C338.8 457.4 340.8 455.2 343.0 452.5C345.2 449.8 347.3 446.8 349.9 443.6C352.5 440.4 357.0 434.9 358.4 433.1" fill="none" stroke="#d2712c" stroke-width="1.3"/><path d="M358.4 433.1C359.3 431.8 362.2 427.9 364.0 425.5C365.8 423.1 366.9 421.2 368.9 418.9C370.9 416.6 373.3 413.9 376.0 411.5C378.7 409.1 383.5 405.8 385.0 404.7" fill="none" stroke="#d2712c" stroke-width="1.3" stroke-dasharray="4 2.6"/><text transform="translate(282.4,401) rotate(-90)" class="t" text-anchor="middle">Energy transfer</text><text x="288.3" y="496.8" class="t">Momentum transfer (<tspan font-style="italic">q</tspan>)</text><text x="381" y="401.6" class="t">Stoner</text><text x="381.5" y="423.4" class="t">continuum</text><circle cx="486.6" cy="351.8" r="2.7" fill="#c4c4c4" stroke="#444" stroke-width="1"/><circle cx="486.6" cy="463.6" r="2.7" fill="#c4c4c4" stroke="#444" stroke-width="1"/><text x="473.3" y="335.5" class="m" font-size="19.5" text-anchor="start">q<tspan class="r" font-size="14.43" dy="3.3">1</tspan></text><text x="493.3" y="351.3" class="r" font-size="19.5">Δ<tspan class="m">E</tspan><tspan class="r" font-size="14.43" dy="3.3">2</tspan></text><text x="493.3" y="464.5" class="r" font-size="19.5">Δ<tspan class="m">E</tspan><tspan class="r" font-size="14.43" dy="3.3">1</tspan></text><path d="M294.5 585.7C300.4 585.3 319.1 584.0 330.0 583.2C340.9 582.4 350.8 581.6 360.0 581.0C369.2 580.4 377.7 580.0 385.0 579.3C392.3 578.6 397.7 577.4 404.0 576.8C410.3 576.2 415.3 575.8 423.0 575.5C430.7 575.2 439.2 575.1 450.0 575.0C460.8 574.9 481.2 574.9 487.5 574.9 L487.5 596.8C481.2 596.8 460.8 596.8 450.0 596.7C439.2 596.6 430.7 596.5 423.0 596.2C415.3 595.9 410.3 595.5 404.0 594.9C397.7 594.2 392.3 593.0 385.0 592.3C377.7 591.6 369.2 591.2 360.0 590.5C350.8 589.8 340.9 589.1 330.0 588.3C319.1 587.5 300.4 586.1 294.5 585.7 Z" fill="url(#cg2)"/><line x1="293.5" y1="659.0" x2="293.5" y2="520.0" stroke="#666" stroke-width="1.20" /><path d="M293.5 516.0 l-2.6 6.5 h5.2z" fill="#111"/><line x1="293.0" y1="658.4" x2="497.4" y2="658.4" stroke="#444" stroke-width="1.20" /><path d="M501.4 658.4 l-6.5 -2.6 v5.2z" fill="#111"/><path d="M293.5 658.2C295.1 658.1 299.9 657.9 303.0 657.6C306.1 657.3 309.2 657.0 311.9 656.5C314.6 656.0 316.8 655.2 319.0 654.3C321.2 653.3 322.9 652.4 325.2 650.8C327.5 649.2 330.5 646.9 333.0 644.5C335.5 642.1 337.6 639.9 340.4 636.6C343.2 633.3 346.8 628.6 350.0 624.5C353.2 620.4 356.2 615.9 359.4 611.9C362.6 607.9 365.8 604.1 369.0 600.5C372.2 596.9 376.8 591.8 378.4 590.1" fill="none" stroke="#d2712c" stroke-width="1.3"/><path d="M378.4 590.1 L385 585.2" fill="none" stroke="#d2712c" stroke-width="1.3" stroke-dasharray="3.5 2.2"/><text transform="translate(282.4,584) rotate(-90)" class="t" text-anchor="middle">Energy transfer</text><text x="288.3" y="676.5" class="t">Momentum transfer (<tspan font-style="italic">q</tspan>)</text><text x="349.5" y="646.1" class="t">Spin-wave</text><circle cx="486.9" cy="575.3" r="2.7" fill="#c4c4c4" stroke="#444" stroke-width="1"/><circle cx="486.9" cy="596.4" r="2.7" fill="#c4c4c4" stroke="#444" stroke-width="1"/><text x="493.3" y="570.2" class="r" font-size="19.5">Δ<tspan class="m">E</tspan><tspan class="r" font-size="14.43" dy="3.3">2</tspan></text><text x="493.3" y="595.8" class="r" font-size="19.5">Δ<tspan class="m">E</tspan><tspan class="r" font-size="14.43" dy="3.3">1</tspan></text><text x="554.5" y="318.1" class="b">e</text><line x1="549.0" y1="378.4" x2="679.0" y2="378.4" stroke="#444" stroke-width="0.90" stroke-dasharray="4 2.6"/><line x1="614.5" y1="334.2" x2="614.5" y2="478.2" stroke="#555" stroke-width="1.30" /><line x1="568.1" y1="355.9" x2="614.5" y2="355.9" stroke="#0e9a1c" stroke-width="3.60" /><line x1="568.1" y1="391.2" x2="614.5" y2="391.2" stroke="#0e9a1c" stroke-width="1.70" /><line x1="568.1" y1="463.4" x2="614.5" y2="463.4" stroke="#0e9a1c" stroke-width="3.60" /><line x1="614.5" y1="364.5" x2="661.1" y2="364.5" stroke="#1272c8" stroke-width="1.70" /><line x1="614.5" y1="445.4" x2="661.1" y2="445.4" stroke="#1272c8" stroke-width="3.40" /><path d="M603.2 463.4C603.2 460.7 603.3 452.4 603.5 447.0C603.7 441.6 603.9 435.9 604.3 431.1C604.7 426.3 605.1 422.1 605.8 418.0C606.5 413.9 607.5 410.2 608.4 406.6C609.3 403.0 610.2 399.6 611.3 396.5C612.4 393.4 613.5 391.1 614.9 388.2C616.3 385.3 618.0 381.7 619.5 379.0C621.0 376.3 622.5 374.1 624.0 372.0C625.5 369.9 627.8 367.4 628.6 366.5" fill="none" stroke="url(#eg1)" stroke-width="1.15"/><path transform="translate(629.4 365.4) rotate(-52.0) scale(1.12)" d="M0.6 0 L-6.8 -4.5 L-3.6 0 L-6.8 4.5z" fill="#1272c8"/><path d="M625.7 445.4C625.7 443.8 625.7 439.1 625.6 436.0C625.5 432.9 625.4 430.5 625.1 427.0C624.8 423.5 624.4 418.8 623.8 415.0C623.2 411.2 622.5 407.8 621.6 404.5C620.8 401.2 619.8 398.1 618.7 395.0C617.6 391.9 616.4 389.2 614.9 386.1C613.4 383.0 611.7 379.6 610.0 376.5C608.3 373.4 606.3 370.3 604.5 367.5C602.7 364.7 600.1 360.8 599.2 359.5" fill="none" stroke="url(#eg2)" stroke-width="1.15"/><path transform="translate(598.4 358.2) rotate(-123.0) scale(1.12)" d="M0.6 0 L-6.8 -4.5 L-3.6 0 L-6.8 4.5z" fill="#0e9a1c"/><path d="M603.9 391.1C604.2 390.0 605.1 386.8 606.0 384.5C606.9 382.2 607.9 379.7 609.0 377.5C610.1 375.3 611.2 373.3 612.5 371.5C613.8 369.7 616.0 367.3 616.7 366.5" fill="none" stroke="url(#eg3)" stroke-width="1.15"/><path transform="translate(617.5 365.4) rotate(-50.0) scale(1.12)" d="M0.6 0 L-6.8 -4.5 L-3.6 0 L-6.8 4.5z" fill="#1272c8"/><circle cx="603.9" cy="391.1" r="2.4" fill="#fff" stroke="#0e9a1c" stroke-width="1.1"/><circle cx="603.2" cy="463.4" r="2.4" fill="#fff" stroke="#0e9a1c" stroke-width="1.1"/><circle cx="625.7" cy="445.4" r="2.4" fill="#fff" stroke="#1272c8" stroke-width="1.1"/><rect x="585.6" y="451.0" width="3.4" height="5.6" fill="#076034"/><circle cx="587.3" cy="447.6" r="5.7" fill="url(#sg)"/><path d="M587.3 438.4 l-4.3 4.3 h8.6z" fill="#055228"/><rect x="635.9" y="451.9" width="3.4" height="5.8" fill="#0a4cec"/><circle cx="637.6" cy="461.3" r="5.7" fill="url(#sb)"/><path d="M637.6 471.1 l-4.1 -4.3 h8.2z" fill="#0a4cec"/><text x="619" y="499.1" class="t" text-anchor="middle">Spin-flip</text><line x1="548.5" y1="558.0" x2="678.0" y2="558.0" stroke="#555" stroke-width="0.90" stroke-dasharray="4.2 2.8"/><line x1="614.2" y1="514.5" x2="614.2" y2="658.5" stroke="#555" stroke-width="1.30" /><line x1="568.2" y1="535.5" x2="614.2" y2="535.5" stroke="#0e9a1c" stroke-width="3.60" /><line x1="568.2" y1="571.0" x2="614.2" y2="571.0" stroke="#0e9a1c" stroke-width="1.70" /><line x1="568.2" y1="643.2" x2="614.2" y2="643.2" stroke="#0e9a1c" stroke-width="3.60" /><line x1="614.2" y1="544.5" x2="660.8" y2="544.5" stroke="#1272c8" stroke-width="1.70" /><line x1="614.2" y1="625.5" x2="660.8" y2="625.5" stroke="#1272c8" stroke-width="3.40" /><line x1="592.7" y1="570.5" x2="592.7" y2="538.0" stroke="#0e9a1c" stroke-width="1.20" /><path transform="translate(592.7 537.2) rotate(-90.0) scale(1.12)" d="M0.6 0 L-6.8 -4.5 L-3.6 0 L-6.8 4.5z" fill="#0e9a1c"/><line x1="601.6" y1="643.0" x2="601.6" y2="538.0" stroke="#0e9a1c" stroke-width="1.20" /><path transform="translate(601.6 537.2) rotate(-90.0) scale(1.12)" d="M0.6 0 L-6.8 -4.5 L-3.6 0 L-6.8 4.5z" fill="#0e9a1c"/><line x1="624.3" y1="625.4" x2="624.3" y2="546.0" stroke="#1272c8" stroke-width="1.20" /><path transform="translate(624.3 545.2) rotate(-90.0) scale(1.12)" d="M0.6 0 L-6.8 -4.5 L-3.6 0 L-6.8 4.5z" fill="#1272c8"/><circle cx="592.7" cy="570.6" r="2.4" fill="#fff" stroke="#0e9a1c" stroke-width="1.1"/><circle cx="601.6" cy="643.2" r="2.4" fill="#fff" stroke="#0e9a1c" stroke-width="1.1"/><circle cx="624.2" cy="625.5" r="2.4" fill="#fff" stroke="#1272c8" stroke-width="1.1"/><rect x="580.7" y="630.2" width="3.4" height="5.6" fill="#076034"/><circle cx="582.4" cy="626.8" r="5.7" fill="url(#sg)"/><path d="M582.4 617.6 l-4.3 4.3 h8.6z" fill="#055228"/><rect x="631.1" y="630.6" width="3.4" height="5.8" fill="#0a4cec"/><circle cx="632.8" cy="640.0" r="5.7" fill="url(#sb)"/><path d="M632.8 649.8 l-4.1 -4.3 h8.2z" fill="#0a4cec"/><text x="540.2" y="538.5" class="m" font-size="20" text-anchor="start">U<tspan class="r" font-size="14.8" dy="3.4">3</tspan></text><text x="540.2" y="576.6" class="m" font-size="20" text-anchor="start">U<tspan class="r" font-size="14.8" dy="3.4">2</tspan></text><text x="540.2" y="647.6" class="m" font-size="20" text-anchor="start">U<tspan class="r" font-size="14.8" dy="3.4">1</tspan></text><text x="661.6" y="549.8" class="m" font-size="20" text-anchor="start">D<tspan class="r" font-size="14.8" dy="3.4">2</tspan></text><text x="661.6" y="633.7" class="m" font-size="20" text-anchor="start">D<tspan class="r" font-size="14.8" dy="3.4">1</tspan></text><text x="619" y="679.3" class="t" text-anchor="middle">Non-spin-flip</text>
</svg>
</body></html>
